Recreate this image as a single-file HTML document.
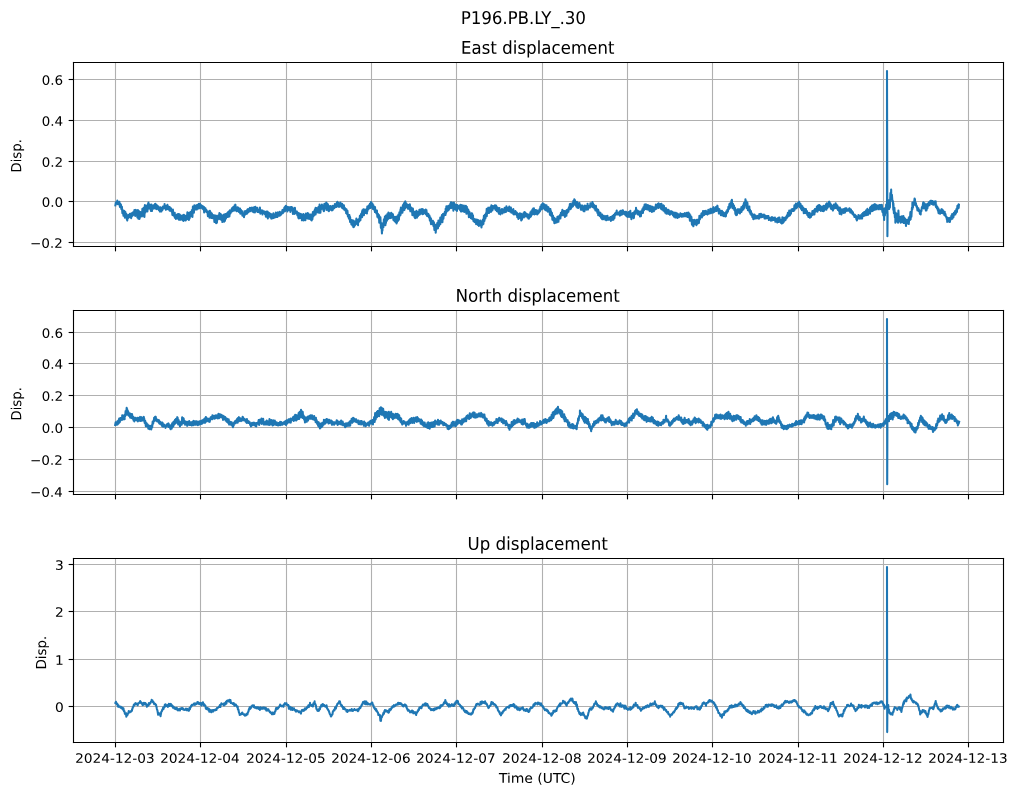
<!DOCTYPE html>
<html><head><meta charset="utf-8"><style>html,body{margin:0;padding:0;background:#fff;overflow:hidden;font-family:"Liberation Sans",sans-serif;}svg{display:block;}</style></head><body>
<svg width="1018" height="795" viewBox="0 0 732.96 572.4" version="1.1">
<defs>
<style type="text/css">*{stroke-linejoin: round; stroke-linecap: butt}</style>
</defs>
<g id="figure_1">
<g id="patch_1">
<path d="M 0 572.4
L 732.96 572.4
L 732.96 0
L 0 0
z
" style="fill: #ffffff"/>
</g>
<g id="axes_1">
<g id="patch_2">
<path d="M 52.92 177.48
L 722.52 177.48
L 722.52 45
L 52.92 45
z
" style="fill: #ffffff"/>
</g>
<g id="matplotlib.axis_1">
<g id="xtick_1">
<g id="line2d_1">
<path d="M 83.16 177.48
L 83.16 45
" clip-path="url(#p42a139c34b)" style="fill: none; stroke: #b0b0b0; stroke-width: 0.8; stroke-linecap: square"/>
</g>
<g id="line2d_2">
<defs>
<path id="m1504cfccaf" d="M 0 0
L 0 3.5
" style="stroke: #000000; stroke-width: 0.8"/>
</defs>
<g>
<use href="#m1504cfccaf" x="83.16" y="177.48" style="stroke: #000000; stroke-width: 0.8"/>
</g>
</g>
</g>
<g id="xtick_2">
<g id="line2d_3">
<path d="M 144.36 177.48
L 144.36 45
" clip-path="url(#p42a139c34b)" style="fill: none; stroke: #b0b0b0; stroke-width: 0.8; stroke-linecap: square"/>
</g>
<g id="line2d_4">
<g>
<use href="#m1504cfccaf" x="144.36" y="177.48" style="stroke: #000000; stroke-width: 0.8"/>
</g>
</g>
</g>
<g id="xtick_3">
<g id="line2d_5">
<path d="M 206.28 177.48
L 206.28 45
" clip-path="url(#p42a139c34b)" style="fill: none; stroke: #b0b0b0; stroke-width: 0.8; stroke-linecap: square"/>
</g>
<g id="line2d_6">
<g>
<use href="#m1504cfccaf" x="206.28" y="177.48" style="stroke: #000000; stroke-width: 0.8"/>
</g>
</g>
</g>
<g id="xtick_4">
<g id="line2d_7">
<path d="M 267.48 177.48
L 267.48 45
" clip-path="url(#p42a139c34b)" style="fill: none; stroke: #b0b0b0; stroke-width: 0.8; stroke-linecap: square"/>
</g>
<g id="line2d_8">
<g>
<use href="#m1504cfccaf" x="267.48" y="177.48" style="stroke: #000000; stroke-width: 0.8"/>
</g>
</g>
</g>
<g id="xtick_5">
<g id="line2d_9">
<path d="M 328.68 177.48
L 328.68 45
" clip-path="url(#p42a139c34b)" style="fill: none; stroke: #b0b0b0; stroke-width: 0.8; stroke-linecap: square"/>
</g>
<g id="line2d_10">
<g>
<use href="#m1504cfccaf" x="328.68" y="177.48" style="stroke: #000000; stroke-width: 0.8"/>
</g>
</g>
</g>
<g id="xtick_6">
<g id="line2d_11">
<path d="M 390.6 177.48
L 390.6 45
" clip-path="url(#p42a139c34b)" style="fill: none; stroke: #b0b0b0; stroke-width: 0.8; stroke-linecap: square"/>
</g>
<g id="line2d_12">
<g>
<use href="#m1504cfccaf" x="390.6" y="177.48" style="stroke: #000000; stroke-width: 0.8"/>
</g>
</g>
</g>
<g id="xtick_7">
<g id="line2d_13">
<path d="M 451.8 177.48
L 451.8 45
" clip-path="url(#p42a139c34b)" style="fill: none; stroke: #b0b0b0; stroke-width: 0.8; stroke-linecap: square"/>
</g>
<g id="line2d_14">
<g>
<use href="#m1504cfccaf" x="451.8" y="177.48" style="stroke: #000000; stroke-width: 0.8"/>
</g>
</g>
</g>
<g id="xtick_8">
<g id="line2d_15">
<path d="M 513 177.48
L 513 45
" clip-path="url(#p42a139c34b)" style="fill: none; stroke: #b0b0b0; stroke-width: 0.8; stroke-linecap: square"/>
</g>
<g id="line2d_16">
<g>
<use href="#m1504cfccaf" x="513" y="177.48" style="stroke: #000000; stroke-width: 0.8"/>
</g>
</g>
</g>
<g id="xtick_9">
<g id="line2d_17">
<path d="M 574.92 177.48
L 574.92 45
" clip-path="url(#p42a139c34b)" style="fill: none; stroke: #b0b0b0; stroke-width: 0.8; stroke-linecap: square"/>
</g>
<g id="line2d_18">
<g>
<use href="#m1504cfccaf" x="574.92" y="177.48" style="stroke: #000000; stroke-width: 0.8"/>
</g>
</g>
</g>
<g id="xtick_10">
<g id="line2d_19">
<path d="M 636.12 177.48
L 636.12 45
" clip-path="url(#p42a139c34b)" style="fill: none; stroke: #b0b0b0; stroke-width: 0.8; stroke-linecap: square"/>
</g>
<g id="line2d_20">
<g>
<use href="#m1504cfccaf" x="636.12" y="177.48" style="stroke: #000000; stroke-width: 0.8"/>
</g>
</g>
</g>
<g id="xtick_11">
<g id="line2d_21">
<path d="M 697.32 177.48
L 697.32 45
" clip-path="url(#p42a139c34b)" style="fill: none; stroke: #b0b0b0; stroke-width: 0.8; stroke-linecap: square"/>
</g>
<g id="line2d_22">
<g>
<use href="#m1504cfccaf" x="697.32" y="177.48" style="stroke: #000000; stroke-width: 0.8"/>
</g>
</g>
</g>
</g>
<g id="matplotlib.axis_2">
<g id="ytick_1">
<g id="line2d_23">
<path d="M 52.92 174.6
L 722.52 174.6
" clip-path="url(#p42a139c34b)" style="fill: none; stroke: #b0b0b0; stroke-width: 0.8; stroke-linecap: square"/>
</g>
<g id="line2d_24">
<defs>
<path id="m5d545ce8f8" d="M 0 0
L -3.5 0
" style="stroke: #000000; stroke-width: 0.8"/>
</defs>
<g>
<use href="#m5d545ce8f8" x="52.92" y="174.6" style="stroke: #000000; stroke-width: 0.8"/>
</g>
</g>
<g id="text_1">
<g transform="translate(21.6372 178.3992) scale(0.09700 -0.09300)">
<defs>
<path id="DejaVuSans-2212" d="M 678 2272
L 4684 2272
L 4684 1741
L 678 1741
L 678 2272
z
" transform="scale(0.015625)"/>
<path id="DejaVuSans-30" d="M 2034 4250
Q 1547 4250 1301 3770
Q 1056 3291 1056 2328
Q 1056 1369 1301 889
Q 1547 409 2034 409
Q 2525 409 2770 889
Q 3016 1369 3016 2328
Q 3016 3291 2770 3770
Q 2525 4250 2034 4250
z
M 2034 4750
Q 2819 4750 3233 4129
Q 3647 3509 3647 2328
Q 3647 1150 3233 529
Q 2819 -91 2034 -91
Q 1250 -91 836 529
Q 422 1150 422 2328
Q 422 3509 836 4129
Q 1250 4750 2034 4750
z
" transform="scale(0.015625)"/>
<path id="DejaVuSans-2e" d="M 684 794
L 1344 794
L 1344 0
L 684 0
L 684 794
z
" transform="scale(0.015625)"/>
<path id="DejaVuSans-32" d="M 1228 531
L 3431 531
L 3431 0
L 469 0
L 469 531
Q 828 903 1448 1529
Q 2069 2156 2228 2338
Q 2531 2678 2651 2914
Q 2772 3150 2772 3378
Q 2772 3750 2511 3984
Q 2250 4219 1831 4219
Q 1534 4219 1204 4116
Q 875 4013 500 3803
L 500 4441
Q 881 4594 1212 4672
Q 1544 4750 1819 4750
Q 2544 4750 2975 4387
Q 3406 4025 3406 3419
Q 3406 3131 3298 2873
Q 3191 2616 2906 2266
Q 2828 2175 2409 1742
Q 1991 1309 1228 531
z
" transform="scale(0.015625)"/>
</defs>
<use href="#DejaVuSans-2212"/>
<use href="#DejaVuSans-30" transform="translate(83.789062 0)"/>
<use href="#DejaVuSans-2e" transform="translate(147.412109 0)"/>
<use href="#DejaVuSans-32" transform="translate(179.199219 0)"/>
</g>
</g>
</g>
<g id="ytick_2">
<g id="line2d_25">
<path d="M 52.92 145.08
L 722.52 145.08
" clip-path="url(#p42a139c34b)" style="fill: none; stroke: #b0b0b0; stroke-width: 0.8; stroke-linecap: square"/>
</g>
<g id="line2d_26">
<g>
<use href="#m5d545ce8f8" x="52.92" y="145.08" style="stroke: #000000; stroke-width: 0.8"/>
</g>
</g>
<g id="text_2">
<g transform="translate(30.0169 148.8792) scale(0.09700 -0.09300)">
<use href="#DejaVuSans-30"/>
<use href="#DejaVuSans-2e" transform="translate(63.623047 0)"/>
<use href="#DejaVuSans-30" transform="translate(95.410156 0)"/>
</g>
</g>
</g>
<g id="ytick_3">
<g id="line2d_27">
<path d="M 52.92 116.28
L 722.52 116.28
" clip-path="url(#p42a139c34b)" style="fill: none; stroke: #b0b0b0; stroke-width: 0.8; stroke-linecap: square"/>
</g>
<g id="line2d_28">
<g>
<use href="#m5d545ce8f8" x="52.92" y="116.28" style="stroke: #000000; stroke-width: 0.8"/>
</g>
</g>
<g id="text_3">
<g transform="translate(30.0169 120.0792) scale(0.09700 -0.09300)">
<use href="#DejaVuSans-30"/>
<use href="#DejaVuSans-2e" transform="translate(63.623047 0)"/>
<use href="#DejaVuSans-32" transform="translate(95.410156 0)"/>
</g>
</g>
</g>
<g id="ytick_4">
<g id="line2d_29">
<path d="M 52.92 86.76
L 722.52 86.76
" clip-path="url(#p42a139c34b)" style="fill: none; stroke: #b0b0b0; stroke-width: 0.8; stroke-linecap: square"/>
</g>
<g id="line2d_30">
<g>
<use href="#m5d545ce8f8" x="52.92" y="86.76" style="stroke: #000000; stroke-width: 0.8"/>
</g>
</g>
<g id="text_4">
<g transform="translate(30.0169 90.5592) scale(0.09700 -0.09300)">
<defs>
<path id="DejaVuSans-34" d="M 2419 4116
L 825 1625
L 2419 1625
L 2419 4116
z
M 2253 4666
L 3047 4666
L 3047 1625
L 3713 1625
L 3713 1100
L 3047 1100
L 3047 0
L 2419 0
L 2419 1100
L 313 1100
L 313 1709
L 2253 4666
z
" transform="scale(0.015625)"/>
</defs>
<use href="#DejaVuSans-30"/>
<use href="#DejaVuSans-2e" transform="translate(63.623047 0)"/>
<use href="#DejaVuSans-34" transform="translate(95.410156 0)"/>
</g>
</g>
</g>
<g id="ytick_5">
<g id="line2d_31">
<path d="M 52.92 57.24
L 722.52 57.24
" clip-path="url(#p42a139c34b)" style="fill: none; stroke: #b0b0b0; stroke-width: 0.8; stroke-linecap: square"/>
</g>
<g id="line2d_32">
<g>
<use href="#m5d545ce8f8" x="52.92" y="57.24" style="stroke: #000000; stroke-width: 0.8"/>
</g>
</g>
<g id="text_5">
<g transform="translate(30.0169 61.0392) scale(0.09700 -0.09300)">
<defs>
<path id="DejaVuSans-36" d="M 2113 2584
Q 1688 2584 1439 2293
Q 1191 2003 1191 1497
Q 1191 994 1439 701
Q 1688 409 2113 409
Q 2538 409 2786 701
Q 3034 994 3034 1497
Q 3034 2003 2786 2293
Q 2538 2584 2113 2584
z
M 3366 4563
L 3366 3988
Q 3128 4100 2886 4159
Q 2644 4219 2406 4219
Q 1781 4219 1451 3797
Q 1122 3375 1075 2522
Q 1259 2794 1537 2939
Q 1816 3084 2150 3084
Q 2853 3084 3261 2657
Q 3669 2231 3669 1497
Q 3669 778 3244 343
Q 2819 -91 2113 -91
Q 1303 -91 875 529
Q 447 1150 447 2328
Q 447 3434 972 4092
Q 1497 4750 2381 4750
Q 2619 4750 2861 4703
Q 3103 4656 3366 4563
z
" transform="scale(0.015625)"/>
</defs>
<use href="#DejaVuSans-30"/>
<use href="#DejaVuSans-2e" transform="translate(63.623047 0)"/>
<use href="#DejaVuSans-36" transform="translate(95.410156 0)"/>
</g>
</g>
</g>
<g id="text_6">
<g transform="translate(15.2695 124.2430) rotate(-90) scale(0.09550 -0.10000)">
<defs>
<path id="DejaVuSans-44" d="M 1259 4147
L 1259 519
L 2022 519
Q 2988 519 3436 956
Q 3884 1394 3884 2338
Q 3884 3275 3436 3711
Q 2988 4147 2022 4147
L 1259 4147
z
M 628 4666
L 1925 4666
Q 3281 4666 3915 4102
Q 4550 3538 4550 2338
Q 4550 1131 3912 565
Q 3275 0 1925 0
L 628 0
L 628 4666
z
" transform="scale(0.015625)"/>
<path id="DejaVuSans-69" d="M 603 3500
L 1178 3500
L 1178 0
L 603 0
L 603 3500
z
M 603 4863
L 1178 4863
L 1178 4134
L 603 4134
L 603 4863
z
" transform="scale(0.015625)"/>
<path id="DejaVuSans-73" d="M 2834 3397
L 2834 2853
Q 2591 2978 2328 3040
Q 2066 3103 1784 3103
Q 1356 3103 1142 2972
Q 928 2841 928 2578
Q 928 2378 1081 2264
Q 1234 2150 1697 2047
L 1894 2003
Q 2506 1872 2764 1633
Q 3022 1394 3022 966
Q 3022 478 2636 193
Q 2250 -91 1575 -91
Q 1294 -91 989 -36
Q 684 19 347 128
L 347 722
Q 666 556 975 473
Q 1284 391 1588 391
Q 1994 391 2212 530
Q 2431 669 2431 922
Q 2431 1156 2273 1281
Q 2116 1406 1581 1522
L 1381 1569
Q 847 1681 609 1914
Q 372 2147 372 2553
Q 372 3047 722 3315
Q 1072 3584 1716 3584
Q 2034 3584 2315 3537
Q 2597 3491 2834 3397
z
" transform="scale(0.015625)"/>
<path id="DejaVuSans-70" d="M 1159 525
L 1159 -1331
L 581 -1331
L 581 3500
L 1159 3500
L 1159 2969
Q 1341 3281 1617 3432
Q 1894 3584 2278 3584
Q 2916 3584 3314 3078
Q 3713 2572 3713 1747
Q 3713 922 3314 415
Q 2916 -91 2278 -91
Q 1894 -91 1617 61
Q 1341 213 1159 525
z
M 3116 1747
Q 3116 2381 2855 2742
Q 2594 3103 2138 3103
Q 1681 3103 1420 2742
Q 1159 2381 1159 1747
Q 1159 1113 1420 752
Q 1681 391 2138 391
Q 2594 391 2855 752
Q 3116 1113 3116 1747
z
" transform="scale(0.015625)"/>
</defs>
<use href="#DejaVuSans-44"/>
<use href="#DejaVuSans-69" transform="translate(77.001953 0)"/>
<use href="#DejaVuSans-73" transform="translate(104.785156 0)"/>
<use href="#DejaVuSans-70" transform="translate(156.884766 0)"/>
<use href="#DejaVuSans-2e" transform="translate(220.361328 0)"/>
</g>
</g>
</g>
<g id="line2d_33">
<path d="M 83.088 147.8952
L 83.448 145.5912
L 83.808 146.3616
L 84.168 145.4904
L 84.4416 146.8008
L 84.4776 144.432
L 84.888 147.0096
L 85.248 145.6632
L 85.608 147.0816
L 85.968 145.2816
L 86.328 148.9248
L 86.5728 146.7144
L 86.6088 149.2272
L 87.048 147.2472
L 87.408 150.5016
L 87.768 148.9032
L 88.128 153.4968
L 88.488 152.0496
L 88.9416 155.3328
L 88.9776 151.5096
L 89.208 154.3752
L 89.568 151.8912
L 89.928 156.744
L 90.288 152.7408
L 90.648 156.3696
L 91.008 154.1736
L 91.368 158.148
L 91.5552 154.8936
L 91.5912 158.8032
L 92.088 155.088
L 92.448 156.8808
L 92.808 154.584
L 93.168 156.384
L 93.528 153.9864
L 93.888 156.0528
L 94.248 154.4616
L 94.4568 157.0608
L 94.4928 153.828
L 94.968 155.8152
L 95.328 153.2088
L 95.688 155.0664
L 96.048 152.5896
L 96.408 154.6488
L 96.768 151.2576
L 97.128 153.8856
L 97.3656 151.4016
L 97.4016 155.4624
L 97.848 151.1424
L 98.208 154.8576
L 98.568 152.4456
L 98.928 156.6072
L 99.288 151.2144
L 99.648 157.4856
L 100.008 151.9992
L 100.368 157.6296
L 100.5624 152.5248
L 100.5984 156.9672
L 101.088 152.6832
L 101.448 155.7576
L 101.808 152.6184
L 102.168 155.7792
L 102.528 150.3936
L 102.888 155.0592
L 103.248 150.444
L 103.464 155.5128
L 103.5 149.5656
L 103.968 156.1608
L 104.328 147.6936
L 104.688 152.964
L 105.048 149.004
L 105.408 151.2936
L 105.768 148.0032
L 106.128 152.2152
L 106.488 146.8584
L 106.848 150.1848
L 106.884 145.8864
L 107.208 149.616
L 107.568 147.024
L 107.928 150.264
L 108.288 148.572
L 108.648 151.9272
L 109.008 147.2472
L 109.4544 151.9344
L 109.4904 147.78
L 109.728 150.4584
L 110.088 148.0752
L 110.448 150.192
L 110.808 147.9024
L 111.168 149.7672
L 111.528 146.9088
L 111.8304 150.1848
L 111.8664 146.808
L 112.248 148.7664
L 112.608 147.3984
L 112.968 150.552
L 113.328 148.2336
L 113.688 150.2712
L 114.048 148.7088
L 114.408 151.3224
L 114.768 149.508
L 115.128 152.3088
L 115.56 149.3208
L 115.596 152.316
L 115.848 150.552
L 116.208 152.3016
L 116.568 149.616
L 116.928 151.2288
L 117.288 148.6656
L 117.648 150.156
L 118.008 148.4712
L 118.4616 149.796
L 118.4976 146.952
L 118.728 149.8536
L 119.088 148.0752
L 119.448 151.0632
L 119.808 148.4856
L 120.168 150.444
L 120.528 147.42
L 120.888 150.6456
L 121.248 148.6368
L 121.608 150.8544
L 122.1408 149.0328
L 122.1768 151.7832
L 122.328 149.4792
L 122.688 151.2432
L 123.048 149.9328
L 123.408 152.0928
L 123.768 151.128
L 124.128 154.6776
L 124.488 150.8688
L 124.848 155.1024
L 125.208 153.9504
L 125.568 155.7576
L 125.8128 153.18
L 125.8488 156.708
L 126.288 155.0304
L 126.648 157.5864
L 127.008 154.8504
L 127.368 157.2696
L 127.728 154.2384
L 128.088 157.2912
L 128.448 154.1808
L 128.808 158.1984
L 129.168 154.2168
L 129.528 157.8096
L 129.8088 154.8864
L 129.8448 158.2632
L 130.248 155.484
L 130.608 157.5792
L 130.968 155.2896
L 131.328 158.3352
L 131.688 154.9512
L 132.048 159.1416
L 132.408 154.5984
L 132.768 158.2848
L 133.128 155.6856
L 133.632 158.7384
L 133.668 155.3688
L 133.848 158.4072
L 134.208 155.2536
L 134.568 157.1472
L 134.928 152.9136
L 135.288 157.7808
L 135.648 153.4248
L 136.008 158.3424
L 136.4976 152.9784
L 136.5336 157.3056
L 136.728 154.7784
L 137.088 155.8368
L 137.448 152.46
L 137.808 155.232
L 138.168 151.1568
L 138.528 156.2328
L 138.888 148.7448
L 139.356 153.0144
L 139.392 148.68
L 139.608 153.1152
L 139.968 147.7296
L 140.328 150.6096
L 140.688 148.7448
L 141.048 150.8832
L 141.408 147.888
L 141.768 150.7392
L 142.128 147.6792
L 142.488 149.9112
L 142.848 147.168
L 143.1792 150.1488
L 143.2152 146.772
L 143.568 149.2704
L 143.928 146.6784
L 144.288 149.6592
L 144.648 147.564
L 145.008 149.5872
L 145.368 148.1616
L 145.728 150.2568
L 146.088 148.5504
L 146.448 150.7968
L 146.808 149.0976
L 146.9952 153.0144
L 147.0312 149.1624
L 147.528 151.344
L 147.888 149.9472
L 148.248 152.2944
L 148.608 151.2432
L 148.968 152.784
L 149.328 152.2512
L 149.688 155.6712
L 150.048 152.3376
L 150.408 155.5632
L 150.8184 152.9784
L 150.8544 156.8304
L 151.128 151.8192
L 151.488 155.9232
L 151.848 153.0576
L 152.208 156.924
L 152.568 153.7632
L 152.928 157.032
L 153.288 154.8
L 153.648 156.7008
L 154.008 155.1672
L 154.368 159.804
L 154.728 155.0088
L 155.088 158.2344
L 155.592 155.844
L 155.628 160.6536
L 155.808 155.2968
L 156.168 160.3296
L 156.528 155.8584
L 156.888 158.0184
L 157.248 155.0592
L 157.608 157.4424
L 157.968 153.4248
L 158.4576 157.788
L 158.4936 153.936
L 158.688 157.2984
L 159.048 154.296
L 159.408 158.364
L 159.768 156.2256
L 160.128 159.8616
L 160.488 154.9872
L 160.848 158.58
L 161.3232 154.4112
L 161.3592 159.696
L 161.568 154.7712
L 161.928 158.9832
L 162.288 154.0584
L 162.648 157.3704
L 163.008 154.152
L 163.368 156.2328
L 163.728 153.2736
L 164.088 156.2472
L 164.448 152.4168
L 164.808 155.9016
L 165.1392 152.0208
L 165.1752 155.88
L 165.528 151.4664
L 165.888 153.756
L 166.248 152.0712
L 166.608 152.4096
L 166.968 149.8896
L 167.328 152.1216
L 167.688 149.3352
L 168.048 151.6608
L 168.408 148.8816
L 168.768 149.9688
L 168.9624 147.7296
L 168.9984 151.5816
L 169.488 147.3624
L 169.848 151.6032
L 170.208 149.7528
L 170.568 152.136
L 170.928 149.2272
L 171.288 151.4664
L 171.648 149.5944
L 172.008 152.5968
L 172.368 150.5088
L 172.7928 153.252
L 172.8288 150.1128
L 173.088 153.792
L 173.448 151.128
L 173.808 153.1944
L 174.168 151.9416
L 174.528 155.196
L 174.888 153.9432
L 175.248 155.6208
L 175.6584 153.4536
L 175.6944 156.3552
L 175.968 152.208
L 176.328 154.7784
L 176.688 152.2008
L 177.048 153.9648
L 177.408 151.7832
L 177.768 153.9576
L 178.128 150.8688
L 178.5312 153.0144
L 178.5672 150.588
L 178.848 152.82
L 179.208 150.8472
L 179.568 152.1576
L 179.928 149.5728
L 180.288 152.0568
L 180.648 150.0264
L 181.008 151.1712
L 181.368 149.5224
L 181.728 152.2152
L 182.088 149.6232
L 182.3472 152.532
L 182.3832 149.6376
L 182.808 152.82
L 183.168 149.184
L 183.528 153
L 183.888 148.896
L 184.248 151.7544
L 184.608 150.5088
L 184.968 151.6968
L 185.2128 149.6376
L 185.2488 152.532
L 185.688 151.2288
L 186.048 152.6832
L 186.408 150.9696
L 186.768 152.8056
L 187.128 149.5008
L 187.488 153.828
L 187.848 152.1576
L 188.208 153.2592
L 188.568 151.38
L 189.036 154.4472
L 189.072 151.5456
L 189.288 153.7416
L 189.648 152.0568
L 190.008 153.2232
L 190.368 152.2656
L 190.728 154.0224
L 191.088 153.5832
L 191.448 155.9592
L 191.808 152.316
L 192.168 156.0672
L 192.528 152.2296
L 192.852 157.3056
L 192.888 153.4536
L 193.248 155.9664
L 193.608 153.1152
L 193.968 155.8224
L 194.328 153.7848
L 194.688 156.5856
L 195.048 154.0512
L 195.408 157.3776
L 195.7176 154.4112
L 195.7536 157.3056
L 196.128 155.4696
L 196.488 157.0464
L 196.848 153.648
L 197.208 156.9024
L 197.568 154.4112
L 197.928 156.6144
L 198.288 154.6344
L 198.5832 155.88
L 198.6192 152.9784
L 199.008 156.2688
L 199.368 153.684
L 199.728 156.2112
L 200.088 152.9136
L 200.448 155.3688
L 200.808 153.6912
L 201.168 154.9728
L 201.4488 152.5032
L 201.4848 155.3976
L 201.888 153.7992
L 202.248 154.728
L 202.608 152.8848
L 202.968 153.7344
L 203.328 151.2792
L 203.688 153.432
L 204.048 150.8832
L 204.408 152.5248
L 204.768 149.3856
L 205.2648 152.0568
L 205.3008 148.68
L 205.488 151.3152
L 205.848 148.1544
L 206.208 151.0128
L 206.568 148.9608
L 206.928 152.28
L 207.288 149.1408
L 207.648 151.0776
L 208.008 149.2992
L 208.368 151.1784
L 208.728 149.184
L 209.088 152.532
L 209.124 149.1624
L 209.448 151.3152
L 209.808 149.0904
L 210.168 151.2864
L 210.528 149.4072
L 210.888 154.0224
L 211.248 150.1272
L 211.608 153.3672
L 211.9536 150.1128
L 211.9896 153.9648
L 212.328 149.5944
L 212.688 153.5616
L 213.048 152.1432
L 213.408 153.7128
L 213.768 152.3736
L 214.128 155.0088
L 214.488 153.2664
L 214.8192 156.8304
L 214.8552 153.4536
L 215.208 157.2912
L 215.568 153.72
L 215.928 157.0104
L 216.288 154.0224
L 216.648 156.2544
L 217.008 154.2672
L 217.368 158.6376
L 217.728 155.8296
L 218.088 158.0328
L 218.448 154.1376
L 218.6352 158.7384
L 218.6712 154.4112
L 219.168 157.4424
L 219.528 155.7216
L 219.888 158.508
L 220.248 153.7416
L 220.608 156.9672
L 220.968 153.684
L 221.5008 157.3056
L 221.5368 153.4536
L 221.688 157.1976
L 222.048 153.8352
L 222.408 157.5288
L 222.768 155.8944
L 223.128 157.6152
L 223.488 154.5408
L 223.848 158.0976
L 224.3664 154.4112
L 224.4024 158.7384
L 224.568 154.8
L 224.928 157.8672
L 225.288 152.5896
L 225.648 155.7144
L 226.008 152.1864
L 226.368 154.7352
L 226.728 150.696
L 227.232 154.4472
L 227.268 149.6376
L 227.448 152.7408
L 227.808 149.7312
L 228.168 153
L 228.528 150.0696
L 228.888 152.2872
L 229.248 149.1552
L 229.608 153.1584
L 230.0976 147.2472
L 230.1336 152.0568
L 230.328 148.8168
L 230.688 153.144
L 231.048 148.2552
L 231.408 150.4944
L 231.768 147.3264
L 232.128 150.2784
L 232.488 148.4064
L 232.956 151.5816
L 232.992 147.7296
L 233.208 152.0928
L 233.568 146.7432
L 233.928 149.3712
L 234.288 147.2976
L 234.648 149.8392
L 234.8712 145.8144
L 234.9072 151.0992
L 235.368 146.3184
L 235.728 150.9264
L 236.088 147.1464
L 236.448 151.6464
L 236.7792 148.68
L 236.8152 152.0568
L 237.168 148.5864
L 237.528 151.2576
L 237.888 148.3344
L 238.248 150.516
L 238.608 149.0544
L 238.968 151.5096
L 239.328 148.3272
L 239.6448 151.0992
L 239.6808 148.2048
L 240.048 150.0048
L 240.408 148.2768
L 240.768 149.9328
L 241.128 146.8368
L 241.488 149.0328
L 241.848 146.8512
L 242.208 149.0256
L 242.5104 145.8144
L 242.5464 148.716
L 242.928 145.3392
L 243.288 147.8808
L 243.648 146.232
L 244.008 148.9104
L 244.368 146.6496
L 244.728 148.7664
L 245.088 145.764
L 245.448 148.4136
L 245.808 146.8368
L 246.3264 149.6664
L 246.3624 146.772
L 246.528 148.2408
L 246.888 147.6864
L 247.248 150.3216
L 247.608 147.8664
L 247.968 151.0344
L 248.328 149.7744
L 248.688 151.5024
L 249.192 150.588
L 249.228 153.4896
L 249.408 150.6312
L 249.768 153.936
L 250.128 151.6968
L 250.488 155.7648
L 250.848 154.6488
L 251.208 157.3128
L 251.568 154.8864
L 252.0576 159.696
L 252.0936 156.3192
L 252.288 159.8904
L 252.648 158.4072
L 253.008 161.4816
L 253.368 158.3856
L 253.728 162.324
L 254.088 159.8328
L 254.448 163.5192
L 254.484 158.7096
L 254.808 163.3248
L 255.168 159.7968
L 255.528 162.3384
L 255.888 159.2928
L 256.248 161.3664
L 256.608 157.2768
L 256.968 160.9128
L 257.328 158.4216
L 257.7888 162.0864
L 257.8248 158.2272
L 258.048 160.1352
L 258.408 157.7088
L 258.768 159.4872
L 259.128 155.3328
L 259.488 158.4648
L 259.848 154.1448
L 260.208 156.1608
L 260.6544 152.5032
L 260.6904 156.3552
L 260.928 151.38
L 261.288 154.512
L 261.648 150.7104
L 262.008 154.9224
L 262.368 150.9408
L 262.728 153.3888
L 263.088 151.6608
L 263.448 153.3744
L 263.808 150.5232
L 264.168 153.6552
L 264.4704 148.68
L 264.5064 152.0568
L 264.888 148.6368
L 265.248 150.6816
L 265.608 147.8808
L 265.968 149.9184
L 266.328 146.7576
L 266.688 149.7456
L 267.1056 145.4688
L 267.1416 148.8456
L 267.408 146.1528
L 267.768 149.4144
L 268.128 146.592
L 268.488 150.4296
L 268.848 147.8016
L 269.208 150.7248
L 269.568 149.112
L 269.9712 152.6616
L 270.0072 149.0472
L 270.288 152.7912
L 270.648 151.3512
L 271.008 153.612
L 271.368 151.524
L 271.728 156.1104
L 272.088 153.8928
L 272.448 156.9168
L 272.808 154.8072
L 273.0816 160.4304
L 273.1176 155.6208
L 273.528 160.1424
L 273.888 156.5208
L 274.248 164.0376
L 274.608 160.5816
L 274.9968 168.0696
L 275.0328 162.3096
L 275.328 166.1328
L 275.688 160.7472
L 276.048 163.5048
L 276.408 157.9104
L 276.768 161.6832
L 277.128 155.988
L 277.488 162.1728
L 277.8624 155.1456
L 277.8984 160.4304
L 278.208 156.0456
L 278.568 158.8896
L 278.928 154.044
L 279.288 157.8816
L 279.648 153.108
L 280.008 156.42
L 280.368 153.6264
L 280.728 157.104
L 281.088 154.3968
L 281.448 156.924
L 281.6784 153.2376
L 281.7144 156.6144
L 282.168 153.7056
L 282.528 156.1464
L 282.888 154.2384
L 283.248 158.292
L 283.608 156.3192
L 283.968 159.0624
L 284.328 156.0888
L 284.688 159.7248
L 285.048 156.2688
L 285.5016 160.9056
L 285.5376 156.5784
L 285.768 160.2864
L 286.128 155.5056
L 286.488 159.048
L 286.848 154.4688
L 287.208 158.2344
L 287.568 152.9208
L 287.928 155.1888
L 288.36 150.8472
L 288.396 154.6992
L 288.648 149.3712
L 289.008 152.46
L 289.368 149.5728
L 289.728 153.1224
L 290.088 147.5928
L 290.448 151.4376
L 290.808 146.3904
L 291.168 151.1136
L 291.708 145.1232
L 291.744 149.9256
L 291.888 145.1448
L 292.248 149.3712
L 292.608 146.4768
L 292.968 149.076
L 293.328 147.348
L 293.688 150.1992
L 294.048 147.6
L 294.408 150.2712
L 294.768 147.3192
L 295.0488 150.8832
L 295.0848 147.0312
L 295.488 152.1432
L 295.848 149.1624
L 296.208 152.2224
L 296.568 149.8752
L 296.928 154.8936
L 297.288 150.228
L 297.648 154.3104
L 298.008 152.2584
L 298.368 156.2184
L 298.8648 152.7624
L 298.9008 157.0896
L 299.088 154.6848
L 299.448 155.6064
L 299.808 151.7616
L 300.168 156.672
L 300.528 152.4096
L 300.888 155.6712
L 301.248 152.5824
L 301.608 154.8072
L 301.968 150.9696
L 302.328 154.3464
L 302.688 150.8472
L 302.724 153.7488
L 303.048 151.308
L 303.408 153
L 303.768 150.516
L 304.128 154.2672
L 304.488 150.7392
L 304.848 154.0224
L 305.208 151.8912
L 305.568 153.288
L 305.928 151.164
L 306.288 153.2376
L 306.504 150.8472
L 306.54 154.224
L 307.008 151.236
L 307.368 155.3976
L 307.728 153.5472
L 308.088 155.6208
L 308.448 154.1448
L 308.808 156.5568
L 309.168 155.1024
L 309.528 158.7816
L 309.888 156.6
L 310.3272 161.388
L 310.3632 157.536
L 310.608 160.7256
L 310.968 159.1128
L 311.328 161.2728
L 311.688 158.9544
L 312.048 162.612
L 312.408 160.1064
L 312.768 165.6072
L 313.128 161.7696
L 313.488 165.276
L 313.668 162.3096
L 313.704 167.5944
L 314.208 161.5464
L 314.568 164.664
L 314.928 160.4736
L 315.288 164.3832
L 315.648 158.8536
L 316.008 162.8424
L 316.368 159.5592
L 316.728 161.5968
L 317.0088 156.5784
L 317.0448 161.388
L 317.448 156.9456
L 317.808 159.8256
L 318.168 154.9008
L 318.528 159.9552
L 318.888 154.188
L 319.248 157.5144
L 319.608 153.684
L 319.968 155.016
L 320.328 152.4456
L 320.832 154.6992
L 320.868 150.372
L 321.048 153.4896
L 321.408 148.572
L 321.768 152.208
L 322.128 148.6656
L 322.488 151.5744
L 322.848 148.3056
L 323.208 151.0128
L 323.568 147.8232
L 323.928 149.58
L 324.288 146.5704
L 324.648 149.9256
L 324.684 145.5984
L 325.008 149.7096
L 325.368 145.872
L 325.728 148.824
L 326.088 147.0384
L 326.448 151.632
L 326.808 145.872
L 327.168 150.1776
L 327.528 147.0528
L 327.888 150.5664
L 328.248 147.6072
L 328.4712 151.3584
L 328.5072 147.5064
L 328.968 151.8696
L 329.328 147.636
L 329.688 150.1128
L 330.048 148.9032
L 330.408 150.0264
L 330.768 148.1256
L 331.128 151.0704
L 331.488 147.4776
L 331.848 152.2368
L 332.2872 147.9816
L 332.3232 152.316
L 332.568 147.6288
L 332.928 150.8544
L 333.288 148.9032
L 333.648 152.2296
L 334.008 147.9456
L 334.368 152.5392
L 334.728 149.7024
L 335.088 152.4168
L 335.448 148.2408
L 335.808 153.7992
L 336.1104 148.9392
L 336.1464 153.7488
L 336.528 150.1128
L 336.888 153
L 337.248 151.2864
L 337.608 156.4128
L 337.968 152.5536
L 338.328 156.1752
L 338.688 154.2672
L 339.048 157.1112
L 339.408 153.5112
L 339.9264 157.5648
L 339.9624 153.7128
L 340.128 157.5576
L 340.488 154.9368
L 340.848 159.0912
L 341.208 157.5
L 341.568 159.8112
L 341.928 157.8384
L 342.288 160.092
L 342.792 158.0112
L 342.828 161.388
L 343.008 160.1136
L 343.368 160.9704
L 343.728 158.3136
L 344.088 161.9496
L 344.448 158.6304
L 344.808 162.6336
L 345.168 159.4152
L 345.528 162.0432
L 345.888 158.8392
L 346.248 162.3816
L 346.6152 159.444
L 346.6512 163.7712
L 346.968 159.732
L 347.328 161.8416
L 347.688 158.0688
L 348.048 161.3232
L 348.408 155.3544
L 348.768 159.0048
L 349.128 154.7136
L 349.488 157.212
L 349.848 153.4968
L 350.208 154.98
L 350.4312 150.372
L 350.4672 155.6568
L 350.928 150.1056
L 351.288 153.3672
L 351.648 149.5224
L 352.008 153.3816
L 352.368 150.408
L 352.728 152.1504
L 353.088 149.1552
L 353.448 152.5536
L 353.808 147.8664
L 354.2544 151.3584
L 354.2904 148.464
L 354.528 151.488
L 354.888 148.2696
L 355.248 150.0984
L 355.608 148.5
L 355.968 149.7672
L 356.328 147.8808
L 356.688 150.9336
L 357.1128 147.9816
L 357.1488 151.3584
L 357.408 148.5432
L 357.768 152.064
L 358.128 149.3856
L 358.488 152.3808
L 358.848 149.9976
L 359.208 153.8424
L 359.568 149.7096
L 359.928 153.3816
L 360.2304 151.2
L 360.2664 154.332
L 360.648 151.4088
L 361.008 152.9136
L 361.368 150.5088
L 361.728 153.6264
L 362.088 150.9192
L 362.448 152.964
L 362.808 150.7536
L 363.3336 152.8992
L 363.3696 149.5296
L 363.528 152.4456
L 363.888 150.552
L 364.248 152.6184
L 364.608 148.5072
L 364.968 151.344
L 365.328 149.8824
L 365.688 151.7184
L 366.048 149.364
L 366.408 151.9416
L 366.6816 148.68
L 366.7176 152.0568
L 367.128 149.7816
L 367.488 152.424
L 367.848 149.4144
L 368.208 153.1512
L 368.568 151.2936
L 368.928 153.0288
L 369.288 151.1208
L 369.5472 153.9648
L 369.5832 150.588
L 370.008 154.404
L 370.368 152.3448
L 370.728 154.1592
L 371.088 151.9704
L 371.448 154.296
L 371.808 152.8272
L 372.168 154.9512
L 372.4128 153.4536
L 372.4488 156.3552
L 372.888 153.8856
L 373.248 157.5936
L 373.608 155.0016
L 373.968 156.4272
L 374.328 153.6192
L 374.688 156.9744
L 375.048 154.4544
L 375.2784 158.7384
L 375.3144 153.936
L 375.768 158.0976
L 376.128 155.1672
L 376.488 156.132
L 376.848 153.5616
L 377.208 156.5064
L 377.568 152.7048
L 377.928 155.1744
L 378.144 152.9784
L 378.18 155.88
L 378.648 153.7056
L 379.008 154.8
L 379.368 153.9864
L 379.728 156.5064
L 380.088 154.6272
L 380.5272 157.3056
L 380.5632 154.4112
L 380.808 157.4496
L 381.168 155.0016
L 381.528 156.4848
L 381.888 152.9136
L 382.248 155.8512
L 382.608 151.9632
L 382.968 154.584
L 383.328 150.9624
L 383.688 154.1016
L 383.8752 150.1128
L 383.9112 153.9648
L 384.408 150.0336
L 384.768 154.4472
L 385.128 151.1424
L 385.488 154.044
L 385.848 151.1568
L 386.208 153.9
L 386.7408 151.5456
L 386.7768 154.4472
L 386.928 152.0208
L 387.288 153.864
L 387.648 152.1792
L 388.008 153.1368
L 388.368 150.7104
L 388.728 152.2584
L 389.088 148.788
L 389.448 150.9336
L 389.808 147.5208
L 390.168 150.6168
L 390.5568 146.772
L 390.5928 150.1488
L 390.888 146.3616
L 391.248 148.8672
L 391.608 146.9952
L 391.968 150.4656
L 392.328 147.5064
L 392.688 151.2504
L 393.048 148.4928
L 393.4224 151.5816
L 393.4584 147.7296
L 393.768 151.6536
L 394.128 148.8168
L 394.488 152.3736
L 394.848 149.328
L 395.208 152.0136
L 395.568 150.3648
L 395.928 154.5264
L 396.288 150.588
L 396.324 154.9224
L 396.648 152.0064
L 397.008 155.4984
L 397.368 153.288
L 397.728 158.1768
L 398.088 155.1168
L 398.448 158.7384
L 398.808 157.2912
L 399.1536 160.6536
L 399.1896 156.8016
L 399.528 160.0848
L 399.888 157.7016
L 400.248 160.4016
L 400.608 157.7952
L 400.968 160.056
L 401.328 156.0456
L 401.688 158.0328
L 402.0192 155.844
L 402.0552 159.696
L 402.408 155.8152
L 402.768 156.852
L 403.128 154.9008
L 403.488 157.3056
L 403.848 153.2304
L 404.208 155.1528
L 404.568 152.244
L 404.8776 154.9224
L 404.9136 151.0704
L 405.288 154.8576
L 405.648 151.9344
L 406.008 154.9944
L 406.368 151.9776
L 406.728 156.2112
L 407.088 152.5032
L 407.448 154.3968
L 407.7432 151.5456
L 407.7792 155.3976
L 408.168 151.2072
L 408.528 153.3096
L 408.888 150.7824
L 409.248 152.4744
L 409.608 149.2416
L 409.968 150.1056
L 410.328 146.844
L 410.6088 150.624
L 410.6448 146.772
L 411.048 150.192
L 411.408 147.204
L 411.768 149.1624
L 412.128 146.2536
L 412.488 148.5216
L 412.848 144.6336
L 413.208 147.2688
L 413.4744 143.4312
L 413.5104 147.2832
L 413.928 144.0072
L 414.288 147.7728
L 414.648 146.2968
L 415.008 148.752
L 415.368 145.332
L 415.728 149.5872
L 416.088 147.1392
L 416.34 149.6664
L 416.376 146.2968
L 416.808 148.6296
L 417.168 146.1528
L 417.528 148.8168
L 417.888 147.8232
L 418.248 151.0056
L 418.608 148.0896
L 418.968 151.0632
L 419.328 147.9528
L 419.688 150.6024
L 420.156 148.68
L 420.192 152.0568
L 420.408 149.9904
L 420.768 152.136
L 421.128 147.96
L 421.488 150.8184
L 421.848 148.356
L 422.208 150.948
L 422.568 148.2264
L 423.0216 150.1488
L 423.0576 146.772
L 423.288 150.8616
L 423.648 148.3704
L 424.008 149.2632
L 424.368 148.1256
L 424.728 149.5296
L 425.088 146.4336
L 425.448 148.8888
L 425.808 146.484
L 426.168 148.1832
L 426.528 145.512
L 426.8448 149.1912
L 426.8808 146.2968
L 427.248 148.6296
L 427.608 147.4632
L 427.968 150.1704
L 428.328 148.8384
L 428.688 151.452
L 429.048 148.1256
L 429.408 151.7544
L 429.768 150.516
L 430.128 153.1728
L 430.6608 151.0704
L 430.6968 154.9224
L 430.848 151.6896
L 431.208 154.7208
L 431.568 152.9856
L 431.928 155.5128
L 432.288 153.1944
L 432.648 156.7728
L 433.008 154.4472
L 433.5264 157.788
L 433.5624 154.4112
L 433.728 157.8168
L 434.088 155.4192
L 434.448 157.8168
L 434.808 155.2896
L 435.168 157.4712
L 435.528 156.204
L 435.888 158.2488
L 436.248 155.5416
L 436.608 158.6088
L 436.968 156.7872
L 437.3496 158.2632
L 437.3856 155.3688
L 437.688 157.9176
L 438.048 157.2264
L 438.408 158.2488
L 438.768 156.8376
L 439.128 158.04
L 439.488 156.2112
L 439.848 159.0408
L 440.208 156.276
L 440.568 158.436
L 440.928 155.484
L 441.1656 158.2632
L 441.2016 155.3688
L 441.648 158.1696
L 442.008 154.728
L 442.368 157.0536
L 442.728 153.6696
L 443.088 154.728
L 443.448 152.9568
L 443.808 154.2744
L 444.0312 151.5456
L 444.0672 154.4472
L 444.528 153
L 444.888 154.4832
L 445.248 153.1584
L 445.608 154.3968
L 445.968 152.6328
L 446.328 155.2176
L 446.688 151.848
L 447.048 154.7928
L 447.408 152.6976
L 447.8544 154.4472
L 447.8904 151.5456
L 448.128 154.2384
L 448.488 151.3728
L 448.848 153.2952
L 449.208 152.7192
L 449.568 154.2168
L 449.928 152.4312
L 450.288 154.7136
L 450.7128 152.5032
L 450.7488 155.3976
L 451.008 153.7848
L 451.368 155.8008
L 451.728 153.288
L 452.088 156.1824
L 452.448 152.8416
L 452.808 155.9376
L 453.168 152.5608
L 453.528 156.2472
L 453.8304 151.7832
L 453.8664 155.6352
L 454.248 153.6624
L 454.608 157.7808
L 454.968 153.8352
L 455.328 155.7648
L 455.688 153.3168
L 456.2136 157.068
L 456.2496 153.936
L 456.408 156.636
L 456.768 152.2584
L 457.128 154.2816
L 457.488 151.6392
L 457.8984 153.0144
L 457.9344 149.6376
L 458.208 153.1872
L 458.568 151.3872
L 458.928 154.2528
L 459.288 151.7976
L 459.648 154.5768
L 460.008 152.2944
L 460.368 154.4688
L 460.764 152.5032
L 460.8 155.88
L 461.088 153.0504
L 461.448 155.6424
L 461.808 152.0136
L 462.168 153.0144
L 462.528 150.5448
L 462.888 153.3744
L 463.248 149.2056
L 463.608 151.4016
L 464.1048 147.2472
L 464.1408 150.624
L 464.328 149.148
L 464.688 150.408
L 465.048 147.132
L 465.408 150.6672
L 465.768 147.9744
L 466.128 150.804
L 466.488 147.708
L 466.848 150.7464
L 467.208 148.7952
L 467.568 151.6536
L 467.9208 148.2048
L 467.9568 152.0568
L 468.288 149.3352
L 468.648 151.6176
L 469.008 148.7736
L 469.368 152.6112
L 469.728 148.968
L 470.088 152.0424
L 470.448 149.832
L 470.7864 152.0568
L 470.8224 149.1624
L 471.168 150.9336
L 471.528 149.2344
L 471.888 150.7104
L 472.248 147.1896
L 472.608 150.3216
L 472.968 148.1112
L 473.328 149.4504
L 473.688 146.8224
L 474.1272 149.6664
L 474.1632 146.2968
L 474.408 149.364
L 474.768 147.348
L 475.128 148.5864
L 475.488 146.9736
L 475.848 150.1776
L 476.208 146.6496
L 476.568 150.732
L 476.928 148.8384
L 477.288 151.092
L 477.4752 147.7296
L 477.5112 151.5816
L 478.008 148.1328
L 478.368 152.172
L 478.728 150.0264
L 479.088 153.2016
L 479.448 149.868
L 479.808 153.8136
L 480.168 150.8328
L 480.528 153.6624
L 480.888 151.1856
L 481.2912 153.9648
L 481.3272 151.0704
L 481.608 153.1872
L 481.968 152.1432
L 482.328 154.62
L 482.688 152.1144
L 483.048 153.7056
L 483.408 152.1648
L 483.768 153.9648
L 484.128 152.5608
L 484.488 154.7712
L 484.848 153.5256
L 485.1144 155.88
L 485.1504 152.9784
L 485.568 156.0672
L 485.928 153.2592
L 486.288 156.6504
L 486.648 153.216
L 487.008 155.6712
L 487.368 153.756
L 487.728 156.8952
L 487.98 153.936
L 488.016 156.3552
L 488.448 154.44
L 488.808 156.384
L 489.168 154.7208
L 489.528 155.9448
L 489.888 153.5112
L 490.248 155.4696
L 490.608 154.08
L 490.968 156.0888
L 491.328 154.6992
L 491.796 155.88
L 491.832 153.936
L 492.048 155.7864
L 492.408 154.3464
L 492.768 155.5704
L 493.128 153.4392
L 493.488 155.6784
L 493.848 154.2672
L 494.208 155.592
L 494.568 153.2304
L 494.928 156.24
L 495.288 154.08
L 495.6192 156.3552
L 495.6552 152.9784
L 496.008 156.204
L 496.368 153.9144
L 496.728 158.8392
L 497.088 155.052
L 497.448 158.8752
L 497.808 156.1752
L 498.168 161.4456
L 498.4776 158.2272
L 498.5136 162.0864
L 498.888 158.6808
L 499.248 162.9288
L 499.608 158.3928
L 499.968 161.3808
L 500.328 158.3424
L 500.688 160.128
L 501.048 159.012
L 501.408 162.1584
L 501.768 158.2056
L 502.3008 161.1288
L 502.3368 158.2272
L 502.488 160.6896
L 502.848 158.4864
L 503.208 160.56
L 503.568 155.4048
L 503.928 158.004
L 504.288 155.3544
L 504.648 156.4056
L 505.008 153.7992
L 505.368 156.5352
L 505.728 153.2232
L 506.1168 155.3976
L 506.1528 152.0208
L 506.448 154.188
L 506.808 152.136
L 507.168 154.7928
L 507.528 151.9704
L 507.888 153.9648
L 508.248 151.8192
L 508.608 154.0584
L 508.968 153.0792
L 509.328 154.512
L 509.688 152.1504
L 509.94 153.4896
L 509.976 151.0704
L 510.408 153.9
L 510.768 151.4088
L 511.128 152.8488
L 511.488 150.264
L 511.848 153.5616
L 512.208 151.4736
L 512.568 152.9784
L 512.928 150.1344
L 513.288 153.0864
L 513.756 149.1624
L 513.792 152.532
L 514.008 150.6528
L 514.368 152.532
L 514.728 150.0264
L 515.088 150.984
L 515.448 149.0688
L 515.808 151.9344
L 516.1464 148.68
L 516.1824 151.5816
L 516.528 148.0824
L 516.888 151.056
L 517.248 150.2064
L 517.608 153.7704
L 517.968 150.6024
L 518.328 153.1296
L 518.688 151.8408
L 519.048 154.9008
L 519.4872 152.0208
L 519.5232 154.9224
L 519.768 151.7328
L 520.128 153.7272
L 520.488 152.6184
L 520.848 155.5848
L 521.208 153.2952
L 521.568 155.5272
L 521.928 153.7272
L 522.3528 155.88
L 522.3888 152.9784
L 522.648 155.592
L 523.008 152.0784
L 523.368 153.468
L 523.728 150.984
L 524.088 152.3736
L 524.448 148.9752
L 524.808 150.6672
L 525.168 147.0024
L 525.528 149.652
L 525.888 146.2752
L 526.248 148.5864
L 526.6512 144.3816
L 526.6872 147.7584
L 526.968 143.7912
L 527.328 149.6736
L 527.688 146.664
L 528.048 150.1632
L 528.408 147.9096
L 528.768 151.2576
L 529.128 149.544
L 529.488 153.9792
L 529.992 151.5456
L 530.028 154.9224
L 530.208 152.4456
L 530.568 154.6776
L 530.928 150.768
L 531.288 153.36
L 531.648 150.7032
L 532.008 152.9352
L 532.368 150.732
L 532.728 153.72
L 533.088 151.128
L 533.448 151.9632
L 533.8152 149.1624
L 533.8512 152.532
L 534.168 150.0336
L 534.528 151.4376
L 534.888 148.0392
L 535.248 150.7032
L 535.608 146.1384
L 535.968 149.6304
L 536.328 145.3896
L 536.6736 147.7584
L 536.7096 143.4312
L 537.048 146.952
L 537.408 144.9
L 537.768 149.9688
L 538.128 145.9728
L 538.488 151.3152
L 538.848 149.328
L 539.208 151.3224
L 539.5392 148.68
L 539.5752 152.532
L 539.928 150.8328
L 540.288 153.9216
L 540.648 151.9272
L 541.008 154.9584
L 541.368 153.7848
L 541.728 156.3768
L 542.088 154.4112
L 542.4048 157.788
L 542.4408 154.8864
L 542.808 157.6224
L 543.168 154.44
L 543.528 157.1616
L 543.888 155.1312
L 544.248 157.2984
L 544.608 155.88
L 544.968 157.104
L 545.328 155.4552
L 545.688 157.0104
L 546.048 155.4624
L 546.408 157.4208
L 546.7104 154.1736
L 546.7464 157.068
L 547.128 154.4976
L 547.488 155.8872
L 547.848 153.8568
L 548.208 156.4416
L 548.568 154.4976
L 548.928 156.168
L 549.288 155.0736
L 549.648 155.9952
L 550.008 154.4976
L 550.5336 157.3056
L 550.5696 154.8864
L 550.728 157.212
L 551.088 155.4408
L 551.448 157.2336
L 551.808 155.7072
L 552.168 157.104
L 552.528 155.4768
L 552.888 156.9312
L 553.248 155.556
L 553.608 158.4216
L 553.968 156.7152
L 554.328 158.0976
L 554.688 157.716
L 555.048 158.868
L 555.408 156.4992
L 555.7968 158.7384
L 555.8328 156.3192
L 556.128 158.4288
L 556.488 156.8304
L 556.848 158.3784
L 557.208 156.9024
L 557.568 158.3928
L 557.928 156.6864
L 558.288 159.6744
L 558.648 157.7304
L 559.008 158.652
L 559.368 157.5864
L 559.6128 160.1712
L 559.6488 157.2768
L 560.088 159.3936
L 560.448 156.888
L 560.808 159.768
L 561.168 156.5784
L 561.528 159.2352
L 561.888 158.2632
L 562.248 160.4016
L 562.608 158.256
L 562.968 160.9272
L 563.328 156.528
L 563.688 160.4952
L 564.048 157.8168
L 564.3864 159.696
L 564.4224 156.8016
L 564.768 158.3496
L 565.128 156.7512
L 565.488 158.5656
L 565.848 156.2328
L 566.208 157.2984
L 566.568 154.9728
L 566.928 156.5856
L 567.288 153.1512
L 567.648 155.1672
L 568.008 153.8064
L 568.2096 155.3976
L 568.2456 151.5456
L 568.728 155.0448
L 569.088 151.6968
L 569.448 153.9504
L 569.808 150.876
L 570.168 151.9416
L 570.528 150.444
L 570.888 151.9056
L 571.248 150.5736
L 571.608 151.7976
L 572.0256 147.7296
L 572.0616 151.0992
L 572.328 148.86
L 572.688 150.1272
L 573.048 146.52
L 573.408 149.9832
L 573.768 147.0384
L 574.128 149.1768
L 574.488 146.2392
L 574.848 148.0968
L 575.3664 145.3392
L 575.4024 148.2408
L 575.568 146.0952
L 575.928 149.1912
L 576.288 146.6568
L 576.648 150.2856
L 577.008 148.0248
L 577.368 151.2792
L 577.728 148.572
L 578.088 151.2072
L 578.448 149.7096
L 578.7144 153.4896
L 578.7504 150.1128
L 579.168 153.4032
L 579.528 150.5016
L 579.888 153.396
L 580.248 150.5664
L 580.608 153.6768
L 580.968 151.9488
L 581.328 154.8648
L 581.688 153.6624
L 582.048 156.1608
L 582.408 153.2304
L 582.768 156.0096
L 583.0056 153.4536
L 583.0416 156.8304
L 583.488 154.5408
L 583.848 156.24
L 584.208 154.116
L 584.568 155.0304
L 584.928 151.9272
L 585.288 154.5264
L 585.648 152.0424
L 586.008 154.0152
L 586.3536 151.0704
L 586.3896 154.4472
L 586.728 150.588
L 587.088 152.4456
L 587.448 150.3072
L 587.808 151.5456
L 588.168 148.6584
L 588.528 152.352
L 588.888 148.248
L 589.2192 151.0992
L 589.2552 147.7296
L 589.608 151.3872
L 589.968 147.5928
L 590.328 150.876
L 590.688 148.3344
L 591.048 151.884
L 591.408 148.9104
L 591.768 151.2864
L 592.128 149.1408
L 592.488 151.9704
L 592.848 148.248
L 593.0352 152.0568
L 593.0712 148.68
L 593.568 151.2288
L 593.928 148.1832
L 594.288 150.5808
L 594.648 147.0672
L 595.008 151.0344
L 595.368 146.412
L 595.728 149.7384
L 596.088 146.9232
L 596.448 148.8816
L 596.8584 145.3392
L 596.8944 148.716
L 597.168 145.3752
L 597.528 148.5648
L 597.888 146.4984
L 598.248 150.192
L 598.608 147.672
L 598.968 150.6096
L 599.328 148.2912
L 599.7168 151.5816
L 599.7528 148.2048
L 600.048 149.8392
L 600.408 147.24
L 600.768 150.1272
L 601.128 147.7296
L 601.632 149.6664
L 601.668 146.2968
L 601.848 149.1264
L 602.208 147.168
L 602.568 150.084
L 602.928 147.9672
L 603.288 151.1784
L 603.648 149.1624
L 604.008 151.7904
L 604.4976 150.588
L 604.5336 153.9648
L 604.728 149.4432
L 605.088 153.3816
L 605.448 150.984
L 605.808 154.3752
L 606.168 150.6384
L 606.528 152.8848
L 606.888 150.9912
L 607.248 153.324
L 607.608 150.4296
L 607.968 153.1224
L 608.3136 150.1128
L 608.3496 153.0144
L 608.688 149.9616
L 609.048 152.0928
L 609.408 149.9904
L 609.768 151.6752
L 610.128 151.0128
L 610.488 151.6824
L 610.848 150.7104
L 611.208 151.6824
L 611.568 149.904
L 611.928 151.308
L 612.1368 150.588
L 612.1728 153.0144
L 612.648 150.8472
L 613.008 153.2304
L 613.368 151.884
L 613.728 154.0152
L 614.088 152.7912
L 614.448 154.7424
L 614.808 154.3464
L 615.168 156.1824
L 615.528 154.656
L 615.888 156.348
L 616.248 155.2968
L 616.608 157.932
L 616.9104 156.3192
L 616.9464 158.7384
L 617.328 156.7872
L 617.688 157.2696
L 618.048 154.9008
L 618.408 157.2768
L 618.768 155.7072
L 619.128 157.3776
L 619.488 154.9512
L 619.848 157.3344
L 620.208 155.1096
L 620.7264 157.3056
L 620.7624 153.936
L 620.928 156.132
L 621.288 153.396
L 621.648 155.556
L 622.008 152.7768
L 622.368 155.3544
L 622.728 152.4528
L 623.088 154.2888
L 623.592 151.5456
L 623.628 154.9224
L 623.808 151.2792
L 624.168 153.9576
L 624.528 150.2856
L 624.888 154.7928
L 625.248 151.4736
L 625.608 153.0288
L 625.968 151.0128
L 626.4 153.864
L 626.436 149.4864
L 626.688 151.5384
L 627.048 148.8672
L 627.408 152.136
L 627.768 147.924
L 628.2648 151.8408
L 628.3008 147.7224
L 628.488 151.7472
L 628.848 147.6936
L 629.208 151.164
L 629.568 147.0384
L 629.9352 150.9192
L 629.9712 147.132
L 630.288 150.8616
L 630.648 147.3768
L 631.008 150.7032
L 631.2312 147.7296
L 631.2672 150.624
L 631.728 148.0608
L 632.088 149.6376
L 632.448 148.0032
L 632.808 150.696
L 633.168 147.6864
L 633.528 149.94
L 633.888 147.672
L 634.248 150.6456
L 634.608 147.5784
L 634.8816 150.5376
L 634.9176 147.4704
L 635.328 152.6688
L 635.688 150.192
L 636.048 155.1384
L 636.408 150.3576
L 636.6024 158.4216
L 636.6384 151.4232
L 637.128 155.124
L 637.488 149.6952
L 637.848 152.1864
L 638.0424 147.3408
L 638.0784 153.1368
L 638.568 146.6928
L 638.64 147.6
L 638.64 51.192
L 638.928 170.064
L 639.072 154.8
L 638.928 151.3872
L 639.288 147.06
L 639.648 149.4936
L 640.008 147.1104
L 640.2024 150.5016
L 640.2384 143.9784
L 640.728 149.3856
L 641.088 139.0608
L 641.448 142.3368
L 641.6424 136.5408
L 641.6784 142.8192
L 642.168 140.2848
L 642.528 144.8424
L 642.888 144.8208
L 643.1976 151.2216
L 643.2336 146.3832
L 643.608 153.5616
L 643.968 149.6952
L 644.328 156.4848
L 644.6376 153.1008
L 644.6736 160.3368
L 645.048 153.3168
L 645.408 159.5232
L 645.768 154.26
L 646.128 159.4512
L 646.56 153.8208
L 646.596 160.3368
L 646.848 151.6392
L 647.208 158.7168
L 647.568 156.5928
L 647.928 159.3864
L 648.288 156.1248
L 648.4824 160.3368
L 648.5184 156.4632
L 649.008 159.4944
L 649.368 155.6784
L 649.728 160.0272
L 650.088 156.708
L 650.3976 159.8616
L 650.4336 155.4984
L 650.808 160.596
L 651.168 156.7944
L 651.528 160.5312
L 651.888 157.7808
L 652.32 162.7416
L 652.356 158.3784
L 652.608 161.0208
L 652.968 158.4648
L 653.328 160.7256
L 653.688 158.256
L 654.048 161.1216
L 654.2424 156.9384
L 654.2784 161.3016
L 654.768 156.0528
L 655.128 158.3424
L 655.488 152.7192
L 655.6824 157.9392
L 655.7184 152.6184
L 656.208 156.0384
L 656.568 149.6952
L 656.8776 150.7392
L 656.9136 145.9008
L 657.288 149.5656
L 657.648 145.6704
L 658.008 147.4704
L 658.4832 143.0136
L 658.5192 146.8008
L 658.728 143.388
L 659.088 147.5424
L 659.448 146.232
L 659.808 148.752
L 660.168 148.3704
L 660.5424 151.5096
L 660.5784 149.4864
L 660.888 151.2576
L 661.248 150.0048
L 661.608 151.9632
L 661.968 151.2504
L 662.328 153.9216
L 662.688 152.1864
L 662.904 154.4544
L 662.94 152.4312
L 663.408 151.9344
L 663.768 149.1264
L 664.128 149.832
L 664.668 145.9584
L 664.704 148.5648
L 664.848 145.7064
L 665.208 150.0048
L 665.568 146.304
L 665.928 149.004
L 666.288 147.3192
L 666.648 151.6032
L 667.0224 147.132
L 667.0584 151.5096
L 667.368 147.9744
L 667.728 150.0336
L 668.088 146.5488
L 668.448 148.0536
L 668.808 145.5696
L 669.1968 147.6864
L 669.2328 145.368
L 669.528 146.9952
L 669.888 144.54
L 670.248 146.3256
L 670.608 144.6336
L 670.968 146.916
L 671.256 144.7776
L 671.292 147.096
L 671.688 145.1736
L 672.048 147.4704
L 672.408 145.1088
L 672.768 146.6496
L 673.128 145.3608
L 673.6464 148.176
L 673.6824 144.972
L 673.848 149.0688
L 674.208 147.7728
L 674.568 150.0048
L 674.928 149.0112
L 675.288 151.5672
L 675.6696 150.0768
L 675.7056 153.2736
L 676.008 150.9912
L 676.368 153.7488
L 676.7928 151.8408
L 676.8288 153.864
L 677.088 152.5176
L 677.448 153.2448
L 677.808 150.768
L 678.1392 153.2736
L 678.1752 150.6672
L 678.528 152.7192
L 678.888 151.4376
L 679.248 153.7416
L 679.608 152.388
L 679.968 154.944
L 680.1984 152.4312
L 680.2344 155.0448
L 680.688 153.9792
L 681.048 156.0528
L 681.408 156.1032
L 681.768 158.0976
L 681.9624 156.5496
L 681.9984 159.7536
L 682.488 157.6872
L 682.848 159.444
L 683.208 156.9456
L 683.7264 159.7536
L 683.7624 157.7304
L 683.928 159.7392
L 684.288 156.6288
L 684.648 158.0328
L 685.008 155.2248
L 685.4976 157.3992
L 685.5336 154.1952
L 685.728 157.4208
L 686.088 154.4112
L 686.448 156.4704
L 686.808 153.1512
L 687.168 154.6344
L 687.528 152.064
L 687.852 154.4544
L 687.888 151.8408
L 688.248 153.54
L 688.608 150.5952
L 688.968 152.6688
L 689.328 148.2336
L 689.688 150.2496
L 690.2064 147.132
L 690.2424 149.7456
L 690.408 147.5568
L 690.408 147.5568
" clip-path="url(#p42a139c34b)" style="fill: none; stroke: #1f77b4; stroke-width: 1.5; stroke-linecap: square"/>
</g>
<g id="patch_3">
<path d="M 52.92 177.48
L 52.92 45
" style="fill: none; stroke: #000000; stroke-width: 0.8; stroke-linejoin: miter; stroke-linecap: square"/>
</g>
<g id="patch_4">
<path d="M 722.52 177.48
L 722.52 45
" style="fill: none; stroke: #000000; stroke-width: 0.8; stroke-linejoin: miter; stroke-linecap: square"/>
</g>
<g id="patch_5">
<path d="M 52.92 177.48
L 722.52 177.48
" style="fill: none; stroke: #000000; stroke-width: 0.8; stroke-linejoin: miter; stroke-linecap: square"/>
</g>
<g id="patch_6">
<path d="M 52.92 45
L 722.52 45
" style="fill: none; stroke: #000000; stroke-width: 0.8; stroke-linejoin: miter; stroke-linecap: square"/>
</g>
<g id="text_7">
<g transform="translate(331.8549 38.7480) scale(0.12000 -0.12744)">
<defs>
<path id="DejaVuSans-45" d="M 628 4666
L 3578 4666
L 3578 4134
L 1259 4134
L 1259 2753
L 3481 2753
L 3481 2222
L 1259 2222
L 1259 531
L 3634 531
L 3634 0
L 628 0
L 628 4666
z
" transform="scale(0.015625)"/>
<path id="DejaVuSans-61" d="M 2194 1759
Q 1497 1759 1228 1600
Q 959 1441 959 1056
Q 959 750 1161 570
Q 1363 391 1709 391
Q 2188 391 2477 730
Q 2766 1069 2766 1631
L 2766 1759
L 2194 1759
z
M 3341 1997
L 3341 0
L 2766 0
L 2766 531
Q 2569 213 2275 61
Q 1981 -91 1556 -91
Q 1019 -91 701 211
Q 384 513 384 1019
Q 384 1609 779 1909
Q 1175 2209 1959 2209
L 2766 2209
L 2766 2266
Q 2766 2663 2505 2880
Q 2244 3097 1772 3097
Q 1472 3097 1187 3025
Q 903 2953 641 2809
L 641 3341
Q 956 3463 1253 3523
Q 1550 3584 1831 3584
Q 2591 3584 2966 3190
Q 3341 2797 3341 1997
z
" transform="scale(0.015625)"/>
<path id="DejaVuSans-74" d="M 1172 4494
L 1172 3500
L 2356 3500
L 2356 3053
L 1172 3053
L 1172 1153
Q 1172 725 1289 603
Q 1406 481 1766 481
L 2356 481
L 2356 0
L 1766 0
Q 1100 0 847 248
Q 594 497 594 1153
L 594 3053
L 172 3053
L 172 3500
L 594 3500
L 594 4494
L 1172 4494
z
" transform="scale(0.015625)"/>
<path id="DejaVuSans-20" transform="scale(0.015625)"/>
<path id="DejaVuSans-64" d="M 2906 2969
L 2906 4863
L 3481 4863
L 3481 0
L 2906 0
L 2906 525
Q 2725 213 2448 61
Q 2172 -91 1784 -91
Q 1150 -91 751 415
Q 353 922 353 1747
Q 353 2572 751 3078
Q 1150 3584 1784 3584
Q 2172 3584 2448 3432
Q 2725 3281 2906 2969
z
M 947 1747
Q 947 1113 1208 752
Q 1469 391 1925 391
Q 2381 391 2643 752
Q 2906 1113 2906 1747
Q 2906 2381 2643 2742
Q 2381 3103 1925 3103
Q 1469 3103 1208 2742
Q 947 2381 947 1747
z
" transform="scale(0.015625)"/>
<path id="DejaVuSans-6c" d="M 603 4863
L 1178 4863
L 1178 0
L 603 0
L 603 4863
z
" transform="scale(0.015625)"/>
<path id="DejaVuSans-63" d="M 3122 3366
L 3122 2828
Q 2878 2963 2633 3030
Q 2388 3097 2138 3097
Q 1578 3097 1268 2742
Q 959 2388 959 1747
Q 959 1106 1268 751
Q 1578 397 2138 397
Q 2388 397 2633 464
Q 2878 531 3122 666
L 3122 134
Q 2881 22 2623 -34
Q 2366 -91 2075 -91
Q 1284 -91 818 406
Q 353 903 353 1747
Q 353 2603 823 3093
Q 1294 3584 2113 3584
Q 2378 3584 2631 3529
Q 2884 3475 3122 3366
z
" transform="scale(0.015625)"/>
<path id="DejaVuSans-65" d="M 3597 1894
L 3597 1613
L 953 1613
Q 991 1019 1311 708
Q 1631 397 2203 397
Q 2534 397 2845 478
Q 3156 559 3463 722
L 3463 178
Q 3153 47 2828 -22
Q 2503 -91 2169 -91
Q 1331 -91 842 396
Q 353 884 353 1716
Q 353 2575 817 3079
Q 1281 3584 2069 3584
Q 2775 3584 3186 3129
Q 3597 2675 3597 1894
z
M 3022 2063
Q 3016 2534 2758 2815
Q 2500 3097 2075 3097
Q 1594 3097 1305 2825
Q 1016 2553 972 2059
L 3022 2063
z
" transform="scale(0.015625)"/>
<path id="DejaVuSans-6d" d="M 3328 2828
Q 3544 3216 3844 3400
Q 4144 3584 4550 3584
Q 5097 3584 5394 3201
Q 5691 2819 5691 2113
L 5691 0
L 5113 0
L 5113 2094
Q 5113 2597 4934 2840
Q 4756 3084 4391 3084
Q 3944 3084 3684 2787
Q 3425 2491 3425 1978
L 3425 0
L 2847 0
L 2847 2094
Q 2847 2600 2669 2842
Q 2491 3084 2119 3084
Q 1678 3084 1418 2786
Q 1159 2488 1159 1978
L 1159 0
L 581 0
L 581 3500
L 1159 3500
L 1159 2956
Q 1356 3278 1631 3431
Q 1906 3584 2284 3584
Q 2666 3584 2933 3390
Q 3200 3197 3328 2828
z
" transform="scale(0.015625)"/>
<path id="DejaVuSans-6e" d="M 3513 2113
L 3513 0
L 2938 0
L 2938 2094
Q 2938 2591 2744 2837
Q 2550 3084 2163 3084
Q 1697 3084 1428 2787
Q 1159 2491 1159 1978
L 1159 0
L 581 0
L 581 3500
L 1159 3500
L 1159 2956
Q 1366 3272 1645 3428
Q 1925 3584 2291 3584
Q 2894 3584 3203 3211
Q 3513 2838 3513 2113
z
" transform="scale(0.015625)"/>
</defs>
<use href="#DejaVuSans-45"/>
<use href="#DejaVuSans-61" transform="translate(63.183594 0)"/>
<use href="#DejaVuSans-73" transform="translate(124.462891 0)"/>
<use href="#DejaVuSans-74" transform="translate(176.5625 0)"/>
<use href="#DejaVuSans-20" transform="translate(215.771484 0)"/>
<use href="#DejaVuSans-64" transform="translate(247.558594 0)"/>
<use href="#DejaVuSans-69" transform="translate(311.035156 0)"/>
<use href="#DejaVuSans-73" transform="translate(338.818359 0)"/>
<use href="#DejaVuSans-70" transform="translate(390.917969 0)"/>
<use href="#DejaVuSans-6c" transform="translate(454.394531 0)"/>
<use href="#DejaVuSans-61" transform="translate(482.177734 0)"/>
<use href="#DejaVuSans-63" transform="translate(543.457031 0)"/>
<use href="#DejaVuSans-65" transform="translate(598.4375 0)"/>
<use href="#DejaVuSans-6d" transform="translate(659.960938 0)"/>
<use href="#DejaVuSans-65" transform="translate(757.373047 0)"/>
<use href="#DejaVuSans-6e" transform="translate(818.896484 0)"/>
<use href="#DejaVuSans-74" transform="translate(882.275391 0)"/>
</g>
</g>
</g>
<g id="axes_2">
<g id="patch_7">
<path d="M 52.92 356.04
L 722.52 356.04
L 722.52 223.56
L 52.92 223.56
z
" style="fill: #ffffff"/>
</g>
<g id="matplotlib.axis_3">
<g id="xtick_12">
<g id="line2d_34">
<path d="M 83.16 356.04
L 83.16 223.56
" clip-path="url(#pe26fd05112)" style="fill: none; stroke: #b0b0b0; stroke-width: 0.8; stroke-linecap: square"/>
</g>
<g id="line2d_35">
<g>
<use href="#m1504cfccaf" x="83.16" y="356.04" style="stroke: #000000; stroke-width: 0.8"/>
</g>
</g>
</g>
<g id="xtick_13">
<g id="line2d_36">
<path d="M 144.36 356.04
L 144.36 223.56
" clip-path="url(#pe26fd05112)" style="fill: none; stroke: #b0b0b0; stroke-width: 0.8; stroke-linecap: square"/>
</g>
<g id="line2d_37">
<g>
<use href="#m1504cfccaf" x="144.36" y="356.04" style="stroke: #000000; stroke-width: 0.8"/>
</g>
</g>
</g>
<g id="xtick_14">
<g id="line2d_38">
<path d="M 206.28 356.04
L 206.28 223.56
" clip-path="url(#pe26fd05112)" style="fill: none; stroke: #b0b0b0; stroke-width: 0.8; stroke-linecap: square"/>
</g>
<g id="line2d_39">
<g>
<use href="#m1504cfccaf" x="206.28" y="356.04" style="stroke: #000000; stroke-width: 0.8"/>
</g>
</g>
</g>
<g id="xtick_15">
<g id="line2d_40">
<path d="M 267.48 356.04
L 267.48 223.56
" clip-path="url(#pe26fd05112)" style="fill: none; stroke: #b0b0b0; stroke-width: 0.8; stroke-linecap: square"/>
</g>
<g id="line2d_41">
<g>
<use href="#m1504cfccaf" x="267.48" y="356.04" style="stroke: #000000; stroke-width: 0.8"/>
</g>
</g>
</g>
<g id="xtick_16">
<g id="line2d_42">
<path d="M 328.68 356.04
L 328.68 223.56
" clip-path="url(#pe26fd05112)" style="fill: none; stroke: #b0b0b0; stroke-width: 0.8; stroke-linecap: square"/>
</g>
<g id="line2d_43">
<g>
<use href="#m1504cfccaf" x="328.68" y="356.04" style="stroke: #000000; stroke-width: 0.8"/>
</g>
</g>
</g>
<g id="xtick_17">
<g id="line2d_44">
<path d="M 390.6 356.04
L 390.6 223.56
" clip-path="url(#pe26fd05112)" style="fill: none; stroke: #b0b0b0; stroke-width: 0.8; stroke-linecap: square"/>
</g>
<g id="line2d_45">
<g>
<use href="#m1504cfccaf" x="390.6" y="356.04" style="stroke: #000000; stroke-width: 0.8"/>
</g>
</g>
</g>
<g id="xtick_18">
<g id="line2d_46">
<path d="M 451.8 356.04
L 451.8 223.56
" clip-path="url(#pe26fd05112)" style="fill: none; stroke: #b0b0b0; stroke-width: 0.8; stroke-linecap: square"/>
</g>
<g id="line2d_47">
<g>
<use href="#m1504cfccaf" x="451.8" y="356.04" style="stroke: #000000; stroke-width: 0.8"/>
</g>
</g>
</g>
<g id="xtick_19">
<g id="line2d_48">
<path d="M 513 356.04
L 513 223.56
" clip-path="url(#pe26fd05112)" style="fill: none; stroke: #b0b0b0; stroke-width: 0.8; stroke-linecap: square"/>
</g>
<g id="line2d_49">
<g>
<use href="#m1504cfccaf" x="513" y="356.04" style="stroke: #000000; stroke-width: 0.8"/>
</g>
</g>
</g>
<g id="xtick_20">
<g id="line2d_50">
<path d="M 574.92 356.04
L 574.92 223.56
" clip-path="url(#pe26fd05112)" style="fill: none; stroke: #b0b0b0; stroke-width: 0.8; stroke-linecap: square"/>
</g>
<g id="line2d_51">
<g>
<use href="#m1504cfccaf" x="574.92" y="356.04" style="stroke: #000000; stroke-width: 0.8"/>
</g>
</g>
</g>
<g id="xtick_21">
<g id="line2d_52">
<path d="M 636.12 356.04
L 636.12 223.56
" clip-path="url(#pe26fd05112)" style="fill: none; stroke: #b0b0b0; stroke-width: 0.8; stroke-linecap: square"/>
</g>
<g id="line2d_53">
<g>
<use href="#m1504cfccaf" x="636.12" y="356.04" style="stroke: #000000; stroke-width: 0.8"/>
</g>
</g>
</g>
<g id="xtick_22">
<g id="line2d_54">
<path d="M 697.32 356.04
L 697.32 223.56
" clip-path="url(#pe26fd05112)" style="fill: none; stroke: #b0b0b0; stroke-width: 0.8; stroke-linecap: square"/>
</g>
<g id="line2d_55">
<g>
<use href="#m1504cfccaf" x="697.32" y="356.04" style="stroke: #000000; stroke-width: 0.8"/>
</g>
</g>
</g>
</g>
<g id="matplotlib.axis_4">
<g id="ytick_6">
<g id="line2d_56">
<path d="M 52.92 353.88
L 722.52 353.88
" clip-path="url(#pe26fd05112)" style="fill: none; stroke: #b0b0b0; stroke-width: 0.8; stroke-linecap: square"/>
</g>
<g id="line2d_57">
<g>
<use href="#m5d545ce8f8" x="52.92" y="353.88" style="stroke: #000000; stroke-width: 0.8"/>
</g>
</g>
<g id="text_8">
<g transform="translate(21.6372 357.6792) scale(0.09700 -0.09300)">
<use href="#DejaVuSans-2212"/>
<use href="#DejaVuSans-30" transform="translate(83.789062 0)"/>
<use href="#DejaVuSans-2e" transform="translate(147.412109 0)"/>
<use href="#DejaVuSans-34" transform="translate(179.199219 0)"/>
</g>
</g>
</g>
<g id="ytick_7">
<g id="line2d_58">
<path d="M 52.92 330.84
L 722.52 330.84
" clip-path="url(#pe26fd05112)" style="fill: none; stroke: #b0b0b0; stroke-width: 0.8; stroke-linecap: square"/>
</g>
<g id="line2d_59">
<g>
<use href="#m5d545ce8f8" x="52.92" y="330.84" style="stroke: #000000; stroke-width: 0.8"/>
</g>
</g>
<g id="text_9">
<g transform="translate(21.6372 334.6392) scale(0.09700 -0.09300)">
<use href="#DejaVuSans-2212"/>
<use href="#DejaVuSans-30" transform="translate(83.789062 0)"/>
<use href="#DejaVuSans-2e" transform="translate(147.412109 0)"/>
<use href="#DejaVuSans-32" transform="translate(179.199219 0)"/>
</g>
</g>
</g>
<g id="ytick_8">
<g id="line2d_60">
<path d="M 52.92 307.8
L 722.52 307.8
" clip-path="url(#pe26fd05112)" style="fill: none; stroke: #b0b0b0; stroke-width: 0.8; stroke-linecap: square"/>
</g>
<g id="line2d_61">
<g>
<use href="#m5d545ce8f8" x="52.92" y="307.8" style="stroke: #000000; stroke-width: 0.8"/>
</g>
</g>
<g id="text_10">
<g transform="translate(30.0169 311.5992) scale(0.09700 -0.09300)">
<use href="#DejaVuSans-30"/>
<use href="#DejaVuSans-2e" transform="translate(63.623047 0)"/>
<use href="#DejaVuSans-30" transform="translate(95.410156 0)"/>
</g>
</g>
</g>
<g id="ytick_9">
<g id="line2d_62">
<path d="M 52.92 284.76
L 722.52 284.76
" clip-path="url(#pe26fd05112)" style="fill: none; stroke: #b0b0b0; stroke-width: 0.8; stroke-linecap: square"/>
</g>
<g id="line2d_63">
<g>
<use href="#m5d545ce8f8" x="52.92" y="284.76" style="stroke: #000000; stroke-width: 0.8"/>
</g>
</g>
<g id="text_11">
<g transform="translate(30.0169 288.5592) scale(0.09700 -0.09300)">
<use href="#DejaVuSans-30"/>
<use href="#DejaVuSans-2e" transform="translate(63.623047 0)"/>
<use href="#DejaVuSans-32" transform="translate(95.410156 0)"/>
</g>
</g>
</g>
<g id="ytick_10">
<g id="line2d_64">
<path d="M 52.92 261.72
L 722.52 261.72
" clip-path="url(#pe26fd05112)" style="fill: none; stroke: #b0b0b0; stroke-width: 0.8; stroke-linecap: square"/>
</g>
<g id="line2d_65">
<g>
<use href="#m5d545ce8f8" x="52.92" y="261.72" style="stroke: #000000; stroke-width: 0.8"/>
</g>
</g>
<g id="text_12">
<g transform="translate(30.0169 265.5192) scale(0.09700 -0.09300)">
<use href="#DejaVuSans-30"/>
<use href="#DejaVuSans-2e" transform="translate(63.623047 0)"/>
<use href="#DejaVuSans-34" transform="translate(95.410156 0)"/>
</g>
</g>
</g>
<g id="ytick_11">
<g id="line2d_66">
<path d="M 52.92 239.4
L 722.52 239.4
" clip-path="url(#pe26fd05112)" style="fill: none; stroke: #b0b0b0; stroke-width: 0.8; stroke-linecap: square"/>
</g>
<g id="line2d_67">
<g>
<use href="#m5d545ce8f8" x="52.92" y="239.4" style="stroke: #000000; stroke-width: 0.8"/>
</g>
</g>
<g id="text_13">
<g transform="translate(30.0169 243.1992) scale(0.09700 -0.09300)">
<use href="#DejaVuSans-30"/>
<use href="#DejaVuSans-2e" transform="translate(63.623047 0)"/>
<use href="#DejaVuSans-36" transform="translate(95.410156 0)"/>
</g>
</g>
</g>
<g id="text_14">
<g transform="translate(15.2695 302.8030) rotate(-90) scale(0.09550 -0.10000)">
<use href="#DejaVuSans-44"/>
<use href="#DejaVuSans-69" transform="translate(77.001953 0)"/>
<use href="#DejaVuSans-73" transform="translate(104.785156 0)"/>
<use href="#DejaVuSans-70" transform="translate(156.884766 0)"/>
<use href="#DejaVuSans-2e" transform="translate(220.361328 0)"/>
</g>
</g>
</g>
<g id="line2d_68">
<path d="M 82.9152 306.0144
L 83.2752 304.0704
L 83.6352 305.7264
L 83.9952 304.1712
L 84.4272 305.7192
L 84.4632 303.408
L 84.7152 305.5608
L 85.0752 302.8752
L 85.4352 304.8696
L 85.7952 301.3848
L 86.1984 303.9552
L 86.2344 301.3416
L 86.5152 303.1992
L 86.8752 301.0248
L 87.2352 302.3136
L 87.5952 301.0536
L 87.9624 301.6008
L 87.9984 298.9872
L 88.3152 302.184
L 88.6752 299.2896
L 89.0352 301.5504
L 89.3952 298.944
L 89.7264 301.896
L 89.7624 299.5776
L 90.1152 299.6928
L 90.4752 295.884
L 90.8352 298.476
L 91.2024 293.688
L 91.2384 298.656
L 91.5552 294.5304
L 91.9152 297.3744
L 92.2752 296.1864
L 92.6712 299.2464
L 92.7072 297.2232
L 92.9952 298.7712
L 93.3552 297.6984
L 93.7152 300.6504
L 94.0752 297.8496
L 94.4352 300.924
L 94.7952 298.2744
L 95.0256 301.0104
L 95.0616 298.1088
L 95.5152 301.4856
L 95.8752 300.0312
L 96.2352 302.8032
L 96.5952 300.9096
L 96.7968 303.3648
L 96.8328 300.7584
L 97.3152 302.4504
L 97.6752 300.7728
L 98.0352 302.3424
L 98.3952 301.6224
L 98.7552 302.8464
L 99.1512 300.7584
L 99.1872 303.3648
L 99.4752 301.0248
L 99.8352 302.8464
L 100.1952 300.8736
L 100.5552 302.8896
L 100.9152 300.1752
L 101.2752 303.1056
L 101.5056 300.4632
L 101.5416 303.0696
L 101.9952 300.3912
L 102.3552 302.7672
L 102.7152 301.068
L 103.0752 302.6304
L 103.5648 300.168
L 103.6008 302.7816
L 103.7952 301.2984
L 104.1552 304.5456
L 104.5152 302.9328
L 105.0336 306.9
L 105.0696 304.2864
L 105.2352 306.828
L 105.5952 304.7256
L 105.9552 307.0656
L 106.3152 305.5896
L 106.8048 308.664
L 106.8408 306.3456
L 107.0352 307.9872
L 107.3952 306.4824
L 107.7552 308.9736
L 108.1152 306.7992
L 108.4752 308.7792
L 108.864 306.6408
L 108.9 309.2544
L 109.1952 306.2448
L 109.5552 307.7064
L 109.9152 303.5592
L 110.2752 305.0496
L 110.6352 302.5296
L 110.9232 303.3648
L 110.9592 300.7584
L 111.3552 302.3784
L 111.7152 300.1464
L 112.104 302.7816
L 112.14 300.168
L 112.4352 302.868
L 112.7952 301.9824
L 113.1552 303.4872
L 113.5152 302.2416
L 113.8752 303.6888
L 114.2352 302.616
L 114.4584 304.5456
L 114.4944 302.5224
L 114.9552 305.136
L 115.3152 303.7176
L 115.6752 305.3232
L 116.0352 304.2576
L 116.3952 306.2952
L 116.8128 304.2864
L 116.8488 306.9
L 117.1152 304.5096
L 117.4752 307.188
L 117.8352 305.568
L 118.1952 306.8712
L 118.5552 305.9568
L 118.9152 306.7992
L 119.1672 306.6408
L 119.2032 308.0736
L 119.6352 306.2016
L 119.9952 306.648
L 120.3552 305.244
L 120.7152 306.3672
L 121.2264 304.8768
L 121.2624 307.4904
L 121.4352 305.1288
L 121.7952 306.7128
L 122.1552 306.2232
L 122.5152 308.1096
L 122.7888 306.9
L 122.8248 309.1176
L 123.2352 305.964
L 123.5952 308.556
L 123.9552 304.848
L 124.3152 307.4184
L 124.6752 305.1432
L 124.8624 306.7488
L 124.8984 303.7536
L 125.3952 305.6472
L 125.7552 303.0552
L 125.9928 305.136
L 126.0288 302.2272
L 126.4752 303.876
L 126.8352 301.4856
L 127.1952 304.38
L 127.6488 300.3624
L 127.6848 304.2144
L 127.9152 300.8736
L 128.2752 305.6112
L 128.6352 302.4864
L 128.9952 304.992
L 129.3552 304.5456
L 129.564 307.08
L 129.6 304.1784
L 130.0752 306.0288
L 130.4352 303.5592
L 130.7952 305.7768
L 131.1552 300.4488
L 131.472 304.6896
L 131.508 300.8376
L 131.8752 304.74
L 132.2352 301.32
L 132.5952 304.6608
L 132.9552 303.3576
L 133.3152 305.8272
L 133.6752 303.516
L 134.0352 305.5968
L 134.3952 303.8832
L 134.8128 306.5976
L 134.8488 303.7032
L 135.1152 305.2512
L 135.4752 304.1568
L 135.8352 305.8488
L 136.1952 303.228
L 136.5552 305.9928
L 136.9152 304.0128
L 137.2752 306
L 137.6352 304.0704
L 137.9952 306.252
L 138.3552 304.2
L 138.636 306.1224
L 138.672 303.7032
L 139.0752 306.2088
L 139.4352 303.0552
L 139.7952 305.8272
L 140.1552 303.5808
L 140.5152 305.784
L 140.8752 303.4152
L 141.2352 305.8056
L 141.5952 303.3792
L 141.9552 304.776
L 142.452 303.7032
L 142.488 306.1224
L 142.6752 303.66
L 143.0352 304.884
L 143.3952 303.4584
L 143.7552 305.568
L 144.1152 303.1992
L 144.4752 305.3808
L 144.8352 303.4152
L 145.3176 305.1648
L 145.3536 302.7456
L 145.5552 304.9992
L 145.9152 302.6304
L 146.2752 304.2432
L 146.6352 302.0544
L 146.9952 304.4016
L 147.3552 301.284
L 147.7152 304.3152
L 148.1832 300.3624
L 148.2192 303.2568
L 148.4352 300.4416
L 148.7952 303.3936
L 149.1552 301.3344
L 149.5152 302.4864
L 149.8752 301.5288
L 150.2352 303.4872
L 150.5952 301.4568
L 151.0488 303.732
L 151.0848 301.3128
L 151.3152 302.6952
L 151.6752 300.4992
L 152.0352 301.1688
L 152.3952 300.096
L 152.7552 301.788
L 152.9568 298.9296
L 152.9928 301.824
L 153.4752 299.4048
L 153.8352 300.9456
L 154.1952 299.6568
L 154.5552 301.4136
L 154.9152 299.1168
L 155.2752 301.1544
L 155.6352 298.944
L 155.9952 300.5856
L 156.3552 299.6712
L 156.7152 301.2264
L 157.0752 298.4904
L 157.2552 300.8664
L 157.2912 297.972
L 157.7952 301.032
L 158.1552 298.3536
L 158.5152 299.7072
L 158.8752 298.404
L 159.2352 300.456
L 159.5952 298.8072
L 159.9552 300.5856
L 160.3152 299.5776
L 160.596 302.2992
L 160.632 299.4048
L 161.0352 301.0032
L 161.3952 299.9016
L 161.7552 301.9104
L 162.1152 300.2544
L 162.4752 302.76
L 162.8352 301.14
L 163.1952 303.5736
L 163.5552 301.5864
L 163.9152 303.9696
L 164.4192 302.2704
L 164.4552 304.6896
L 164.6352 301.9104
L 164.9952 305.6616
L 165.3552 303.444
L 165.7152 305.6112
L 166.0752 303.9408
L 166.4352 305.8344
L 166.7952 303.984
L 167.1552 306.4392
L 167.5152 305.1072
L 167.76 307.5552
L 167.796 305.136
L 168.2352 306.36
L 168.5952 304.0632
L 168.9552 304.8552
L 169.3152 303.1776
L 169.6752 304.8048
L 170.0352 302.5584
L 170.3952 303.876
L 170.7552 301.6224
L 171.1152 304.3584
L 171.4752 300.78
L 171.8352 302.832
L 172.0584 300.3624
L 172.0944 303.2568
L 172.5552 301.0536
L 172.9152 302.8248
L 173.2752 301.4064
L 173.6352 303.1704
L 173.9952 301.968
L 174.3552 302.5872
L 174.7152 300.06
L 174.9168 302.7816
L 174.9528 300.3624
L 175.4352 302.436
L 175.7952 301.4424
L 176.1552 302.7168
L 176.5152 302.0112
L 176.8752 303.6024
L 177.2352 302.7312
L 177.5952 304.4376
L 177.7824 301.788
L 177.8184 303.732
L 178.3152 302.8752
L 178.6752 304.488
L 179.0352 303.3144
L 179.3952 304.5528
L 179.7552 303.9696
L 180.1152 305.8992
L 180.648 305.136
L 180.684 307.08
L 180.8352 304.9704
L 181.1952 305.8848
L 181.5552 304.4952
L 181.9152 306.2016
L 182.2752 304.3656
L 182.6352 305.7696
L 182.9952 304.3008
L 183.3552 306.2016
L 183.7152 304.7832
L 184.0752 306.7128
L 184.4712 304.6536
L 184.5072 307.08
L 184.7952 304.668
L 185.1552 305.1864
L 185.5152 304.1856
L 185.8752 304.9992
L 186.2352 302.472
L 186.5952 305.9208
L 186.9552 302.1768
L 187.3152 304.4016
L 187.6752 302.0976
L 188.0352 303.6456
L 188.2872 301.3128
L 188.3232 305.1648
L 188.7552 301.68
L 189.1152 304.6176
L 189.4752 301.5864
L 189.8352 305.5896
L 190.1952 303.876
L 190.5552 305.568
L 190.9152 304.1856
L 191.1528 305.6472
L 191.1888 303.7032
L 191.6352 304.9992
L 191.9952 302.8608
L 192.3552 305.7912
L 192.7152 303.2784
L 193.0752 304.3368
L 193.4352 303.3288
L 193.7952 306.0072
L 194.0184 301.788
L 194.0544 305.1648
L 194.5152 303.1992
L 194.8752 305.6544
L 195.2352 302.4288
L 195.5952 304.2288
L 195.9552 302.8608
L 196.3152 306.3456
L 196.6752 302.6736
L 197.0352 305.8992
L 197.3952 303.8976
L 197.8344 305.6472
L 197.8704 302.7456
L 198.1152 305.6328
L 198.4752 304.3224
L 198.8352 305.9496
L 199.1952 304.1064
L 199.5552 305.9424
L 199.9152 304.6824
L 200.2752 306.396
L 200.6352 304.6464
L 200.9952 306
L 201.3552 304.5168
L 201.6576 306.1224
L 201.6936 303.7032
L 202.0752 305.7336
L 202.4352 303.9336
L 202.7952 305.7984
L 203.1552 304.74
L 203.5152 305.7048
L 203.8752 304.2
L 204.2352 305.1216
L 204.5952 303.8328
L 204.9552 305.2584
L 205.4736 303.2208
L 205.5096 305.6472
L 205.6752 304.056
L 206.0352 305.9784
L 206.3952 302.6952
L 206.7552 304.9344
L 207.1152 302.6592
L 207.4752 304.2
L 207.8352 301.8096
L 208.1952 303.5592
L 208.5552 301.9824
L 208.9152 304.3224
L 209.2968 301.3128
L 209.3328 304.2144
L 209.6352 301.6728
L 209.9952 302.544
L 210.3552 301.4424
L 210.7152 302.22
L 211.0752 300.2616
L 211.4352 303.0408
L 211.7952 299.664
L 212.1552 302.6304
L 212.5152 298.6704
L 212.8752 302.4936
L 213.1128 298.9296
L 213.1488 302.7816
L 213.5952 298.9224
L 213.9552 302.0472
L 214.3152 299.1384
L 214.6752 301.6584
L 215.0352 297.324
L 215.3952 301.6224
L 215.7552 296.4816
L 216.1152 300.0096
L 216.4752 296.8776
L 216.7056 300.3912
L 216.7416 295.1064
L 217.1952 299.2464
L 217.5552 296.2296
L 217.908 300.8664
L 217.944 296.5392
L 218.2752 300.6792
L 218.6352 299.1816
L 218.9952 302.0472
L 219.3552 300.1824
L 219.5712 304.2144
L 219.6072 301.3128
L 220.0752 303.444
L 220.4352 300.6648
L 220.7952 303.6744
L 221.1552 300.42
L 221.5152 302.2776
L 221.7312 299.88
L 221.7672 302.7816
L 222.2352 299.8584
L 222.5952 301.32
L 222.9552 299.4408
L 223.3152 301.4856
L 223.6752 299.0376
L 224.0352 301.4856
L 224.3952 299.5776
L 224.5968 301.3488
L 224.6328 298.9296
L 225.1152 301.7808
L 225.4752 299.9304
L 225.8352 302.0328
L 226.1952 299.5344
L 226.5552 302.328
L 226.9152 301.1184
L 227.2752 303.9408
L 227.4624 300.8376
L 227.4984 303.732
L 227.9952 302.5656
L 228.3552 305.136
L 228.7152 303.8832
L 229.0752 306.576
L 229.4352 304.0632
L 229.7952 307.2744
L 230.3208 305.136
L 230.3568 308.5056
L 230.5152 305.0352
L 230.8752 307.4544
L 231.2352 305.2368
L 231.5952 307.5552
L 231.9552 304.488
L 232.3152 306.6192
L 232.6752 304.2648
L 233.1864 305.6472
L 233.2224 302.2704
L 233.3952 305.1792
L 233.7552 302.7384
L 234.1152 305.0136
L 234.4752 302.2848
L 234.8352 303.4296
L 235.1016 301.788
L 235.1376 304.2144
L 235.5552 301.9248
L 235.9152 303.8472
L 236.2752 302.3064
L 236.6352 304.9488
L 236.9952 302.3208
L 237.3552 304.5672
L 237.7152 302.688
L 238.0752 304.416
L 238.4352 302.796
L 238.9176 305.6472
L 238.9536 303.2208
L 239.1552 305.8632
L 239.5152 303.6456
L 239.8752 305.5176
L 240.2352 304.2288
L 240.5952 305.8344
L 240.9552 303.9696
L 241.3152 304.9632
L 241.6752 304.1712
L 242.0352 304.8408
L 242.3952 302.6808
L 242.7408 305.1648
L 242.7768 302.7456
L 243.1152 305.9208
L 243.4752 303.7968
L 243.8352 305.4744
L 244.1952 303.6024
L 244.5552 305.028
L 244.9152 303.7104
L 245.2752 305.388
L 245.5992 302.7456
L 245.6352 305.6472
L 245.9952 303.4512
L 246.3552 305.7768
L 246.7152 303.5808
L 247.0752 306.2232
L 247.4352 304.92
L 247.7952 306.1728
L 248.1552 306
L 248.4648 307.5552
L 248.5008 305.136
L 248.8752 306.4392
L 249.2352 304.8048
L 249.5952 306.8208
L 249.9552 306.252
L 250.3152 306.4896
L 250.6752 304.5024
L 251.0352 306.5112
L 251.3304 304.1784
L 251.3664 306.5976
L 251.7552 303.5592
L 252.1152 306.4104
L 252.4752 302.976
L 252.8352 304.4448
L 253.1952 301.4568
L 253.5552 304.4304
L 253.9152 301.7088
L 254.196 303.732
L 254.232 300.8376
L 254.6352 303.4872
L 254.9952 301.3056
L 255.3552 303.2856
L 255.7152 301.9392
L 256.0752 303.6816
L 256.4352 301.9104
L 256.7952 303.9192
L 257.1552 302.7024
L 257.5152 303.7968
L 258.0192 302.7456
L 258.0552 305.1648
L 258.2352 302.9544
L 258.5952 305.4384
L 258.9552 303.5232
L 259.3152 304.9344
L 259.6752 303.2424
L 260.0352 305.676
L 260.3952 303.1632
L 260.7552 305.028
L 261.1152 304.0128
L 261.4752 305.4456
L 261.8352 304.1784
L 261.8712 306.5976
L 262.1952 303.5952
L 262.5552 305.9136
L 262.9152 304.3368
L 263.2752 306.9504
L 263.6352 305.064
L 263.9952 306.216
L 264.3552 304.9848
L 264.7152 305.8056
L 265.0752 304.2504
L 265.4352 305.2296
L 265.6584 304.1784
L 265.6944 306.5976
L 266.1552 303.5016
L 266.5152 304.92
L 266.8752 303.0264
L 267.2352 305.0496
L 267.5952 302.7672
L 267.9552 304.776
L 268.3152 302.9256
L 268.5168 305.6472
L 268.5528 302.2704
L 269.0352 303.7896
L 269.3952 300.2976
L 269.7552 303.7608
L 270.1152 297.3672
L 270.4752 301.9536
L 270.8352 298.2384
L 271.1952 300.2976
L 271.3824 296.5392
L 271.4184 300.3912
L 271.9152 295.9704
L 272.2752 299.412
L 272.6352 295.7904
L 272.9952 299.6064
L 273.3552 293.9112
L 273.7152 297.8424
L 274.248 293.1984
L 274.284 298.008
L 274.4352 295.272
L 274.7952 298.5912
L 275.1552 294.0264
L 275.5152 298.5408
L 275.8752 294.3288
L 276.2352 299.2752
L 276.5952 296.7984
L 277.1136 300.8664
L 277.1496 296.5392
L 277.3152 300.2544
L 277.6752 296.6904
L 278.0352 300.0096
L 278.3952 296.7624
L 278.7552 300.7008
L 279.1152 297.2304
L 279.4752 301.7448
L 279.9792 296.5392
L 280.0152 302.2992
L 280.1952 298.3608
L 280.5552 300.492
L 280.9152 297.4392
L 281.2752 299.8152
L 281.6352 296.5536
L 281.9952 300.8016
L 282.3552 298.7784
L 282.8448 301.824
L 282.8808 297.972
L 283.0752 300.6648
L 283.4352 298.476
L 283.7952 301.0536
L 284.1552 298.6632
L 284.5152 300.5496
L 284.8752 298.0008
L 285.2352 300.8376
L 285.5952 298.3248
L 285.9552 300.8376
L 286.3152 298.0152
L 286.6608 301.824
L 286.6968 298.4472
L 287.0352 300.8448
L 287.3952 298.9944
L 287.7552 302.6592
L 288.1152 300.744
L 288.4752 303.804
L 288.8352 301.392
L 289.1952 304.6464
L 289.5264 303.2208
L 289.5624 305.6472
L 289.9152 303.6096
L 290.2752 305.1288
L 290.6352 303.1488
L 290.9952 304.8984
L 291.3552 303.6456
L 291.7152 305.0712
L 292.0752 304.3512
L 292.392 306.5976
L 292.428 304.1784
L 292.7952 305.7264
L 293.1552 303.948
L 293.5152 304.7112
L 293.8752 303.372
L 294.2352 305.7768
L 294.5952 302.3784
L 294.9552 304.3584
L 295.2576 301.788
L 295.2936 304.6896
L 295.6752 301.464
L 296.0352 303.552
L 296.3952 300.9456
L 296.7552 304.5384
L 297.1152 302.3136
L 297.4752 303.9048
L 297.8352 300.8304
L 298.1952 304.5456
L 298.5552 301.2768
L 298.9152 303.2136
L 299.2752 300.6576
L 299.6352 302.328
L 300.0312 300.8376
L 300.0672 303.732
L 300.3552 300.24
L 300.7152 302.4504
L 301.0752 301.14
L 301.4352 303.2784
L 301.7952 301.7808
L 302.1552 303.228
L 302.5152 302.1264
L 302.8752 305.0496
L 303.2352 302.0616
L 303.5952 304.9056
L 303.8544 302.7456
L 303.8904 305.6472
L 304.3152 303.6384
L 304.6752 306.3168
L 305.0352 304.5744
L 305.3952 306.9648
L 305.7552 304.3008
L 306.1152 306.8712
L 306.4752 305.7768
L 306.8352 307.4616
L 307.1952 305.928
L 307.6704 308.0304
L 307.7064 304.6536
L 307.9152 307.5336
L 308.2752 304.1136
L 308.6352 308.196
L 308.9952 304.92
L 309.3552 308.6928
L 309.7152 304.4736
L 310.0752 307.5552
L 310.1112 304.6536
L 310.4352 306.8568
L 310.7952 304.2504
L 311.1552 307.3392
L 311.5152 304.9776
L 311.976 307.3176
L 312.012 303.9408
L 312.2352 307.1088
L 312.5952 304.5672
L 312.9552 307.044
L 313.3152 302.724
L 313.6752 305.3304
L 314.0352 303.9912
L 314.3952 305.136
L 314.7552 303.4224
L 315.1152 305.6904
L 315.3312 302.2704
L 315.3672 305.1648
L 315.8352 303.1344
L 316.1952 305.8632
L 316.5552 303.2136
L 316.9152 304.5168
L 317.2752 302.7384
L 317.6352 304.8192
L 317.9952 303.6024
L 318.3552 304.6752
L 318.7152 303.9336
L 319.1472 306.1224
L 319.1832 304.1784
L 319.4352 304.9344
L 319.7952 304.452
L 320.1552 306.0216
L 320.5152 305.0568
L 320.8752 306.3024
L 321.2352 305.4744
L 321.5952 306.7272
L 321.9552 306.072
L 322.3152 308.7216
L 322.6752 307.1736
L 322.9704 308.988
L 323.0064 306.5688
L 323.3952 308.6424
L 323.7552 306.8856
L 324.1152 308.2392
L 324.4752 306.0144
L 324.8352 307.656
L 325.1952 304.5672
L 325.5552 306.7704
L 325.9152 303.732
L 326.2752 306.4608
L 326.7864 303.7032
L 326.8224 306.5976
L 326.9952 305.1144
L 327.3552 306.0576
L 327.7152 304.9272
L 328.0752 306.8064
L 328.4352 303.3792
L 328.7952 306
L 329.1552 302.5008
L 329.652 305.1648
L 329.688 302.2704
L 329.8752 303.8976
L 330.2352 303.1128
L 330.5952 304.4232
L 330.9552 302.8248
L 331.3152 304.6608
L 331.6752 303.156
L 332.0352 305.568
L 332.5176 302.7456
L 332.5536 305.6472
L 332.7552 301.9248
L 333.1152 304.632
L 333.4752 302.5944
L 333.8352 303.8544
L 334.1952 301.2912
L 334.5552 303.2136
L 334.9152 301.1616
L 335.3832 303.2568
L 335.4192 300.3624
L 335.6352 303.264
L 335.9952 299.6352
L 336.3552 301.392
L 336.7152 299.0376
L 337.0752 300.924
L 337.4352 299.772
L 337.7952 301.7304
L 338.2488 297.4968
L 338.2848 300.8664
L 338.5152 298.1232
L 338.8752 300.9456
L 339.2352 298.872
L 339.5952 300.1464
L 339.9552 297.8208
L 340.3152 299.736
L 340.6752 297.0072
L 341.1144 300.3912
L 341.1504 297.0144
L 341.3952 299.5848
L 341.7552 297.288
L 342.1152 300.6864
L 342.4752 298.6488
L 342.8352 300.528
L 343.1952 298.368
L 343.5552 300.3336
L 343.9152 298.368
L 344.2752 299.7648
L 344.6352 298.08
L 344.9304 299.916
L 344.9664 297.4968
L 345.3552 299.5992
L 345.7152 298.4256
L 346.0752 299.9304
L 346.4352 297.2952
L 346.7952 299.88
L 347.1552 298.2888
L 347.5152 300.4848
L 347.8752 298.4904
L 348.2352 300.4632
L 348.7536 298.4472
L 348.7896 301.3488
L 348.9552 299.5704
L 349.3152 302.5944
L 349.6752 301.1112
L 350.0352 303.3432
L 350.3952 301.6008
L 350.7552 304.9992
L 351.1152 303.4944
L 351.6192 306.1224
L 351.6552 303.2208
L 351.8352 306.5328
L 352.1952 303.7968
L 352.5552 305.8272
L 352.9152 304.164
L 353.2752 305.8992
L 353.6352 304.0128
L 353.9952 305.4888
L 354.4776 304.6536
L 354.5136 306.5976
L 354.7152 304.9056
L 355.0752 306.0072
L 355.4352 304.272
L 355.7952 305.7336
L 356.1552 303.696
L 356.5152 304.6968
L 356.8752 303.6168
L 357.3432 304.2144
L 357.3792 301.788
L 357.5952 304.4376
L 357.9552 302.832
L 358.3152 304.5888
L 358.6752 301.7016
L 359.0352 303.1992
L 359.3952 300.8664
L 359.7552 302.7744
L 360.1152 301.4496
L 360.4752 302.292
L 360.8352 301.3992
L 361.1664 303.732
L 361.2024 301.3128
L 361.5552 303.372
L 361.9152 302.1048
L 362.2752 304.8336
L 362.6352 302.256
L 362.9952 304.5024
L 363.3552 303.084
L 363.7152 304.56
L 364.032 303.7032
L 364.068 306.1224
L 364.4352 303.228
L 364.7952 305.532
L 365.1552 304.9128
L 365.5152 306.2736
L 365.8752 305.8272
L 366.2352 308.2824
L 366.5952 305.82
L 366.8976 309.4632
L 366.9336 306.5688
L 367.3152 307.7856
L 367.6752 306.0792
L 368.0352 307.764
L 368.3952 303.912
L 368.7552 306.8568
L 369.1152 303.7032
L 369.4752 306.1872
L 369.756 302.7456
L 369.792 305.6472
L 370.1952 302.4936
L 370.5552 305.3304
L 370.9152 303.3072
L 371.2752 304.7256
L 371.6352 302.5656
L 371.9952 303.84
L 372.3552 302.1696
L 372.6216 304.2144
L 372.6576 301.3128
L 373.0752 303.552
L 373.4352 301.9176
L 373.7952 303.6744
L 374.1552 302.5008
L 374.5152 303.9264
L 374.8752 302.8032
L 375.2352 304.236
L 375.4872 302.7456
L 375.5232 305.1648
L 375.9552 302.0976
L 376.3152 305.5824
L 376.6752 303.012
L 377.0352 305.3808
L 377.3952 301.788
L 377.4312 304.6896
L 377.7552 301.6728
L 378.1152 304.884
L 378.4752 304.4952
L 378.8352 306.4248
L 379.1952 305.46
L 379.5552 307.836
L 379.7856 305.136
L 379.8216 307.5552
L 380.2752 306.1152
L 380.6352 307.9224
L 380.9952 306.0504
L 381.3552 307.8648
L 381.7152 305.3952
L 382.0752 307.4184
L 382.4352 304.5312
L 382.7952 305.9928
L 383.1264 304.6536
L 383.1624 307.08
L 383.5152 304.7472
L 383.8752 306.3096
L 384.2352 304.6392
L 384.5952 307.9368
L 384.9552 305.1432
L 385.3152 307.8648
L 385.6752 305.5896
L 385.992 307.5552
L 386.028 305.136
L 386.3952 307.2168
L 386.7552 304.0776
L 387.1152 306.7272
L 387.4752 304.8624
L 387.8352 306.5472
L 388.1952 304.8408
L 388.5552 305.8056
L 388.8576 303.2208
L 388.8936 305.6472
L 389.2752 303.8256
L 389.6352 305.6112
L 389.9952 304.0344
L 390.3552 305.1936
L 390.7152 303.192
L 391.0752 304.56
L 391.4352 302.3424
L 391.7952 304.4088
L 392.1552 302.0976
L 392.6736 304.2144
L 392.7096 301.788
L 392.8752 303.3648
L 393.2352 302.2056
L 393.5952 304.524
L 393.9552 302.3136
L 394.3152 303.5016
L 394.6752 302.364
L 395.0352 303.3
L 395.5392 300.8376
L 395.5752 303.2568
L 395.7552 300.7512
L 396.1152 301.9608
L 396.4752 300.2904
L 396.8352 302.5224
L 397.1952 298.5984
L 397.5552 301.4496
L 397.9152 297.2736
L 398.4048 300.8664
L 398.4408 296.5392
L 398.6352 300.096
L 398.9952 296.5608
L 399.3552 298.4472
L 399.7152 295.3512
L 400.0752 298.2456
L 400.4352 294.4728
L 400.7952 296.8272
L 401.1552 293.8032
L 401.5152 297.6912
L 401.7456 292.9608
L 401.7816 297.0504
L 402.2352 294.7248
L 402.5952 296.3952
L 402.9552 295.0488
L 403.3152 298.0656
L 403.6752 295.2288
L 403.9056 299.4408
L 403.9416 295.5816
L 404.3952 300.2328
L 404.7552 296.172
L 405.1152 300.1608
L 405.4752 298.4616
L 405.8352 301.4208
L 406.1952 298.2168
L 406.5552 303.2424
L 406.7712 299.88
L 406.8072 303.2568
L 407.2752 300.8376
L 407.6352 303.264
L 407.9952 302.1696
L 408.3552 303.948
L 408.7152 302.652
L 409.0752 306.4248
L 409.4352 304.2504
L 409.8816 307.5552
L 409.9176 304.1784
L 410.1552 307.044
L 410.5152 305.8272
L 410.8752 307.9368
L 411.2352 306.1152
L 411.5952 307.9152
L 411.9552 305.2872
L 412.3152 308.16
L 412.7472 305.6112
L 412.7832 308.5056
L 413.0352 306.1368
L 413.3952 307.8216
L 413.7552 306.9792
L 414.1152 308.3112
L 414.4752 306.6696
L 414.8352 307.9512
L 415.1376 306.5688
L 415.1736 308.988
L 415.5552 304.5672
L 415.9152 305.1
L 416.2752 301.248
L 416.6352 302.832
L 416.9952 299.592
L 417.5208 299.4408
L 417.5568 295.5816
L 417.7152 298.476
L 418.0752 296.964
L 418.4352 299.5416
L 418.7952 297.8064
L 419.1552 300.9528
L 419.5152 298.2168
L 419.8752 302.1192
L 420.3864 299.88
L 420.4224 303.2568
L 420.5952 300.744
L 420.9552 304.344
L 421.3152 300.1968
L 421.6752 304.0416
L 422.0352 301.0248
L 422.3952 304.7472
L 422.7552 301.788
L 423.252 305.1648
L 423.288 301.788
L 423.4752 305.352
L 423.8352 303.6456
L 424.1952 307.5408
L 424.5552 305.3592
L 424.9152 308.4336
L 425.2752 307.7496
L 425.6424 310.4208
L 425.6784 308.0016
L 425.9952 309.1104
L 426.3552 306.8352
L 426.7152 307.4904
L 427.0752 305.0784
L 427.4352 306.6336
L 427.7952 303.48
L 428.0256 306.1224
L 428.0616 303.7032
L 428.5152 305.1504
L 428.8752 303.1848
L 429.2352 304.74
L 429.5952 302.7528
L 429.9552 304.1928
L 430.3152 302.0904
L 430.6752 304.2072
L 430.8912 301.3128
L 430.9272 303.732
L 431.3952 301.2552
L 431.7552 302.4432
L 432.1152 300.492
L 432.4752 302.5656
L 432.8352 298.9872
L 433.1952 302.6952
L 433.5552 300.564
L 433.7568 301.824
L 433.7928 298.9296
L 434.2752 302.292
L 434.6352 300.8736
L 434.9952 303.0552
L 435.3552 301.8456
L 435.7152 304.0344
L 436.1472 301.788
L 436.1832 304.2144
L 436.4352 302.508
L 436.7952 302.8968
L 437.1552 301.1904
L 437.5152 302.94
L 437.8752 300.6432
L 438.2352 302.076
L 438.5304 300.3624
L 438.5664 303.732
L 438.9552 301.5144
L 439.3152 303.876
L 439.6752 302.5872
L 440.0352 304.812
L 440.4384 303.7032
L 440.4744 306.1224
L 440.7552 303.9912
L 441.1152 305.1216
L 441.4752 303.9696
L 441.8352 305.7048
L 442.1952 303.7608
L 442.5552 305.7048
L 442.9152 303.6816
L 443.304 304.6896
L 443.34 302.2704
L 443.6352 304.3296
L 443.9952 303.5232
L 444.3552 305.3016
L 444.7152 303.4872
L 445.0752 305.388
L 445.4352 303.4296
L 445.7952 304.848
L 446.1552 302.6592
L 446.5152 304.6896
L 446.8752 303.3504
L 447.1272 305.6472
L 447.1632 303.2208
L 447.5952 305.9424
L 447.9552 304.2
L 448.3152 306
L 448.6752 304.8408
L 449.0352 306.2808
L 449.3952 305.0424
L 449.7552 306.8712
L 450.1152 304.8912
L 450.4752 305.8704
L 450.9432 304.6536
L 450.9792 306.5976
L 451.1952 304.1712
L 451.5552 304.7544
L 451.9152 303.2928
L 452.2752 303.9912
L 452.6352 301.7736
L 452.9952 304.236
L 453.3552 300.8952
L 453.7152 302.3784
L 454.0752 300.492
L 454.4352 302.1408
L 454.7664 299.4048
L 454.8024 302.7816
L 455.1552 299.4984
L 455.5152 301.0032
L 455.8752 297.7632
L 456.2352 300.9384
L 456.5952 298.2456
L 456.9552 299.2824
L 457.3152 295.8192
L 457.6752 297.54
L 458.0352 294.9984
L 458.3952 297.468
L 458.5824 294.6312
L 458.6184 298.008
L 459.1152 296.0712
L 459.4752 298.512
L 459.8352 296.784
L 460.1952 299.4336
L 460.5552 298.0368
L 460.9152 299.556
L 461.2752 297.9
L 461.6352 300.3264
L 461.9952 298.2744
L 462.4056 301.3488
L 462.4416 298.4472
L 462.7152 300.9168
L 463.0752 300.2544
L 463.4352 302.112
L 463.7952 299.7576
L 464.1552 302.616
L 464.5152 299.5848
L 464.8752 301.1904
L 465.2352 299.8368
L 465.5952 303.7176
L 465.9552 301.7016
L 466.2216 302.7816
L 466.2576 300.3624
L 466.6752 303.1488
L 467.0352 301.176
L 467.3952 303.2568
L 467.7552 301.104
L 468.1152 303.4008
L 468.4752 301.068
L 468.8352 303.4008
L 469.1952 300.1176
L 469.5552 302.472
L 470.0448 300.8376
L 470.0808 303.732
L 470.2752 301.8384
L 470.6352 304.6752
L 470.9952 302.4072
L 471.3552 304.8552
L 471.7152 303.1272
L 472.0752 305.1432
L 472.4352 304.2648
L 472.7952 305.9856
L 473.1552 303.5736
L 473.5152 306.288
L 473.8608 303.7032
L 473.8968 306.5976
L 474.2352 303.9264
L 474.5952 305.8848
L 474.9552 304.7184
L 475.3152 306.0144
L 475.6752 304.668
L 476.0352 306.0864
L 476.3952 303.9912
L 476.7552 305.0712
L 477.1152 303.624
L 477.4752 305.028
L 477.684 302.2704
L 477.72 304.6896
L 478.1952 302.832
L 478.5552 304.02
L 478.9152 302.2056
L 479.2752 302.4936
L 479.592 299.4048
L 479.628 302.2992
L 479.9952 301.8384
L 480.3552 303.5304
L 480.7152 302.1048
L 481.0752 303.696
L 481.4352 303.3216
L 481.7952 306.2016
L 482.1552 304.9056
L 482.4576 306.5976
L 482.4936 304.1784
L 482.8752 306
L 483.2352 304.1208
L 483.5952 305.4168
L 483.9552 302.8896
L 484.3152 304.4232
L 484.6752 302.004
L 485.0352 303.2784
L 485.3232 301.3128
L 485.3592 303.2568
L 485.7552 301.7448
L 486.1152 302.7384
L 486.4752 300.9384
L 486.8352 301.68
L 487.1952 300.204
L 487.5552 301.9248
L 487.9152 300.204
L 488.2752 302.0688
L 488.664 298.9296
L 488.7 302.2992
L 488.9952 299.8296
L 489.3552 301.3848
L 489.7152 300.6504
L 490.0752 302.8176
L 490.4352 300.5856
L 490.7952 303.984
L 491.1552 302.2992
L 491.5152 305.0496
L 492.0048 302.2704
L 492.0408 305.1648
L 492.2352 302.4576
L 492.5952 303.8256
L 492.9552 300.8016
L 493.3152 304.6752
L 493.6752 302.4072
L 494.0352 303.768
L 494.3952 302.3712
L 494.7552 304.164
L 495.1152 302.2704
L 495.4752 304.2504
L 495.828 301.788
L 495.864 304.6896
L 496.1952 302.5368
L 496.5552 305.4888
L 496.9152 303.8472
L 497.2752 306.1512
L 497.5056 303.4656
L 497.5416 305.8848
L 497.9952 304.0848
L 498.3552 305.6688
L 498.7152 302.7672
L 499.0752 304.2432
L 499.4352 301.6512
L 499.7952 303.5808
L 500.1336 300.6
L 500.1696 303.732
L 500.5152 300.9744
L 500.8752 304.6536
L 501.2352 301.6224
L 501.5952 303.8616
L 501.9552 301.932
L 502.3152 302.6592
L 502.6752 301.6656
L 503.0064 304.2144
L 503.0424 301.3128
L 503.3952 303.1128
L 503.7552 302.0688
L 504.1152 303.7536
L 504.4752 302.6376
L 504.8352 304.5816
L 505.1952 303.4944
L 505.5552 304.6176
L 505.872 304.1784
L 505.908 306.5976
L 506.2752 304.02
L 506.6352 306.5184
L 506.9952 305.2872
L 507.3552 307.3608
L 507.7152 306.6912
L 508.0752 308.196
L 508.4352 306.036
L 508.7952 308.9376
L 509.2128 306.5688
L 509.2488 309.4632
L 509.5152 305.8488
L 509.8752 308.3112
L 510.2352 306.7776
L 510.5952 307.8936
L 510.9552 306.468
L 511.3152 307.7208
L 511.6752 305.7264
L 512.0784 306.1224
L 512.1144 303.7032
L 512.3952 306.2664
L 512.7552 303.4944
L 513.1152 304.1568
L 513.4752 301.3488
L 513.8352 303.5016
L 514.1952 300.852
L 514.5552 301.8744
L 514.9152 298.728
L 515.4192 301.3488
L 515.4552 298.4472
L 515.6352 300.4704
L 515.9952 298.512
L 516.3552 300.6936
L 516.7152 299.0304
L 517.0752 301.1328
L 517.4352 299.0016
L 517.7952 300.7872
L 518.1552 299.1096
L 518.5152 301.428
L 518.76 298.4472
L 518.796 301.3488
L 519.2352 299.0016
L 519.5952 301.428
L 519.9552 298.9512
L 520.3152 300.9528
L 520.6752 299.4336
L 521.0352 300.744
L 521.3952 299.3112
L 521.6256 301.824
L 521.6616 298.9296
L 522.1152 301.4712
L 522.4752 298.0296
L 522.8352 299.7072
L 523.1952 297.3528
L 523.5552 301.6512
L 523.9152 297.0288
L 524.2752 300.8016
L 524.4912 296.5392
L 524.5272 300.8664
L 524.9952 297.7344
L 525.3552 301.5504
L 525.7152 297.9864
L 526.0752 301.3416
L 526.4352 299.52
L 526.7952 302.2128
L 527.1552 300.1464
L 527.3568 303.2568
L 527.3928 300.3624
L 527.8752 302.8968
L 528.2352 299.3688
L 528.5952 302.7168
L 528.9552 299.7648
L 529.3152 301.9248
L 529.6752 299.6208
L 530.0352 302.1408
L 530.2224 298.9296
L 530.2584 301.824
L 530.7552 298.9728
L 531.1152 300.5352
L 531.4752 299.376
L 531.8352 301.5792
L 532.1952 299.9088
L 532.5552 302.0256
L 533.088 300.3624
L 533.124 303.2568
L 533.2752 300.2472
L 533.6352 304.092
L 533.9952 302.4216
L 534.3552 304.2432
L 534.7152 302.3856
L 535.0752 304.6608
L 535.4352 303.2928
L 535.7952 305.3232
L 536.1552 304.056
L 536.5152 304.8552
L 536.904 304.1784
L 536.94 306.5976
L 537.2352 304.1064
L 537.5952 304.9992
L 537.9552 303.0768
L 538.3152 305.5896
L 538.6752 303.1848
L 539.0352 304.8768
L 539.3952 303.0624
L 539.7696 304.6896
L 539.8056 301.788
L 540.1152 305.28
L 540.4752 303.0408
L 540.8352 303.9048
L 541.1952 302.1768
L 541.5552 303.336
L 541.9152 301.5216
L 542.2752 303.2136
L 542.6352 300.8304
L 542.9952 302.7024
L 543.3552 299.6496
L 543.7152 302.0832
L 544.0752 300.3264
L 544.5432 301.824
L 544.5792 298.9296
L 544.7952 302.2056
L 545.1552 299.9664
L 545.5152 302.4432
L 545.8752 300.2544
L 546.2352 303.1488
L 546.5952 300.8232
L 546.9552 303.3288
L 547.3152 301.9824
L 547.6752 304.3584
L 548.0352 302.7672
L 548.3664 305.6472
L 548.4024 302.7456
L 548.7552 305.7264
L 549.1152 302.6376
L 549.4752 304.9848
L 549.8352 303.6456
L 550.1952 305.6832
L 550.5552 303.0552
L 550.9152 305.4888
L 551.2752 303.192
L 551.6352 305.8848
L 551.9952 302.8968
L 552.1824 305.1648
L 552.2184 302.7456
L 552.7152 304.6752
L 553.0752 303.2856
L 553.4352 305.0568
L 553.7952 302.22
L 554.1552 304.9056
L 554.5152 301.536
L 554.8752 303.3
L 555.2352 302.04
L 555.5952 304.6392
L 555.9552 301.2552
L 556.4808 303.732
L 556.5168 300.3624
L 556.6752 303.2064
L 557.0352 301.6512
L 557.3952 304.0704
L 557.7552 302.7528
L 558.1152 304.5168
L 558.4752 303.192
L 558.8712 305.1648
L 558.9072 302.7456
L 559.1952 304.2936
L 559.5552 300.3696
L 559.9152 303.264
L 560.304 299.4048
L 560.34 303.2568
L 560.6352 300.456
L 560.9952 303.732
L 561.3552 302.4936
L 561.7152 304.6032
L 562.0752 303.84
L 562.4352 306.2952
L 562.6872 305.6112
L 562.7232 308.0304
L 563.1552 305.6976
L 563.5152 308.16
L 563.8752 306.5184
L 564.2352 309.0024
L 564.5952 306.5616
L 564.9552 308.592
L 565.3152 306.7344
L 565.6752 308.6352
L 566.0352 306.9576
L 566.5104 308.988
L 566.5464 306.5688
L 566.7552 307.7352
L 567.1152 306.2592
L 567.4752 308.2752
L 567.8352 306.1656
L 568.1952 307.3464
L 568.5552 305.7552
L 568.9152 306.8784
L 569.2752 306.144
L 569.6352 307.2528
L 569.9952 305.7912
L 570.3264 307.08
L 570.3624 305.136
L 570.7152 306.7704
L 571.0752 305.6472
L 571.4352 306.3096
L 571.7952 305.1
L 572.1552 306.1872
L 572.5152 304.2936
L 572.8752 306.2304
L 573.192 303.2208
L 573.228 305.6472
L 573.5952 303.66
L 573.9552 305.3664
L 574.3152 304.416
L 574.6752 305.3448
L 575.0352 303.0984
L 575.3952 305.5248
L 575.7552 303.1416
L 576.0576 305.1648
L 576.0936 302.7456
L 576.4752 305.2944
L 576.8352 302.5728
L 577.1952 305.352
L 577.5552 302.9256
L 577.9152 304.0344
L 578.2752 302.3568
L 578.6352 303.2784
L 578.9232 301.3128
L 578.9592 304.2144
L 579.3552 300.2832
L 579.7152 302.2776
L 580.0752 299.2032
L 580.4352 300.888
L 580.7952 298.3248
L 581.3064 299.916
L 581.3424 297.0144
L 581.5152 298.1304
L 581.8752 297.1584
L 582.2352 300.06
L 582.5952 298.8432
L 582.9552 300.9816
L 583.3152 299.0808
L 583.6752 300.7368
L 584.0352 299.3544
L 584.3952 300.3984
L 584.6544 298.9296
L 584.6904 300.8664
L 585.1152 299.3328
L 585.4752 300.744
L 585.8352 298.8648
L 586.1952 301.2696
L 586.5552 299.268
L 586.9152 301.3632
L 587.2752 300.4128
L 587.6352 301.8096
L 587.9952 299.1168
L 588.4704 301.824
L 588.5064 298.9296
L 588.7152 302.0184
L 589.0752 298.5264
L 589.4352 301.8888
L 589.7952 299.448
L 590.1552 302.0976
L 590.5152 298.9224
L 590.8752 301.3488
L 590.9112 298.4472
L 591.2352 300.6
L 591.5952 298.62
L 591.9552 301.0392
L 592.3152 299.5416
L 592.6752 301.6224
L 593.0928 299.88
L 593.1288 302.2992
L 593.3952 299.9736
L 593.7552 303.084
L 594.1152 302.076
L 594.4752 305.604
L 594.8352 305.2008
L 595.1952 307.2312
L 595.6488 305.136
L 595.6848 308.5056
L 595.9152 304.416
L 596.2752 308.7792
L 596.6352 305.784
L 596.9952 307.8936
L 597.3552 306.1512
L 597.7152 308.7216
L 598.0752 306.432
L 598.5144 308.988
L 598.5504 305.6112
L 598.7952 307.7064
L 599.1552 305.2296
L 599.5152 306.7416
L 599.8752 302.4144
L 600.2352 306.288
L 600.5952 302.8752
L 600.9552 303.4584
L 601.3152 300.06
L 601.6752 303.552
L 601.8624 299.88
L 601.8984 302.7816
L 602.3952 300.3552
L 602.7552 301.4496
L 603.1152 300.6504
L 603.4752 302.4648
L 603.8352 300.7224
L 604.1952 303.8976
L 604.5552 300.6072
L 604.9152 305.3808
L 605.2752 302.1552
L 605.6784 304.2144
L 605.7144 301.3128
L 605.9952 303.7752
L 606.3552 302.7096
L 606.7152 304.2432
L 607.0752 302.8752
L 607.4352 305.5896
L 607.7952 303.6096
L 608.1552 305.2872
L 608.5152 304.4664
L 608.8752 306.4752
L 609.2352 305.5032
L 609.5952 307.3536
L 609.9552 306.3312
L 610.452 308.5056
L 610.488 306.0864
L 610.6752 308.412
L 611.0352 306.1656
L 611.3952 307.62
L 611.7552 305.6904
L 612.1152 307.4472
L 612.4752 305.6688
L 612.8352 307.0656
L 613.3176 305.6112
L 613.3536 308.0304
L 613.5552 306.0432
L 613.9152 306.9216
L 614.2752 304.7256
L 614.6352 305.7912
L 614.9952 303.7464
L 615.3552 304.4232
L 615.7152 301.2624
L 616.0752 303.0912
L 616.4352 299.4912
L 616.7952 301.176
L 617.1552 299.5992
L 617.616 301.3488
L 617.652 297.972
L 617.8752 301.8096
L 618.2352 300.3192
L 618.5952 302.616
L 618.9552 299.9952
L 619.3152 302.508
L 619.6752 301.5504
L 619.9992 304.2144
L 620.0352 301.788
L 620.3952 303.6672
L 620.7552 301.5504
L 621.1152 303.408
L 621.4752 301.3704
L 621.9144 302.7816
L 621.9504 299.88
L 622.1952 302.94
L 622.5552 301.8816
L 622.9152 303.7392
L 623.2752 302.3568
L 623.6352 304.9704
L 623.9952 303.4296
L 624.3552 306.072
L 624.7152 303.9552
L 625.0752 307.3104
L 625.2552 304.6536
L 625.2912 307.08
L 625.7952 304.9848
L 626.1552 306.4032
L 626.5152 304.2072
L 626.8752 307.2024
L 627.2352 305.2872
L 627.5952 307.584
L 627.9552 306.3312
L 628.3152 307.6632
L 628.596 305.136
L 628.632 307.5552
L 629.0352 305.6616
L 629.3952 306.7992
L 629.7552 306.3312
L 630.1152 307.9512
L 630.4752 306.1152
L 630.8352 307.6632
L 631.1952 306.4176
L 631.5552 307.2024
L 631.9152 305.8992
L 632.4192 307.5552
L 632.4552 305.6112
L 632.6352 307.5336
L 632.9952 306.4752
L 633.3552 307.296
L 633.7152 305.3592
L 634.0752 307.9152
L 634.4352 305.4456
L 634.7952 306.9504
L 635.1552 305.3664
L 635.5152 306.3312
L 635.8752 304.776
L 636.2352 306.5976
L 636.2712 304.1784
L 636.5952 305.0784
L 636.9552 303.156
L 637.3152 305.136
L 637.6752 301.896
L 638.0352 304.0704
L 638.3952 301.1472
L 638.64 304.56
L 638.64 229.68
L 638.784 348.696
L 638.928 302.4
L 638.7552 303.6024
L 639.1152 300.456
L 639.4752 301.644
L 639.8352 299.5776
L 640.0584 303.2568
L 640.0944 299.4048
L 640.5552 301.7952
L 640.9152 298.1736
L 641.2752 301.6656
L 641.6352 297.6408
L 641.9952 300.7296
L 642.3552 297.396
L 642.7152 302.0256
L 643.0752 297.1512
L 643.3992 300.3912
L 643.4352 296.5392
L 643.7952 298.764
L 644.1552 296.8416
L 644.5152 298.836
L 644.8752 297.4752
L 645.2352 299.1168
L 645.5952 297.2664
L 645.9552 299.556
L 646.3152 297.5328
L 646.74 300.8664
L 646.776 297.972
L 647.0352 300.1968
L 647.3952 298.3536
L 647.7552 301.0464
L 648.1152 300.0096
L 648.4752 301.5864
L 648.8352 299.9232
L 649.1952 301.4496
L 649.5552 300.1896
L 649.9152 300.7224
L 650.2752 299.3976
L 650.556 301.3488
L 650.592 298.4472
L 650.9952 301.0176
L 651.3552 299.1528
L 651.7152 301.068
L 652.0752 299.9304
L 652.4352 302.04
L 652.7952 300.78
L 653.1552 302.8536
L 653.4216 301.788
L 653.4576 304.6896
L 653.8752 302.4432
L 654.2352 304.5744
L 654.5952 303.6456
L 654.9552 305.1288
L 655.3152 304.1856
L 655.6752 306.936
L 656.0352 305.3448
L 656.2872 308.0304
L 656.3232 305.136
L 656.7552 309.0672
L 657.1152 307.2528
L 657.4752 309.672
L 657.8352 307.98
L 658.1952 310.7808
L 658.5552 308.1312
L 658.9152 311.3064
L 659.1528 308.0016
L 659.1888 311.3712
L 659.6352 308.4192
L 659.9952 309.4776
L 660.3552 307.2744
L 660.7152 308.4192
L 661.0752 304.4448
L 661.4352 306.0288
L 661.7952 302.6808
L 662.1552 303.8544
L 662.5152 300.5712
L 662.976 302.2992
L 663.012 299.4048
L 663.2352 302.0256
L 663.5952 300.1032
L 663.9552 303.8688
L 664.3152 301.068
L 664.6752 305.0712
L 665.0352 302.364
L 665.3952 305.748
L 665.8344 303.2208
L 665.8704 306.1224
L 666.1152 304.6608
L 666.4752 306.3384
L 666.8352 304.02
L 667.1952 306.2376
L 667.5552 304.8696
L 667.9152 307.4688
L 668.2752 306.6552
L 668.6352 308.736
L 669.1536 306
L 669.1896 308.5128
L 669.3552 306.5616
L 669.7152 308.7144
L 670.0752 307.1448
L 670.4352 308.88
L 670.7952 307.7496
L 671.1552 309.2904
L 671.5152 307.404
L 671.76 310.9608
L 671.796 308.2032
L 672.2352 310.2696
L 672.5952 308.1816
L 672.9552 309.8016
L 673.3152 307.8648
L 673.6752 308.6856
L 674.0784 305.352
L 674.1144 308.3472
L 674.3952 306.036
L 674.7552 306.0864
L 675.1152 302.7816
L 675.4896 303.9552
L 675.5256 301.3416
L 675.8352 303.9552
L 676.1952 302.04
L 676.5552 303.3
L 676.9152 299.2536
L 677.2752 301.7592
L 677.6352 299.2464
L 677.9952 302.0544
L 678.3408 298.368
L 678.3768 301.6584
L 678.7152 300.0024
L 679.0752 302.1552
L 679.4352 299.5344
L 679.7952 303.1272
L 680.1552 302.004
L 680.5152 304.2648
L 680.9544 302.3928
L 680.9904 304.6176
L 681.2352 302.796
L 681.5952 303.8688
L 681.9552 301.9104
L 682.3152 302.2416
L 682.6752 298.9512
L 683.0352 302.148
L 683.4672 297.36
L 683.5032 300.6432
L 683.7552 298.8648
L 684.1152 301.4424
L 684.4752 299.0736
L 684.8352 300.3048
L 685.1952 298.4976
L 685.4976 301.6008
L 685.5336 298.9872
L 685.9152 301.2768
L 686.2752 299.6208
L 686.6352 301.1832
L 686.9952 300.1824
L 687.2904 303.0192
L 687.3264 300.2616
L 687.7152 303.2496
L 688.0752 301.6008
L 688.4352 303.2856
L 688.7952 302.472
L 689.1552 304.6176
L 689.616 303.7032
L 689.652 306.3096
L 689.8752 303.3576
L 690.2352 305.0208
L 690.5952 303.588
L 690.5952 303.588
" clip-path="url(#pe26fd05112)" style="fill: none; stroke: #1f77b4; stroke-width: 1.5; stroke-linecap: square"/>
</g>
<g id="patch_8">
<path d="M 52.92 356.04
L 52.92 223.56
" style="fill: none; stroke: #000000; stroke-width: 0.8; stroke-linejoin: miter; stroke-linecap: square"/>
</g>
<g id="patch_9">
<path d="M 722.52 356.04
L 722.52 223.56
" style="fill: none; stroke: #000000; stroke-width: 0.8; stroke-linejoin: miter; stroke-linecap: square"/>
</g>
<g id="patch_10">
<path d="M 52.92 356.04
L 722.52 356.04
" style="fill: none; stroke: #000000; stroke-width: 0.8; stroke-linejoin: miter; stroke-linecap: square"/>
</g>
<g id="patch_11">
<path d="M 52.92 223.56
L 722.52 223.56
" style="fill: none; stroke: #000000; stroke-width: 0.8; stroke-linejoin: miter; stroke-linecap: square"/>
</g>
<g id="text_15">
<g transform="translate(328.0196 217.3080) scale(0.12000 -0.12744)">
<defs>
<path id="DejaVuSans-4e" d="M 628 4666
L 1478 4666
L 3547 763
L 3547 4666
L 4159 4666
L 4159 0
L 3309 0
L 1241 3903
L 1241 0
L 628 0
L 628 4666
z
" transform="scale(0.015625)"/>
<path id="DejaVuSans-6f" d="M 1959 3097
Q 1497 3097 1228 2736
Q 959 2375 959 1747
Q 959 1119 1226 758
Q 1494 397 1959 397
Q 2419 397 2687 759
Q 2956 1122 2956 1747
Q 2956 2369 2687 2733
Q 2419 3097 1959 3097
z
M 1959 3584
Q 2709 3584 3137 3096
Q 3566 2609 3566 1747
Q 3566 888 3137 398
Q 2709 -91 1959 -91
Q 1206 -91 779 398
Q 353 888 353 1747
Q 353 2609 779 3096
Q 1206 3584 1959 3584
z
" transform="scale(0.015625)"/>
<path id="DejaVuSans-72" d="M 2631 2963
Q 2534 3019 2420 3045
Q 2306 3072 2169 3072
Q 1681 3072 1420 2755
Q 1159 2438 1159 1844
L 1159 0
L 581 0
L 581 3500
L 1159 3500
L 1159 2956
Q 1341 3275 1631 3429
Q 1922 3584 2338 3584
Q 2397 3584 2469 3576
Q 2541 3569 2628 3553
L 2631 2963
z
" transform="scale(0.015625)"/>
<path id="DejaVuSans-68" d="M 3513 2113
L 3513 0
L 2938 0
L 2938 2094
Q 2938 2591 2744 2837
Q 2550 3084 2163 3084
Q 1697 3084 1428 2787
Q 1159 2491 1159 1978
L 1159 0
L 581 0
L 581 4863
L 1159 4863
L 1159 2956
Q 1366 3272 1645 3428
Q 1925 3584 2291 3584
Q 2894 3584 3203 3211
Q 3513 2838 3513 2113
z
" transform="scale(0.015625)"/>
</defs>
<use href="#DejaVuSans-4e"/>
<use href="#DejaVuSans-6f" transform="translate(74.804688 0)"/>
<use href="#DejaVuSans-72" transform="translate(135.986328 0)"/>
<use href="#DejaVuSans-74" transform="translate(177.099609 0)"/>
<use href="#DejaVuSans-68" transform="translate(216.308594 0)"/>
<use href="#DejaVuSans-20" transform="translate(279.6875 0)"/>
<use href="#DejaVuSans-64" transform="translate(311.474609 0)"/>
<use href="#DejaVuSans-69" transform="translate(374.951172 0)"/>
<use href="#DejaVuSans-73" transform="translate(402.734375 0)"/>
<use href="#DejaVuSans-70" transform="translate(454.833984 0)"/>
<use href="#DejaVuSans-6c" transform="translate(518.310547 0)"/>
<use href="#DejaVuSans-61" transform="translate(546.09375 0)"/>
<use href="#DejaVuSans-63" transform="translate(607.373047 0)"/>
<use href="#DejaVuSans-65" transform="translate(662.353516 0)"/>
<use href="#DejaVuSans-6d" transform="translate(723.876953 0)"/>
<use href="#DejaVuSans-65" transform="translate(821.289062 0)"/>
<use href="#DejaVuSans-6e" transform="translate(882.8125 0)"/>
<use href="#DejaVuSans-74" transform="translate(946.191406 0)"/>
</g>
</g>
</g>
<g id="axes_3">
<g id="patch_12">
<path d="M 52.92 534.6
L 722.52 534.6
L 722.52 402.12
L 52.92 402.12
z
" style="fill: #ffffff"/>
</g>
<g id="matplotlib.axis_5">
<g id="xtick_23">
<g id="line2d_69">
<path d="M 83.16 534.6
L 83.16 402.12
" clip-path="url(#p3de17bb348)" style="fill: none; stroke: #b0b0b0; stroke-width: 0.8; stroke-linecap: square"/>
</g>
<g id="line2d_70">
<g>
<use href="#m1504cfccaf" x="83.16" y="534.6" style="stroke: #000000; stroke-width: 0.8"/>
</g>
</g>
<g id="text_16">
<g transform="translate(54.1022 549.1984) scale(0.09850 -0.09300)">
<defs>
<path id="DejaVuSans-2d" d="M 313 2009
L 1997 2009
L 1997 1497
L 313 1497
L 313 2009
z
" transform="scale(0.015625)"/>
<path id="DejaVuSans-31" d="M 794 531
L 1825 531
L 1825 4091
L 703 3866
L 703 4441
L 1819 4666
L 2450 4666
L 2450 531
L 3481 531
L 3481 0
L 794 0
L 794 531
z
" transform="scale(0.015625)"/>
<path id="DejaVuSans-33" d="M 2597 2516
Q 3050 2419 3304 2112
Q 3559 1806 3559 1356
Q 3559 666 3084 287
Q 2609 -91 1734 -91
Q 1441 -91 1130 -33
Q 819 25 488 141
L 488 750
Q 750 597 1062 519
Q 1375 441 1716 441
Q 2309 441 2620 675
Q 2931 909 2931 1356
Q 2931 1769 2642 2001
Q 2353 2234 1838 2234
L 1294 2234
L 1294 2753
L 1863 2753
Q 2328 2753 2575 2939
Q 2822 3125 2822 3475
Q 2822 3834 2567 4026
Q 2313 4219 1838 4219
Q 1578 4219 1281 4162
Q 984 4106 628 3988
L 628 4550
Q 988 4650 1302 4700
Q 1616 4750 1894 4750
Q 2613 4750 3031 4423
Q 3450 4097 3450 3541
Q 3450 3153 3228 2886
Q 3006 2619 2597 2516
z
" transform="scale(0.015625)"/>
</defs>
<use href="#DejaVuSans-32"/>
<use href="#DejaVuSans-30" transform="translate(63.623047 0)"/>
<use href="#DejaVuSans-32" transform="translate(127.246094 0)"/>
<use href="#DejaVuSans-34" transform="translate(190.869141 0)"/>
<use href="#DejaVuSans-2d" transform="translate(254.492188 0)"/>
<use href="#DejaVuSans-31" transform="translate(290.576172 0)"/>
<use href="#DejaVuSans-32" transform="translate(354.199219 0)"/>
<use href="#DejaVuSans-2d" transform="translate(417.822266 0)"/>
<use href="#DejaVuSans-30" transform="translate(453.90625 0)"/>
<use href="#DejaVuSans-33" transform="translate(517.529297 0)"/>
</g>
</g>
</g>
<g id="xtick_24">
<g id="line2d_71">
<path d="M 144.36 534.6
L 144.36 402.12
" clip-path="url(#p3de17bb348)" style="fill: none; stroke: #b0b0b0; stroke-width: 0.8; stroke-linecap: square"/>
</g>
<g id="line2d_72">
<g>
<use href="#m1504cfccaf" x="144.36" y="534.6" style="stroke: #000000; stroke-width: 0.8"/>
</g>
</g>
<g id="text_17">
<g transform="translate(115.3022 549.1984) scale(0.09850 -0.09300)">
<use href="#DejaVuSans-32"/>
<use href="#DejaVuSans-30" transform="translate(63.623047 0)"/>
<use href="#DejaVuSans-32" transform="translate(127.246094 0)"/>
<use href="#DejaVuSans-34" transform="translate(190.869141 0)"/>
<use href="#DejaVuSans-2d" transform="translate(254.492188 0)"/>
<use href="#DejaVuSans-31" transform="translate(290.576172 0)"/>
<use href="#DejaVuSans-32" transform="translate(354.199219 0)"/>
<use href="#DejaVuSans-2d" transform="translate(417.822266 0)"/>
<use href="#DejaVuSans-30" transform="translate(453.90625 0)"/>
<use href="#DejaVuSans-34" transform="translate(517.529297 0)"/>
</g>
</g>
</g>
<g id="xtick_25">
<g id="line2d_73">
<path d="M 206.28 534.6
L 206.28 402.12
" clip-path="url(#p3de17bb348)" style="fill: none; stroke: #b0b0b0; stroke-width: 0.8; stroke-linecap: square"/>
</g>
<g id="line2d_74">
<g>
<use href="#m1504cfccaf" x="206.28" y="534.6" style="stroke: #000000; stroke-width: 0.8"/>
</g>
</g>
<g id="text_18">
<g transform="translate(177.2222 549.1984) scale(0.09850 -0.09300)">
<defs>
<path id="DejaVuSans-35" d="M 691 4666
L 3169 4666
L 3169 4134
L 1269 4134
L 1269 2991
Q 1406 3038 1543 3061
Q 1681 3084 1819 3084
Q 2600 3084 3056 2656
Q 3513 2228 3513 1497
Q 3513 744 3044 326
Q 2575 -91 1722 -91
Q 1428 -91 1123 -41
Q 819 9 494 109
L 494 744
Q 775 591 1075 516
Q 1375 441 1709 441
Q 2250 441 2565 725
Q 2881 1009 2881 1497
Q 2881 1984 2565 2268
Q 2250 2553 1709 2553
Q 1456 2553 1204 2497
Q 953 2441 691 2322
L 691 4666
z
" transform="scale(0.015625)"/>
</defs>
<use href="#DejaVuSans-32"/>
<use href="#DejaVuSans-30" transform="translate(63.623047 0)"/>
<use href="#DejaVuSans-32" transform="translate(127.246094 0)"/>
<use href="#DejaVuSans-34" transform="translate(190.869141 0)"/>
<use href="#DejaVuSans-2d" transform="translate(254.492188 0)"/>
<use href="#DejaVuSans-31" transform="translate(290.576172 0)"/>
<use href="#DejaVuSans-32" transform="translate(354.199219 0)"/>
<use href="#DejaVuSans-2d" transform="translate(417.822266 0)"/>
<use href="#DejaVuSans-30" transform="translate(453.90625 0)"/>
<use href="#DejaVuSans-35" transform="translate(517.529297 0)"/>
</g>
</g>
</g>
<g id="xtick_26">
<g id="line2d_75">
<path d="M 267.48 534.6
L 267.48 402.12
" clip-path="url(#p3de17bb348)" style="fill: none; stroke: #b0b0b0; stroke-width: 0.8; stroke-linecap: square"/>
</g>
<g id="line2d_76">
<g>
<use href="#m1504cfccaf" x="267.48" y="534.6" style="stroke: #000000; stroke-width: 0.8"/>
</g>
</g>
<g id="text_19">
<g transform="translate(238.4222 549.1984) scale(0.09850 -0.09300)">
<use href="#DejaVuSans-32"/>
<use href="#DejaVuSans-30" transform="translate(63.623047 0)"/>
<use href="#DejaVuSans-32" transform="translate(127.246094 0)"/>
<use href="#DejaVuSans-34" transform="translate(190.869141 0)"/>
<use href="#DejaVuSans-2d" transform="translate(254.492188 0)"/>
<use href="#DejaVuSans-31" transform="translate(290.576172 0)"/>
<use href="#DejaVuSans-32" transform="translate(354.199219 0)"/>
<use href="#DejaVuSans-2d" transform="translate(417.822266 0)"/>
<use href="#DejaVuSans-30" transform="translate(453.90625 0)"/>
<use href="#DejaVuSans-36" transform="translate(517.529297 0)"/>
</g>
</g>
</g>
<g id="xtick_27">
<g id="line2d_77">
<path d="M 328.68 534.6
L 328.68 402.12
" clip-path="url(#p3de17bb348)" style="fill: none; stroke: #b0b0b0; stroke-width: 0.8; stroke-linecap: square"/>
</g>
<g id="line2d_78">
<g>
<use href="#m1504cfccaf" x="328.68" y="534.6" style="stroke: #000000; stroke-width: 0.8"/>
</g>
</g>
<g id="text_20">
<g transform="translate(299.6222 549.1984) scale(0.09850 -0.09300)">
<defs>
<path id="DejaVuSans-37" d="M 525 4666
L 3525 4666
L 3525 4397
L 1831 0
L 1172 0
L 2766 4134
L 525 4134
L 525 4666
z
" transform="scale(0.015625)"/>
</defs>
<use href="#DejaVuSans-32"/>
<use href="#DejaVuSans-30" transform="translate(63.623047 0)"/>
<use href="#DejaVuSans-32" transform="translate(127.246094 0)"/>
<use href="#DejaVuSans-34" transform="translate(190.869141 0)"/>
<use href="#DejaVuSans-2d" transform="translate(254.492188 0)"/>
<use href="#DejaVuSans-31" transform="translate(290.576172 0)"/>
<use href="#DejaVuSans-32" transform="translate(354.199219 0)"/>
<use href="#DejaVuSans-2d" transform="translate(417.822266 0)"/>
<use href="#DejaVuSans-30" transform="translate(453.90625 0)"/>
<use href="#DejaVuSans-37" transform="translate(517.529297 0)"/>
</g>
</g>
</g>
<g id="xtick_28">
<g id="line2d_79">
<path d="M 390.6 534.6
L 390.6 402.12
" clip-path="url(#p3de17bb348)" style="fill: none; stroke: #b0b0b0; stroke-width: 0.8; stroke-linecap: square"/>
</g>
<g id="line2d_80">
<g>
<use href="#m1504cfccaf" x="390.6" y="534.6" style="stroke: #000000; stroke-width: 0.8"/>
</g>
</g>
<g id="text_21">
<g transform="translate(361.5422 549.1984) scale(0.09850 -0.09300)">
<defs>
<path id="DejaVuSans-38" d="M 2034 2216
Q 1584 2216 1326 1975
Q 1069 1734 1069 1313
Q 1069 891 1326 650
Q 1584 409 2034 409
Q 2484 409 2743 651
Q 3003 894 3003 1313
Q 3003 1734 2745 1975
Q 2488 2216 2034 2216
z
M 1403 2484
Q 997 2584 770 2862
Q 544 3141 544 3541
Q 544 4100 942 4425
Q 1341 4750 2034 4750
Q 2731 4750 3128 4425
Q 3525 4100 3525 3541
Q 3525 3141 3298 2862
Q 3072 2584 2669 2484
Q 3125 2378 3379 2068
Q 3634 1759 3634 1313
Q 3634 634 3220 271
Q 2806 -91 2034 -91
Q 1263 -91 848 271
Q 434 634 434 1313
Q 434 1759 690 2068
Q 947 2378 1403 2484
z
M 1172 3481
Q 1172 3119 1398 2916
Q 1625 2713 2034 2713
Q 2441 2713 2670 2916
Q 2900 3119 2900 3481
Q 2900 3844 2670 4047
Q 2441 4250 2034 4250
Q 1625 4250 1398 4047
Q 1172 3844 1172 3481
z
" transform="scale(0.015625)"/>
</defs>
<use href="#DejaVuSans-32"/>
<use href="#DejaVuSans-30" transform="translate(63.623047 0)"/>
<use href="#DejaVuSans-32" transform="translate(127.246094 0)"/>
<use href="#DejaVuSans-34" transform="translate(190.869141 0)"/>
<use href="#DejaVuSans-2d" transform="translate(254.492188 0)"/>
<use href="#DejaVuSans-31" transform="translate(290.576172 0)"/>
<use href="#DejaVuSans-32" transform="translate(354.199219 0)"/>
<use href="#DejaVuSans-2d" transform="translate(417.822266 0)"/>
<use href="#DejaVuSans-30" transform="translate(453.90625 0)"/>
<use href="#DejaVuSans-38" transform="translate(517.529297 0)"/>
</g>
</g>
</g>
<g id="xtick_29">
<g id="line2d_81">
<path d="M 451.8 534.6
L 451.8 402.12
" clip-path="url(#p3de17bb348)" style="fill: none; stroke: #b0b0b0; stroke-width: 0.8; stroke-linecap: square"/>
</g>
<g id="line2d_82">
<g>
<use href="#m1504cfccaf" x="451.8" y="534.6" style="stroke: #000000; stroke-width: 0.8"/>
</g>
</g>
<g id="text_22">
<g transform="translate(422.7422 549.1984) scale(0.09850 -0.09300)">
<defs>
<path id="DejaVuSans-39" d="M 703 97
L 703 672
Q 941 559 1184 500
Q 1428 441 1663 441
Q 2288 441 2617 861
Q 2947 1281 2994 2138
Q 2813 1869 2534 1725
Q 2256 1581 1919 1581
Q 1219 1581 811 2004
Q 403 2428 403 3163
Q 403 3881 828 4315
Q 1253 4750 1959 4750
Q 2769 4750 3195 4129
Q 3622 3509 3622 2328
Q 3622 1225 3098 567
Q 2575 -91 1691 -91
Q 1453 -91 1209 -44
Q 966 3 703 97
z
M 1959 2075
Q 2384 2075 2632 2365
Q 2881 2656 2881 3163
Q 2881 3666 2632 3958
Q 2384 4250 1959 4250
Q 1534 4250 1286 3958
Q 1038 3666 1038 3163
Q 1038 2656 1286 2365
Q 1534 2075 1959 2075
z
" transform="scale(0.015625)"/>
</defs>
<use href="#DejaVuSans-32"/>
<use href="#DejaVuSans-30" transform="translate(63.623047 0)"/>
<use href="#DejaVuSans-32" transform="translate(127.246094 0)"/>
<use href="#DejaVuSans-34" transform="translate(190.869141 0)"/>
<use href="#DejaVuSans-2d" transform="translate(254.492188 0)"/>
<use href="#DejaVuSans-31" transform="translate(290.576172 0)"/>
<use href="#DejaVuSans-32" transform="translate(354.199219 0)"/>
<use href="#DejaVuSans-2d" transform="translate(417.822266 0)"/>
<use href="#DejaVuSans-30" transform="translate(453.90625 0)"/>
<use href="#DejaVuSans-39" transform="translate(517.529297 0)"/>
</g>
</g>
</g>
<g id="xtick_30">
<g id="line2d_83">
<path d="M 513 534.6
L 513 402.12
" clip-path="url(#p3de17bb348)" style="fill: none; stroke: #b0b0b0; stroke-width: 0.8; stroke-linecap: square"/>
</g>
<g id="line2d_84">
<g>
<use href="#m1504cfccaf" x="513" y="534.6" style="stroke: #000000; stroke-width: 0.8"/>
</g>
</g>
<g id="text_23">
<g transform="translate(483.9422 549.1984) scale(0.09850 -0.09300)">
<use href="#DejaVuSans-32"/>
<use href="#DejaVuSans-30" transform="translate(63.623047 0)"/>
<use href="#DejaVuSans-32" transform="translate(127.246094 0)"/>
<use href="#DejaVuSans-34" transform="translate(190.869141 0)"/>
<use href="#DejaVuSans-2d" transform="translate(254.492188 0)"/>
<use href="#DejaVuSans-31" transform="translate(290.576172 0)"/>
<use href="#DejaVuSans-32" transform="translate(354.199219 0)"/>
<use href="#DejaVuSans-2d" transform="translate(417.822266 0)"/>
<use href="#DejaVuSans-31" transform="translate(453.90625 0)"/>
<use href="#DejaVuSans-30" transform="translate(517.529297 0)"/>
</g>
</g>
</g>
<g id="xtick_31">
<g id="line2d_85">
<path d="M 574.92 534.6
L 574.92 402.12
" clip-path="url(#p3de17bb348)" style="fill: none; stroke: #b0b0b0; stroke-width: 0.8; stroke-linecap: square"/>
</g>
<g id="line2d_86">
<g>
<use href="#m1504cfccaf" x="574.92" y="534.6" style="stroke: #000000; stroke-width: 0.8"/>
</g>
</g>
<g id="text_24">
<g transform="translate(545.8622 549.1984) scale(0.09850 -0.09300)">
<use href="#DejaVuSans-32"/>
<use href="#DejaVuSans-30" transform="translate(63.623047 0)"/>
<use href="#DejaVuSans-32" transform="translate(127.246094 0)"/>
<use href="#DejaVuSans-34" transform="translate(190.869141 0)"/>
<use href="#DejaVuSans-2d" transform="translate(254.492188 0)"/>
<use href="#DejaVuSans-31" transform="translate(290.576172 0)"/>
<use href="#DejaVuSans-32" transform="translate(354.199219 0)"/>
<use href="#DejaVuSans-2d" transform="translate(417.822266 0)"/>
<use href="#DejaVuSans-31" transform="translate(453.90625 0)"/>
<use href="#DejaVuSans-31" transform="translate(517.529297 0)"/>
</g>
</g>
</g>
<g id="xtick_32">
<g id="line2d_87">
<path d="M 636.12 534.6
L 636.12 402.12
" clip-path="url(#p3de17bb348)" style="fill: none; stroke: #b0b0b0; stroke-width: 0.8; stroke-linecap: square"/>
</g>
<g id="line2d_88">
<g>
<use href="#m1504cfccaf" x="636.12" y="534.6" style="stroke: #000000; stroke-width: 0.8"/>
</g>
</g>
<g id="text_25">
<g transform="translate(607.0622 549.1984) scale(0.09850 -0.09300)">
<use href="#DejaVuSans-32"/>
<use href="#DejaVuSans-30" transform="translate(63.623047 0)"/>
<use href="#DejaVuSans-32" transform="translate(127.246094 0)"/>
<use href="#DejaVuSans-34" transform="translate(190.869141 0)"/>
<use href="#DejaVuSans-2d" transform="translate(254.492188 0)"/>
<use href="#DejaVuSans-31" transform="translate(290.576172 0)"/>
<use href="#DejaVuSans-32" transform="translate(354.199219 0)"/>
<use href="#DejaVuSans-2d" transform="translate(417.822266 0)"/>
<use href="#DejaVuSans-31" transform="translate(453.90625 0)"/>
<use href="#DejaVuSans-32" transform="translate(517.529297 0)"/>
</g>
</g>
</g>
<g id="xtick_33">
<g id="line2d_89">
<path d="M 697.32 534.6
L 697.32 402.12
" clip-path="url(#p3de17bb348)" style="fill: none; stroke: #b0b0b0; stroke-width: 0.8; stroke-linecap: square"/>
</g>
<g id="line2d_90">
<g>
<use href="#m1504cfccaf" x="697.32" y="534.6" style="stroke: #000000; stroke-width: 0.8"/>
</g>
</g>
<g id="text_26">
<g transform="translate(668.2622 549.1984) scale(0.09850 -0.09300)">
<use href="#DejaVuSans-32"/>
<use href="#DejaVuSans-30" transform="translate(63.623047 0)"/>
<use href="#DejaVuSans-32" transform="translate(127.246094 0)"/>
<use href="#DejaVuSans-34" transform="translate(190.869141 0)"/>
<use href="#DejaVuSans-2d" transform="translate(254.492188 0)"/>
<use href="#DejaVuSans-31" transform="translate(290.576172 0)"/>
<use href="#DejaVuSans-32" transform="translate(354.199219 0)"/>
<use href="#DejaVuSans-2d" transform="translate(417.822266 0)"/>
<use href="#DejaVuSans-31" transform="translate(453.90625 0)"/>
<use href="#DejaVuSans-33" transform="translate(517.529297 0)"/>
</g>
</g>
</g>
<g id="text_27">
<g transform="translate(359.2208 563.6686) scale(0.10000 -0.09700)">
<defs>
<path id="DejaVuSans-54" d="M -19 4666
L 3928 4666
L 3928 4134
L 2272 4134
L 2272 0
L 1638 0
L 1638 4134
L -19 4134
L -19 4666
z
" transform="scale(0.015625)"/>
<path id="DejaVuSans-28" d="M 1984 4856
Q 1566 4138 1362 3434
Q 1159 2731 1159 2009
Q 1159 1288 1364 580
Q 1569 -128 1984 -844
L 1484 -844
Q 1016 -109 783 600
Q 550 1309 550 2009
Q 550 2706 781 3412
Q 1013 4119 1484 4856
L 1984 4856
z
" transform="scale(0.015625)"/>
<path id="DejaVuSans-55" d="M 556 4666
L 1191 4666
L 1191 1831
Q 1191 1081 1462 751
Q 1734 422 2344 422
Q 2950 422 3222 751
Q 3494 1081 3494 1831
L 3494 4666
L 4128 4666
L 4128 1753
Q 4128 841 3676 375
Q 3225 -91 2344 -91
Q 1459 -91 1007 375
Q 556 841 556 1753
L 556 4666
z
" transform="scale(0.015625)"/>
<path id="DejaVuSans-43" d="M 4122 4306
L 4122 3641
Q 3803 3938 3442 4084
Q 3081 4231 2675 4231
Q 1875 4231 1450 3742
Q 1025 3253 1025 2328
Q 1025 1406 1450 917
Q 1875 428 2675 428
Q 3081 428 3442 575
Q 3803 722 4122 1019
L 4122 359
Q 3791 134 3420 21
Q 3050 -91 2638 -91
Q 1578 -91 968 557
Q 359 1206 359 2328
Q 359 3453 968 4101
Q 1578 4750 2638 4750
Q 3056 4750 3426 4639
Q 3797 4528 4122 4306
z
" transform="scale(0.015625)"/>
<path id="DejaVuSans-29" d="M 513 4856
L 1013 4856
Q 1481 4119 1714 3412
Q 1947 2706 1947 2009
Q 1947 1309 1714 600
Q 1481 -109 1013 -844
L 513 -844
Q 928 -128 1133 580
Q 1338 1288 1338 2009
Q 1338 2731 1133 3434
Q 928 4138 513 4856
z
" transform="scale(0.015625)"/>
</defs>
<use href="#DejaVuSans-54"/>
<use href="#DejaVuSans-69" transform="translate(57.958984 0)"/>
<use href="#DejaVuSans-6d" transform="translate(85.742188 0)"/>
<use href="#DejaVuSans-65" transform="translate(183.154297 0)"/>
<use href="#DejaVuSans-20" transform="translate(244.677734 0)"/>
<use href="#DejaVuSans-28" transform="translate(276.464844 0)"/>
<use href="#DejaVuSans-55" transform="translate(315.478516 0)"/>
<use href="#DejaVuSans-54" transform="translate(388.671875 0)"/>
<use href="#DejaVuSans-43" transform="translate(443.880859 0)"/>
<use href="#DejaVuSans-29" transform="translate(513.705078 0)"/>
</g>
</g>
</g>
<g id="matplotlib.axis_6">
<g id="ytick_12">
<g id="line2d_91">
<path d="M 52.92 508.68
L 722.52 508.68
" clip-path="url(#p3de17bb348)" style="fill: none; stroke: #b0b0b0; stroke-width: 0.8; stroke-linecap: square"/>
</g>
<g id="line2d_92">
<g>
<use href="#m5d545ce8f8" x="52.92" y="508.68" style="stroke: #000000; stroke-width: 0.8"/>
</g>
</g>
<g id="text_28">
<g transform="translate(39.5575 512.4792) scale(0.10000 -0.09300)">
<use href="#DejaVuSans-30"/>
</g>
</g>
</g>
<g id="ytick_13">
<g id="line2d_93">
<path d="M 52.92 474.84
L 722.52 474.84
" clip-path="url(#p3de17bb348)" style="fill: none; stroke: #b0b0b0; stroke-width: 0.8; stroke-linecap: square"/>
</g>
<g id="line2d_94">
<g>
<use href="#m5d545ce8f8" x="52.92" y="474.84" style="stroke: #000000; stroke-width: 0.8"/>
</g>
</g>
<g id="text_29">
<g transform="translate(39.5575 478.6392) scale(0.10000 -0.09300)">
<use href="#DejaVuSans-31"/>
</g>
</g>
</g>
<g id="ytick_14">
<g id="line2d_95">
<path d="M 52.92 440.28
L 722.52 440.28
" clip-path="url(#p3de17bb348)" style="fill: none; stroke: #b0b0b0; stroke-width: 0.8; stroke-linecap: square"/>
</g>
<g id="line2d_96">
<g>
<use href="#m5d545ce8f8" x="52.92" y="440.28" style="stroke: #000000; stroke-width: 0.8"/>
</g>
</g>
<g id="text_30">
<g transform="translate(39.5575 444.0792) scale(0.10000 -0.09300)">
<use href="#DejaVuSans-32"/>
</g>
</g>
</g>
<g id="ytick_15">
<g id="line2d_97">
<path d="M 52.92 406.44
L 722.52 406.44
" clip-path="url(#p3de17bb348)" style="fill: none; stroke: #b0b0b0; stroke-width: 0.8; stroke-linecap: square"/>
</g>
<g id="line2d_98">
<g>
<use href="#m5d545ce8f8" x="52.92" y="406.44" style="stroke: #000000; stroke-width: 0.8"/>
</g>
</g>
<g id="text_31">
<g transform="translate(39.5575 410.2392) scale(0.10000 -0.09300)">
<use href="#DejaVuSans-33"/>
</g>
</g>
</g>
<g id="text_32">
<g transform="translate(33.1898 482.0110) rotate(-90) scale(0.09600 -0.10000)">
<use href="#DejaVuSans-44"/>
<use href="#DejaVuSans-69" transform="translate(77.001953 0)"/>
<use href="#DejaVuSans-73" transform="translate(104.785156 0)"/>
<use href="#DejaVuSans-70" transform="translate(156.884766 0)"/>
<use href="#DejaVuSans-2e" transform="translate(220.361328 0)"/>
</g>
</g>
</g>
<g id="line2d_99">
<path d="M 83.088 506.124
L 83.448 505.296
L 83.808 506.8656
L 84.168 506.3832
L 84.4272 507.5208
L 84.4632 506.7288
L 84.888 508.7232
L 85.248 507.7584
L 85.608 508.9824
L 86.328 508.6656
L 86.7888 508.788
L 86.8248 509.5872
L 87.048 508.8312
L 87.408 509.8176
L 87.768 509.3136
L 88.128 510.48
L 88.5528 510.264
L 88.5888 511.056
L 88.848 509.8824
L 89.208 512.0496
L 89.568 511.9992
L 89.928 513.8928
L 90.288 513.6624
L 90.648 514.8216
L 90.9072 513.4968
L 90.9432 516.06
L 91.368 514.3248
L 91.728 514.8936
L 92.088 513.8424
L 92.448 513.6408
L 92.6712 512.028
L 92.7072 512.82
L 93.168 512.6832
L 93.528 512.8056
L 93.888 512.1144
L 94.248 512.4528
L 94.608 511.956
L 95.0256 511.6464
L 95.0616 510.8544
L 95.328 510.3864
L 95.688 509.0832
L 96.048 508.824
L 96.408 507.3192
L 96.7968 507.816
L 96.8328 507.024
L 97.128 506.9304
L 97.488 506.2392
L 97.848 507.0528
L 98.208 506.5344
L 98.568 506.9736
L 98.928 506.556
L 99.1512 507.816
L 99.1872 507.024
L 100.008 506.196
L 100.368 506.016
L 100.728 505.0944
L 100.9152 505.6056
L 100.9512 504.8136
L 101.448 506.0376
L 101.808 505.8432
L 102.168 506.7288
L 102.6792 506.88
L 102.7152 507.672
L 102.888 506.3976
L 103.248 507.384
L 103.608 506.0016
L 103.968 506.9664
L 104.4504 506.1384
L 104.4864 507.2328
L 104.688 506.2392
L 105.048 506.844
L 105.408 507.1176
L 105.768 508.8168
L 106.2144 507.6072
L 106.2504 508.4064
L 106.848 507.744
L 107.208 506.2176
L 107.568 507.24
L 107.928 506.2104
L 108.288 506.3328
L 108.648 505.2744
L 109.1592 504.7272
L 109.1952 503.9352
L 109.368 504.756
L 109.728 504.252
L 110.088 505.548
L 110.448 505.3032
L 110.9232 506.9304
L 110.9592 506.1384
L 111.168 507.024
L 111.528 506.5344
L 111.888 507.1104
L 112.392 507.6072
L 112.428 508.4064
L 112.608 508.6152
L 112.968 510.5016
L 113.328 511.452
L 113.868 514.584
L 113.904 513.792
L 114.048 514.404
L 114.408 513.576
L 114.768 514.4616
L 115.128 513.7056
L 115.632 515.6136
L 115.668 514.8216
L 115.848 514.2024
L 116.208 512.2872
L 116.568 512.0136
L 116.928 510.732
L 117.396 510.1776
L 117.432 509.3784
L 117.648 510.6888
L 118.008 509.4288
L 118.368 509.2416
L 118.728 507.2472
L 119.1672 507.9672
L 119.2032 507.1752
L 119.448 508.5432
L 119.808 507.8808
L 120.168 507.9168
L 120.528 507.6504
L 120.888 508.9464
L 121.248 507.9384
L 121.5216 507.5208
L 121.5576 506.7288
L 121.968 508.3344
L 122.328 506.9232
L 122.688 507.8088
L 123.048 506.8296
L 123.3792 508.2984
L 123.4152 507.5064
L 123.768 507.6864
L 124.128 508.3488
L 124.488 509.5728
L 124.848 508.716
L 125.208 509.652
L 125.6328 509.4936
L 125.6688 510.2856
L 125.928 509.6592
L 126.288 510.336
L 126.648 509.8104
L 127.008 510.7824
L 127.368 509.7168
L 127.728 510.3216
L 128.1312 510.6888
L 128.1672 511.4808
L 128.448 510.732
L 128.808 511.2648
L 129.168 510.4368
L 129.528 511.524
L 129.888 510.2064
L 130.248 510.336
L 130.608 509.8536
L 130.968 510.4512
L 131.328 509.8824
L 131.688 510.4224
L 131.9472 510.2136
L 131.9832 511.0056
L 132.408 510.732
L 132.768 511.1424
L 133.128 510.8688
L 133.488 510.9696
L 133.848 510.2352
L 134.208 511.3656
L 134.568 510.2928
L 134.928 511.272
L 135.288 510.8904
L 135.7704 511.7184
L 135.8064 510.9264
L 136.008 511.704
L 136.368 509.796
L 136.728 510.7464
L 137.088 509.1192
L 137.448 508.824
L 137.6784 508.0608
L 137.7144 508.8528
L 138.168 507.3984
L 138.528 507.5928
L 138.888 507.2976
L 139.248 507.3624
L 139.608 506.6208
L 139.968 507.4704
L 140.328 506.304
L 140.544 507.42
L 140.58 506.628
L 141.048 507.0312
L 141.408 506.5272
L 141.768 506.7432
L 142.128 505.44
L 142.488 506.2968
L 142.848 505.6488
L 143.208 506.808
L 143.4096 506.1528
L 143.4456 506.9448
L 143.928 506.6928
L 144.288 506.6856
L 144.648 506.0448
L 145.008 507.9096
L 145.368 506.5272
L 145.728 507.168
L 146.088 505.7064
L 146.448 506.9376
L 146.7504 507.1104
L 146.7864 507.9024
L 147.168 507.204
L 147.528 507.8304
L 147.888 508.0104
L 148.1832 510.048
L 148.2192 509.256
L 148.608 510.5448
L 148.968 509.8608
L 149.328 509.796
L 149.688 509.9112
L 150.048 511.452
L 150.408 510.3792
L 150.768 512.5104
L 151.128 511.0344
L 151.488 511.7832
L 151.9992 511.6824
L 152.0352 512.8776
L 152.208 511.4592
L 152.568 511.9704
L 152.928 511.2504
L 153.288 512.4096
L 153.648 511.2
L 154.008 511.4664
L 154.368 511.1496
L 154.728 511.5744
L 155.088 510.8544
L 155.448 511.2
L 155.8224 510.4512
L 155.8584 511.2432
L 156.168 509.8464
L 156.528 509.8896
L 156.888 509.6664
L 157.248 509.2992
L 157.608 508.7664
L 157.968 508.9896
L 158.328 507.6936
L 158.688 509.0544
L 158.724 507.8592
L 159.048 507.6504
L 159.408 506.304
L 159.768 507.0024
L 160.128 506.9088
L 160.488 507.2472
L 160.848 506.7864
L 161.208 507.924
L 161.5536 506.3904
L 161.5896 507.1824
L 161.928 506.7936
L 162.288 507.1824
L 162.648 505.3896
L 163.008 506.6064
L 163.368 504.612
L 163.728 504.7416
L 164.088 504.252
L 164.448 504.6336
L 164.8944 504.0432
L 164.9304 505.2384
L 165.168 503.9136
L 165.528 504.9864
L 165.888 504.0144
L 166.248 506.1528
L 166.608 505.8432
L 166.968 506.3328
L 167.328 506.4624
L 167.688 506.8368
L 168.048 506.7216
L 168.2352 506.9448
L 168.2712 506.1528
L 168.768 508.0536
L 169.128 506.9808
L 169.488 507.4344
L 169.848 507.3336
L 170.208 508.2408
L 170.568 508.6368
L 171.1008 509.5728
L 171.1368 508.7808
L 171.288 510.8688
L 171.648 510.8544
L 172.008 512.8344
L 172.5336 514.0296
L 172.5696 514.8216
L 172.728 514.2096
L 173.088 514.5696
L 173.448 514.0296
L 173.808 514.2312
L 174.168 513.2664
L 174.4416 513.8712
L 174.4776 513.0792
L 174.888 514.0728
L 175.248 514.1952
L 175.608 514.6344
L 175.968 514.26
L 176.328 515.2968
L 176.688 514.4184
L 177.048 515.052
L 177.7824 514.584
L 177.8184 513.792
L 178.128 514.3968
L 178.488 512.9064
L 178.848 512.4168
L 179.208 510.6456
L 179.6976 510.048
L 179.7336 509.256
L 179.928 510.6024
L 180.648 509.8104
L 181.008 508.4568
L 181.368 508.428
L 181.728 507.924
L 182.088 508.4496
L 182.556 508.3056
L 182.592 509.0976
L 182.808 507.8664
L 183.168 509.3928
L 183.528 509.5008
L 183.888 509.4072
L 184.248 509.1408
L 184.608 510.0336
L 184.968 509.3136
L 185.328 509.6016
L 185.688 509.184
L 186.048 510.3504
L 186.3792 509.4936
L 186.4152 510.2856
L 186.768 509.9472
L 187.128 511.1352
L 187.488 509.2632
L 187.848 509.9688
L 188.208 509.6448
L 188.568 510.3504
L 188.928 509.652
L 189.2448 510.2856
L 189.2808 509.4936
L 189.648 509.688
L 190.008 509.3424
L 190.368 510.12
L 190.728 509.7024
L 191.088 510.7464
L 191.448 509.6664
L 191.808 511.6176
L 192.168 510.5448
L 192.528 511.4376
L 193.0608 510.9264
L 193.0968 511.7184
L 193.248 510.7248
L 193.608 511.7832
L 193.968 511.8984
L 194.328 512.8488
L 194.688 512.5392
L 195.048 513.4032
L 195.408 513.5256
L 195.768 514.1952
L 196.128 513
L 196.488 514.296
L 196.884 513.3168
L 196.92 514.1088
L 197.208 513.6984
L 197.568 513.972
L 197.928 512.3088
L 198.288 512.064
L 198.792 509.7312
L 198.828 510.5232
L 199.008 510.6528
L 199.368 510.5952
L 199.728 509.7096
L 200.088 510.2856
L 200.448 509.3712
L 200.808 509.364
L 201.168 508.4352
L 201.6576 508.14
L 201.6936 507.348
L 201.888 508.2408
L 202.248 508.1472
L 202.608 508.5432
L 202.968 508.0176
L 203.328 508.2408
L 203.688 508.0536
L 204.048 508.8816
L 204.408 507.2472
L 204.768 506.9376
L 205.128 506.304
L 205.4736 507.1824
L 205.5096 506.3904
L 205.848 506.9088
L 206.208 506.3184
L 206.568 507.6432
L 206.928 507.3552
L 207.288 507.888
L 207.648 507.6936
L 208.008 510.3144
L 208.368 508.608
L 208.728 509.1192
L 209.088 509.2776
L 209.2968 510.9696
L 209.3328 509.292
L 209.808 510.1128
L 210.168 509.5872
L 210.528 511.236
L 210.888 509.868
L 211.248 510.5232
L 211.608 509.94
L 211.968 511.128
L 212.328 511.4736
L 213.1128 511.2
L 213.1488 512.4024
L 213.408 511.6032
L 213.768 512.0496
L 214.128 511.5816
L 214.488 512.0352
L 214.848 512.064
L 215.208 512.8488
L 215.568 512.172
L 216.288 512.892
L 216.7056 513.8352
L 216.7416 512.3952
L 217.008 512.4888
L 217.368 511.2216
L 217.728 511.632
L 218.088 511.0272
L 218.448 511.776
L 218.808 511.2864
L 219.168 511.4304
L 219.5712 509.976
L 219.6072 510.768
L 220.248 510.8328
L 220.608 509.7672
L 220.968 509.8896
L 221.328 508.7448
L 221.688 509.1336
L 222.048 507.8448
L 222.408 509.0472
L 222.768 507.6216
L 223.164 507.1464
L 223.2 505.9512
L 223.488 507.6432
L 223.848 507.5136
L 224.208 508.1976
L 224.568 507.6288
L 225.072 508.5792
L 225.108 507.384
L 225.288 508.6584
L 225.648 506.2896
L 226.008 507.3336
L 226.5048 504.9936
L 226.5408 506.6712
L 226.728 506.2608
L 227.448 507.8808
L 227.808 510.4584
L 228.168 510.6816
L 228.528 511.7112
L 228.888 511.164
L 228.924 511.956
L 229.248 511.3296
L 229.608 511.74
L 229.968 509.9112
L 230.328 510.7392
L 230.688 508.8168
L 231.048 508.4856
L 231.408 507.5496
L 231.7536 508.6152
L 231.7896 507.8232
L 232.488 506.8728
L 232.848 508.0464
L 233.208 507.5496
L 233.568 508.3776
L 233.928 508.0536
L 234.288 508.7304
L 234.648 508.3416
L 235.1016 508.6152
L 235.1376 507.8232
L 235.368 509.6952
L 236.808 511.9992
L 237.528 514.2384
L 237.888 514.4832
L 238.248 515.8008
L 238.4424 514.9872
L 238.4784 515.7792
L 238.968 514.7064
L 239.328 514.4184
L 239.688 512.3088
L 240.408 511.1496
L 240.768 511.4952
L 241.308 509.292
L 241.344 510.4872
L 241.488 509.868
L 241.848 510.1632
L 242.208 508.3488
L 242.568 507.9816
L 242.928 506.6568
L 243.288 506.6352
L 243.648 505.944
L 244.1664 505.7496
L 244.2024 504.9576
L 244.368 505.3104
L 244.728 505.0512
L 245.088 506.88
L 245.448 507.3264
L 245.808 508.2336
L 246.168 507.8232
L 246.528 509.112
L 247.032 509.7312
L 247.068 510.5232
L 247.248 509.1192
L 247.608 510.2136
L 247.968 509.7312
L 248.328 510.7176
L 248.688 510.5952
L 249.4224 511.4088
L 249.4584 512.2008
L 249.768 511.1712
L 250.128 512.604
L 250.488 511.3224
L 250.848 511.7328
L 251.208 511.7688
L 251.568 511.3656
L 251.928 511.1424
L 252.288 511.668
L 252.648 511.4736
L 253.008 511.6248
L 253.2384 510.4512
L 253.2744 511.2432
L 253.728 511.2216
L 254.088 511.8552
L 254.448 511.2432
L 254.808 511.1352
L 255.168 510.5016
L 255.528 511.1208
L 255.888 511.2936
L 256.248 511.2576
L 256.608 511.0272
L 256.968 511.4232
L 257.328 510.7896
L 257.688 512.0496
L 258.0192 510.9264
L 258.0552 511.7184
L 258.408 510.192
L 258.768 510.3792
L 259.128 509.292
L 259.488 509.76
L 259.848 508.5864
L 260.208 508.356
L 260.568 507.024
L 260.928 507.348
L 261.36 505.44
L 261.396 506.232
L 261.648 505.692
L 262.008 505.7712
L 262.368 504.9864
L 262.728 506.7576
L 263.088 505.0296
L 263.448 507.0528
L 263.808 505.1304
L 264.168 507.0816
L 264.7008 506.3904
L 264.7368 507.1824
L 264.888 506.2968
L 265.248 506.844
L 265.608 506.8512
L 265.968 507.1896
L 266.328 506.9952
L 266.688 507.3552
L 267.048 506.6064
L 267.408 506.4408
L 267.768 505.9584
L 268.0416 506.7072
L 268.0776 505.9152
L 268.488 507.672
L 268.848 507.7296
L 269.208 509.4792
L 269.568 509.7024
L 269.928 510.5304
L 270.288 510.1128
L 270.648 511.524
L 270.9072 510.7248
L 270.9432 511.92
L 271.368 511.8264
L 271.728 512.8056
L 272.088 512.9928
L 272.448 514.8504
L 272.808 514.3176
L 273.168 514.9512
L 273.528 514.8648
L 273.888 518.8752
L 274.248 516.456
L 274.284 519.084
L 274.608 515.844
L 274.968 516.3336
L 275.328 515.0808
L 275.688 514.8432
L 276.048 513.3024
L 276.408 513.9936
L 276.768 511.8696
L 277.1136 512.4024
L 277.1496 511.2
L 277.488 512.2152
L 277.848 511.3512
L 278.208 512.2728
L 278.568 512.1216
L 278.928 512.4816
L 279.288 511.7616
L 279.648 513.1944
L 279.9792 512.1216
L 280.0152 512.9136
L 280.368 510.6168
L 280.728 511.5816
L 281.088 510.3
L 281.448 510.948
L 281.808 509.8464
L 282.168 509.7888
L 282.528 508.5936
L 282.8448 509.0976
L 282.8808 508.3056
L 283.248 508.4496
L 283.608 507.7008
L 283.968 508.6224
L 284.328 508.0968
L 284.688 508.0896
L 285.048 507.2616
L 285.408 507.348
L 285.768 507.0816
L 286.128 507.3552
L 286.6608 505.9512
L 286.6968 507.1464
L 286.848 506.1096
L 287.208 507.0816
L 287.568 506.1672
L 287.928 506.8872
L 288.288 506.2248
L 288.648 507.0888
L 289.008 506.5704
L 289.368 507.4848
L 289.728 507.4128
L 290.088 508.4712
L 290.484 507.8232
L 290.52 508.6152
L 290.808 507.5712
L 291.168 507.816
L 291.528 507.1968
L 291.888 507.8736
L 292.392 507.8592
L 292.428 509.0544
L 292.608 508.1904
L 292.968 510.2208
L 293.328 510.5376
L 293.688 511.6896
L 294.048 511.0056
L 294.408 511.6536
L 294.768 511.6752
L 295.2576 512.9136
L 295.2936 512.1216
L 295.488 512.568
L 295.848 512.4672
L 296.208 512.7264
L 296.568 511.56
L 296.928 512.9424
L 297.288 511.8408
L 297.648 513.612
L 298.008 512.928
L 298.368 513.3168
L 298.728 512.6616
L 299.088 513.8712
L 299.556 514.0296
L 299.592 514.8216
L 299.808 513.2016
L 300.168 513.2592
L 300.528 512.1288
L 300.888 512.208
L 301.248 510.8256
L 301.608 511.2216
L 301.9392 509.4936
L 301.9752 510.2856
L 302.688 509.2776
L 303.048 509.0184
L 303.408 509.9256
L 303.768 508.6008
L 304.128 508.2264
L 304.488 507.2616
L 304.848 507.4992
L 305.568 507.6
L 305.928 506.5056
L 306.2376 507.1824
L 306.2736 506.3904
L 306.648 507.8304
L 307.008 506.6568
L 307.368 507.1104
L 307.728 506.988
L 308.088 508.2192
L 308.448 508.4784
L 308.808 509.6952
L 309.168 509.4864
L 309.528 510.1416
L 309.888 510.5304
L 310.3056 511.2432
L 310.3416 510.4512
L 310.608 511.128
L 310.968 510.5952
L 311.328 511.1352
L 311.688 510.7104
L 312.048 511.4304
L 312.408 510.3432
L 312.768 511.2432
L 313.1712 509.976
L 313.2072 510.768
L 313.488 510.4008
L 313.848 510.6384
L 314.208 509.8248
L 314.568 510.2928
L 314.928 509.6088
L 315.648 509.4
L 316.008 509.8608
L 316.368 508.9536
L 316.728 509.796
L 317.2392 507.8232
L 317.2752 508.6152
L 317.448 508.4424
L 317.808 508.5504
L 318.168 507.708
L 318.528 507.888
L 318.888 507.2544
L 319.248 507.1536
L 319.608 505.9224
L 319.968 506.34
L 320.328 505.044
L 320.58 505.7136
L 320.616 504.0432
L 321.048 506.2248
L 321.408 505.6344
L 321.768 507.1464
L 322.128 506.6424
L 322.488 507.852
L 322.848 507.6936
L 323.208 508.7664
L 323.4456 507.1104
L 323.4816 507.9024
L 323.928 507.5424
L 324.288 508.572
L 324.648 507.7368
L 325.008 507.7296
L 325.368 507.024
L 325.728 508.14
L 326.448 507.4776
L 326.7864 507.5856
L 326.8224 508.3776
L 327.168 506.6352
L 327.528 507.3624
L 327.888 505.6416
L 328.248 506.0664
L 328.608 504.828
L 328.968 504.8856
L 329.1768 504.5184
L 329.2128 505.7136
L 329.688 504.8568
L 330.048 506.8656
L 330.408 506.8512
L 330.768 507.276
L 331.128 507.4416
L 331.488 508.6152
L 331.848 508.2624
L 332.208 509.3424
L 332.5176 508.8168
L 332.5536 510.012
L 332.928 509.544
L 333.288 509.5872
L 333.648 510.2208
L 334.008 511.6176
L 334.368 511.7472
L 334.728 512.5536
L 335.088 511.6392
L 335.448 513
L 335.808 511.9704
L 336.3408 513.1512
L 336.3768 512.3592
L 336.528 513.3816
L 336.888 513.0288
L 337.248 514.0224
L 337.608 513.54
L 337.968 514.0944
L 338.328 513.7416
L 338.688 514.4616
L 339.048 513.8712
L 339.408 514.3536
L 339.768 513.396
L 340.1568 513.6264
L 340.1928 512.8344
L 340.488 512.8344
L 340.848 510.7608
L 341.208 510.8544
L 341.568 509.904
L 341.928 509.8464
L 343.0224 506.8728
L 343.0584 507.6648
L 343.368 506.8512
L 343.728 507.1464
L 344.088 506.556
L 344.448 507.06
L 345.168 507.5856
L 345.888 506.6712
L 345.924 505.476
L 346.248 507.1536
L 346.608 505.1736
L 346.968 506.5272
L 347.328 505.1592
L 347.688 505.5264
L 348.048 505.4616
L 348.408 506.0736
L 348.768 505.5336
L 349.2288 505.7496
L 349.2648 504.9576
L 349.488 506.628
L 349.848 506.1888
L 350.568 506.9952
L 350.928 508.2192
L 351.288 508.6368
L 351.6192 509.8104
L 351.6552 509.0184
L 352.008 509.5512
L 352.368 508.4928
L 352.728 508.3128
L 353.448 507.4128
L 353.808 505.5552
L 354.0024 506.6712
L 354.0384 505.476
L 354.528 506.4048
L 354.888 505.8432
L 355.248 507.2184
L 355.608 506.7432
L 355.968 507.3336
L 356.328 507.1824
L 356.688 507.6288
L 357.048 507.8592
L 357.3432 509.3352
L 357.3792 508.5432
L 357.768 509.1912
L 358.128 509.328
L 358.488 511.1856
L 359.208 512.5248
L 359.568 512.2728
L 359.928 514.0584
L 360.288 514.0584
L 360.684 515.0592
L 360.72 514.2672
L 361.008 513.9216
L 361.368 513.1368
L 361.728 513.612
L 362.088 512.0928
L 362.448 512.2944
L 363.168 511.092
L 363.528 510.588
L 364.032 511.0056
L 364.068 510.2136
L 364.248 510.2856
L 364.608 509.3424
L 364.968 509.2776
L 365.328 509.0616
L 365.688 509.0688
L 366.048 508.9248
L 366.408 509.5584
L 366.768 508.0896
L 367.128 508.6584
L 367.488 507.6864
L 367.848 508.3776
L 367.884 507.5856
L 368.208 508.0896
L 368.568 507.6936
L 368.928 508.3272
L 369.288 507.2328
L 369.756 508.104
L 369.792 506.9088
L 370.008 508.572
L 370.368 507.4344
L 370.728 509.3856
L 371.088 508.9608
L 371.448 509.2848
L 371.808 508.6008
L 372.168 510.2496
L 372.6216 509.7744
L 372.6576 510.9696
L 372.888 509.6592
L 373.248 510.192
L 373.608 510.0336
L 373.968 511.3728
L 374.328 509.976
L 374.688 511.0056
L 375.048 510.0408
L 375.408 510.1488
L 375.768 509.724
L 376.128 510.3144
L 376.4448 509.256
L 376.4808 510.048
L 376.848 510.5232
L 377.208 511.5528
L 377.568 510.9912
L 377.928 511.488
L 378.288 511.1136
L 378.648 511.8912
L 379.008 510.5304
L 379.368 511.452
L 379.728 510.7608
L 380.088 512.2944
L 380.448 511.8768
L 380.7432 512.676
L 380.7792 511.884
L 381.168 512.0352
L 381.528 510.4368
L 381.888 510.2712
L 382.248 509.3136
L 382.608 509.8536
L 382.968 509.3784
L 383.328 509.5368
L 383.688 508.5288
L 384.084 508.14
L 384.12 507.348
L 384.408 508.2336
L 384.768 506.7936
L 385.128 507.4128
L 385.488 506.088
L 385.848 506.592
L 386.208 506.4624
L 386.568 506.6928
L 386.9496 506.3904
L 386.9856 507.1824
L 387.288 505.7568
L 387.648 506.3184
L 388.008 506.0088
L 388.368 506.8728
L 388.728 506.8872
L 389.088 507.5856
L 389.448 506.304
L 389.808 507.6288
L 390.168 508.1544
L 390.528 508.032
L 390.7656 508.3056
L 390.8016 509.0976
L 391.248 509.0976
L 391.608 510.2856
L 391.968 510.192
L 392.328 511.3152
L 392.688 510.8976
L 393.048 510.8472
L 393.408 511.2576
L 393.6312 511.7184
L 393.6672 510.9264
L 394.128 511.8768
L 394.488 511.6896
L 394.848 513.2808
L 395.208 512.8344
L 395.568 513.648
L 395.928 513.7128
L 396.288 514.0512
L 396.648 513.9216
L 396.972 515.268
L 397.008 513.5904
L 397.368 514.728
L 397.728 513.7416
L 398.088 513.6696
L 398.448 511.8336
L 398.808 512.0424
L 399.168 511.56
L 399.528 512.4888
L 399.888 511.884
L 400.3128 511.956
L 400.3488 511.164
L 400.608 511.8912
L 400.968 510.228
L 401.688 508.752
L 402.048 508.5648
L 402.408 507.6432
L 402.768 508.3992
L 403.128 506.4912
L 403.4304 508.104
L 403.4664 506.4264
L 403.848 506.7432
L 404.208 506.6856
L 404.568 506.4336
L 404.928 506.3184
L 405.3384 505.476
L 405.3744 504.5184
L 405.648 505.656
L 406.008 505.6344
L 406.5264 505.9872
L 406.5624 505.1952
L 406.728 506.1384
L 407.088 505.9152
L 407.448 507.3984
L 407.9736 507.348
L 408.0096 508.14
L 408.168 506.808
L 408.528 506.6424
L 408.888 505.6776
L 409.248 506.0232
L 409.608 504.8928
L 409.968 504.7848
L 410.328 503.604
L 410.688 503.7768
L 411.048 502.9848
L 411.3144 504.2808
L 411.3504 503.0856
L 411.768 503.2656
L 412.128 502.9704
L 412.488 505.0944
L 412.848 505.476
L 413.208 506.0808
L 413.568 505.4184
L 413.928 506.6208
L 414.288 506.016
L 414.6624 507.1464
L 414.6984 505.476
L 415.008 508.5072
L 415.368 507.204
L 415.728 510.6096
L 416.088 510.1056
L 416.448 512.0784
L 416.808 512.3664
L 417.168 513.9792
L 417.5208 513.1152
L 417.5568 514.3104
L 417.888 514.188
L 418.248 514.8864
L 418.608 513.792
L 418.968 514.4256
L 419.328 513.324
L 419.688 514.6704
L 419.9112 513.0792
L 419.9472 513.8712
L 420.408 514.4472
L 420.768 515.4552
L 421.128 515.6712
L 421.488 517.068
L 421.848 516.7656
L 422.3016 517.176
L 422.3376 515.9808
L 422.568 517.4136
L 422.928 515.628
L 423.288 515.2032
L 423.648 513.324
L 424.008 512.2944
L 424.2096 511.164
L 424.2456 511.956
L 424.728 510.1416
L 425.088 510.3216
L 425.448 509.9112
L 425.808 511.0056
L 426.168 509.9328
L 426.5928 510.048
L 426.6288 509.256
L 426.888 509.58
L 427.248 508.3776
L 427.608 507.9744
L 427.968 506.6208
L 428.328 506.4912
L 428.688 506.0232
L 428.9832 506.196
L 429.0192 504.9936
L 429.408 506.9952
L 429.768 506.4552
L 430.128 507.8664
L 430.488 507.5424
L 430.848 508.5504
L 431.208 507.9816
L 431.568 508.9968
L 431.928 509.3784
L 432.324 509.3352
L 432.36 508.5432
L 432.648 509.5872
L 433.008 509.148
L 433.368 509.9256
L 433.728 509.6376
L 434.088 510.2352
L 434.448 509.8968
L 434.808 510.8328
L 435.168 510.192
L 435.6648 509.8104
L 435.7008 509.0184
L 435.888 509.94
L 436.248 510.1704
L 436.608 510.0408
L 436.968 509.3352
L 437.328 510.0912
L 437.688 510.0408
L 438.048 510.4656
L 438.408 509.1984
L 438.768 510.0984
L 439.0056 509.0184
L 439.0416 509.8104
L 439.488 509.8608
L 439.848 511.2792
L 440.208 511.3368
L 440.568 511.5888
L 440.928 511.02
L 441.396 512.4384
L 441.432 511.6464
L 441.648 511.38
L 442.008 510.2208
L 442.368 510.192
L 442.728 508.5144
L 443.088 508.7592
L 443.448 507.2688
L 443.7864 507.6648
L 443.8224 506.8728
L 444.168 507.1968
L 444.528 506.3544
L 444.888 506.9808
L 445.248 506.9232
L 445.608 507.96
L 445.968 508.0536
L 446.328 508.6296
L 446.688 506.3832
L 447.1272 508.6152
L 447.1632 507.8232
L 447.408 508.932
L 447.768 508.0608
L 448.128 507.9888
L 448.488 507.7944
L 448.848 508.9248
L 449.208 508.428
L 449.568 510.1848
L 449.928 507.9168
L 450.468 510.012
L 450.504 508.3416
L 450.648 510.0264
L 451.008 509.5944
L 451.368 510.4656
L 451.728 510.2784
L 452.088 511.0848
L 452.448 510.1848
L 452.808 510.7392
L 453.168 510.048
L 453.528 510.6816
L 453.8088 509.292
L 453.8448 510.9696
L 454.248 510.12
L 454.608 510.5376
L 454.968 509.7168
L 455.328 509.7024
L 455.688 508.5792
L 456.048 509.2776
L 456.408 507.2544
L 456.768 507.8448
L 457.128 507.672
L 457.632 507.6288
L 457.668 505.9512
L 457.848 508.0248
L 458.208 507.5712
L 458.568 507.8304
L 458.928 507.6072
L 459.288 509.5368
L 459.648 508.968
L 460.008 509.3496
L 460.728 510.5016
L 461.088 510.0048
L 461.448 511.7184
L 461.484 510.9264
L 461.808 511.272
L 462.168 510.4296
L 462.528 510.4944
L 462.888 509.5368
L 463.248 510.0912
L 463.608 509.3136
L 463.968 509.8248
L 464.328 508.896
L 464.688 508.9896
L 465.048 508.3632
L 465.2712 509.3352
L 465.3072 508.5432
L 465.768 508.4496
L 466.128 507.7944
L 466.488 508.8816
L 466.848 508.176
L 467.208 508.896
L 467.568 508.2048
L 467.928 508.0248
L 468.288 506.592
L 468.648 507.1176
L 469.0872 506.8728
L 469.1232 507.6648
L 469.368 506.736
L 469.728 507.2616
L 470.088 506.484
L 470.448 507.2544
L 471.168 506.6784
L 471.4776 504.9936
L 471.5136 506.196
L 471.888 506.4624
L 472.248 507.7008
L 472.608 507.3984
L 472.968 508.9536
L 473.328 508.5648
L 473.8608 509.3352
L 473.8968 508.5432
L 474.048 509.8896
L 474.408 508.2264
L 474.768 509.0256
L 475.128 508.5432
L 475.488 508.6944
L 475.848 508.0104
L 476.208 508.7808
L 476.7264 508.5432
L 476.7624 509.3352
L 476.928 508.2624
L 477.288 509.6304
L 477.648 509.1624
L 478.008 510.9696
L 478.368 509.652
L 478.728 510.6024
L 479.088 511.0776
L 479.592 511.956
L 479.628 511.164
L 479.808 512.136
L 480.528 513
L 480.888 512.5104
L 481.248 513.9936
L 481.608 514.0872
L 481.968 514.7424
L 482.4576 515.2248
L 482.4936 516.0168
L 482.688 514.6848
L 483.048 515.0088
L 483.408 514.3176
L 483.768 514.5408
L 484.848 512.676
L 485.3232 512.9136
L 485.3592 512.1216
L 485.568 512.3304
L 486.288 510.7968
L 486.648 509.8896
L 487.008 510.3504
L 487.2312 509.256
L 487.2672 510.048
L 488.088 508.788
L 488.448 506.6496
L 488.808 507.2256
L 489.168 506.1312
L 489.6216 507.1464
L 489.6576 505.9512
L 489.888 506.1528
L 490.248 505.9872
L 490.608 506.7288
L 490.968 506.3256
L 491.328 506.9664
L 491.688 506.376
L 492.048 507.7944
L 492.408 508.2552
L 492.768 510.0048
L 493.128 509.292
L 493.488 509.8176
L 493.9128 509.0184
L 493.9488 509.8104
L 494.208 508.7016
L 494.568 509.1912
L 494.928 509.1912
L 495.288 509.4216
L 495.648 509.1912
L 496.008 510.3864
L 496.728 509.9544
L 497.088 509.4864
L 497.5056 510.048
L 497.5416 509.256
L 497.808 510.3144
L 498.168 509.3928
L 498.528 509.7024
L 498.888 509.5584
L 499.248 510.156
L 499.6584 509.7312
L 499.6944 510.5232
L 499.968 509.2992
L 500.328 509.3064
L 500.688 508.7088
L 501.048 508.788
L 501.5736 508.5432
L 501.6096 509.3352
L 501.768 508.9248
L 502.128 510.696
L 502.488 509.6376
L 502.848 510.4656
L 503.208 510.0696
L 503.568 510.876
L 503.964 509.976
L 504 510.768
L 504.288 509.0688
L 504.648 509.7888
L 505.008 508.1976
L 505.368 508.2624
L 505.872 506.3904
L 505.908 507.1824
L 506.088 506.2248
L 506.448 506.4552
L 506.808 505.7352
L 507.168 506.5056
L 507.528 506.3832
L 507.888 507.0168
L 508.2624 507.348
L 508.2984 508.14
L 508.608 506.232
L 509.688 505.9584
L 510.048 504.8568
L 510.408 504.7488
L 510.768 504
L 511.1208 505.2384
L 511.1568 504.0432
L 511.488 505.0008
L 511.848 504.576
L 512.208 504.9504
L 512.568 504.3888
L 512.928 505.692
L 513.288 505.3608
L 513.9864 505.9152
L 514.0224 506.7072
L 514.368 506.376
L 514.728 507.7224
L 515.088 507.5136
L 515.448 509.1696
L 515.9016 508.8168
L 515.9376 510.012
L 516.168 509.8392
L 516.528 511.3224
L 516.888 511.3584
L 517.248 513.288
L 517.608 513.1512
L 518.328 514.2024
L 518.688 515.5416
L 519.048 514.6056
L 519.408 515.808
L 519.7176 515.9448
L 519.7536 516.7368
L 520.128 514.3536
L 520.488 515.0304
L 520.848 514.0512
L 521.208 514.8
L 521.568 512.3448
L 522.108 512.9136
L 522.144 512.1216
L 522.288 513.036
L 522.648 512.1648
L 523.368 511.6536
L 523.728 512.0424
L 524.088 510.7032
L 524.448 511.0848
L 524.808 509.9328
L 525.168 509.544
L 525.4488 508.3416
L 525.4848 509.5368
L 525.888 508.8168
L 526.248 509.2488
L 526.608 507.8088
L 526.968 509.3784
L 527.328 508.2624
L 527.688 509.1336
L 528.048 508.2768
L 528.408 508.968
L 528.768 508.3272
L 529.2648 508.14
L 529.3008 507.348
L 529.488 508.572
L 529.848 508.2768
L 530.208 508.464
L 530.568 507.3912
L 530.928 508.392
L 531.288 507.24
L 531.648 507.4992
L 532.008 506.484
L 532.368 507.3264
L 533.088 506.6712
L 533.124 505.476
L 533.448 506.7792
L 533.808 506.34
L 534.168 507.5208
L 534.528 507.3192
L 534.888 508.7232
L 535.248 507.9672
L 535.608 509.7312
L 535.9536 508.7808
L 535.9896 509.5728
L 536.328 509.4648
L 536.688 510.6456
L 537.048 511.0272
L 537.408 511.7688
L 537.768 510.9408
L 538.128 512.3448
L 538.488 511.3224
L 538.848 512.7048
L 539.208 512.5032
L 539.568 512.928
L 539.7696 512.1576
L 539.8056 513.3528
L 540.288 512.7984
L 540.648 513.6336
L 541.008 513.0576
L 541.368 514.26
L 541.728 513.1728
L 542.088 513.2736
L 542.448 511.9848
L 542.808 513.1296
L 543.168 512.6328
L 543.5928 512.9136
L 543.6288 512.1216
L 543.888 513.936
L 544.248 512.8632
L 544.968 512.7768
L 545.328 513.0864
L 545.688 511.7616
L 546.048 512.8488
L 546.4584 512.1216
L 546.4944 512.9136
L 546.768 512.1792
L 547.128 512.1144
L 547.488 511.2576
L 547.848 512.2512
L 548.3664 510.2136
L 548.4024 511.0056
L 548.568 511.1928
L 548.928 511.344
L 549.288 510.4368
L 549.648 510.5664
L 550.008 509.0904
L 550.368 509.9616
L 550.728 508.8168
L 551.232 508.3776
L 551.268 507.5856
L 551.448 508.2624
L 551.808 507.4272
L 552.168 508.8816
L 552.528 508.0176
L 552.888 508.8024
L 553.248 507.3048
L 553.608 507.6648
L 553.968 507.4128
L 554.328 507.7512
L 554.688 507.7656
L 555.048 508.14
L 555.084 507.348
L 555.408 508.212
L 555.768 507.1104
L 556.128 507.5856
L 556.488 507.3408
L 556.848 507.9888
L 557.208 507.5856
L 557.568 509.0184
L 557.928 508.6152
L 558.288 508.968
L 558.648 508.2192
L 558.8712 508.6152
L 558.9072 507.8232
L 559.368 509.7168
L 559.728 508.968
L 560.088 509.9544
L 560.448 508.968
L 560.808 510.1848
L 561.168 508.4784
L 561.528 509.2848
L 561.7368 509.0184
L 561.7728 509.8104
L 562.608 507.6216
L 562.968 507.1824
L 563.328 508.3128
L 563.688 507.1752
L 564.048 507.2112
L 564.408 506.0952
L 564.768 506.0736
L 565.0776 504.9576
L 565.1136 505.7496
L 565.488 504.6768
L 565.848 505.6992
L 566.208 504.9
L 566.568 505.4904
L 566.928 504.8424
L 567.288 505.2024
L 567.648 505.3752
L 568.008 506.0448
L 568.4184 505.1952
L 568.4544 505.9872
L 569.448 504.9792
L 569.808 505.764
L 570.168 505.0296
L 570.528 505.2888
L 570.888 504.36
L 571.248 504.7272
L 571.608 504.0792
L 571.968 504.1872
L 572.2344 504.0072
L 572.2704 504.7992
L 572.688 504.3744
L 573.048 505.3176
L 573.408 505.1952
L 573.768 506.2968
L 574.128 507.0312
L 574.488 508.1328
L 574.848 508.0032
L 575.1 509.0976
L 575.136 508.3056
L 575.568 509.4576
L 575.928 509.2776
L 576.288 509.4648
L 576.648 509.3208
L 577.008 510.5592
L 577.368 510.7608
L 577.728 512.0136
L 577.9656 511.164
L 578.0016 511.956
L 578.448 511.9128
L 578.808 512.8704
L 579.168 511.6464
L 579.528 512.7696
L 579.888 512.532
L 580.248 513.8568
L 580.608 513.5616
L 580.8312 514.584
L 580.8672 513.792
L 581.328 514.2312
L 581.688 514.3896
L 582.048 515.0016
L 582.408 514.5552
L 582.768 514.5696
L 583.128 514.1808
L 583.488 514.5192
L 583.848 513.4536
L 584.208 513.4752
L 584.6544 512.8344
L 584.6904 513.6264
L 584.928 511.9344
L 585.288 511.7688
L 585.648 510.7608
L 586.008 511.3872
L 586.368 509.652
L 586.728 510.3
L 587.0376 508.3056
L 587.0736 509.0976
L 587.808 509.6592
L 588.168 509.1696
L 588.528 510.4152
L 588.888 508.824
L 589.248 509.7816
L 589.608 509.1048
L 589.968 509.4072
L 590.328 508.4928
L 590.5368 509.076
L 590.5728 508.284
L 591.048 509.0112
L 591.408 508.6728
L 591.768 509.6664
L 592.128 509.2488
L 592.488 509.8176
L 592.848 509.8464
L 593.2368 509.5944
L 593.2728 508.5936
L 593.568 510.0696
L 593.928 509.2776
L 594.648 510.66
L 595.008 510.444
L 595.368 510.0912
L 596.088 511.8408
L 596.2896 512.0064
L 596.3256 511.2072
L 596.808 511.092
L 597.168 509.3568
L 597.528 509.3856
L 598.0536 506.2104
L 598.0896 507.0024
L 598.248 506.34
L 598.608 506.7288
L 598.968 505.8792
L 599.328 506.9808
L 599.8176 505.3248
L 599.8536 506.124
L 600.048 506.52
L 600.408 507.6216
L 600.768 508.3488
L 601.128 509.5656
L 601.5888 509.1552
L 601.6248 509.9472
L 601.848 509.652
L 602.208 511.3512
L 602.568 511.6824
L 603.648 515.0808
L 603.9432 515.0376
L 603.9792 515.8296
L 604.368 515.0808
L 604.728 515.5488
L 605.088 514.6704
L 605.448 515.1168
L 605.808 514.5912
L 606.2976 515.8296
L 606.3336 515.0376
L 606.528 515.6928
L 606.888 513.8064
L 607.248 513.6912
L 607.608 511.2576
L 608.0616 511.7112
L 608.0976 510.9192
L 608.328 510.7608
L 608.688 509.7744
L 609.048 509.6016
L 609.8256 508.4784
L 609.8616 507.6792
L 610.128 508.3272
L 610.488 507.456
L 610.848 508.1832
L 611.208 508.104
L 611.568 508.4928
L 611.928 508.0896
L 612.288 508.1904
L 612.7704 506.4984
L 612.8064 507.2976
L 613.008 507.744
L 613.368 507.9456
L 613.728 507.6864
L 614.088 508.5144
L 614.5344 507.9744
L 614.5704 508.7664
L 614.808 509.292
L 615.168 510.5376
L 615.528 510.3936
L 616.0104 512.0064
L 616.0464 511.2144
L 616.248 511.632
L 616.608 510.6744
L 616.968 511.0776
L 617.328 509.6592
L 617.688 509.9616
L 618.0696 508.8528
L 618.1056 509.652
L 618.408 507.42
L 618.768 508.6584
L 619.128 508.0176
L 619.488 509.1552
L 619.848 507.8448
L 620.208 509.4792
L 620.424 507.6792
L 620.46 508.4784
L 621.288 508.6944
L 621.648 508.32
L 622.008 508.4424
L 622.368 508.0752
L 622.7784 509.3568
L 622.8144 508.5648
L 623.088 508.1256
L 623.448 507.8232
L 623.808 508.6152
L 624.168 508.0536
L 624.528 509.6736
L 624.888 508.2768
L 625.248 509.0688
L 625.7232 508.8528
L 625.7592 509.652
L 625.968 508.2696
L 626.328 508.68
L 626.688 507.4992
L 627.048 508.248
L 627.408 507.1248
L 627.768 508.1616
L 628.0776 506.3544
L 628.1136 507.1464
L 628.488 506.1528
L 628.848 506.3688
L 629.208 505.944
L 629.568 506.1816
L 629.928 505.8216
L 630.288 506.6784
L 630.648 505.8432
L 631.008 506.52
L 631.368 505.7064
L 631.6128 507.0024
L 631.6488 506.2104
L 632.088 506.3328
L 632.448 506.0664
L 632.808 506.6424
L 633.168 506.2104
L 633.528 506.1456
L 633.888 505.0872
L 634.248 505.152
L 634.608 504.9864
L 635.1408 505.8216
L 635.1768 505.0296
L 635.328 506.1816
L 635.688 506.1528
L 636.048 507.7584
L 636.408 507.2904
L 636.912 510.2424
L 636.948 509.4432
L 637.128 509.436
L 637.488 508.896
L 637.848 509.0472
L 638.208 508.4136
L 638.568 509.184
L 638.64 506.16
L 638.64 408.24
L 638.784 527.112
L 638.928 507.9528
L 639.288 509.7816
L 639.5544 507.6792
L 639.5904 510.8328
L 640.008 510.8544
L 640.368 513.3384
L 640.7352 512.9784
L 640.7712 513.7776
L 641.088 513.5544
L 641.448 514.296
L 641.808 513.648
L 642.4992 513.864
L 642.5352 514.656
L 642.888 512.676
L 643.248 512.6256
L 643.608 510.8832
L 644.2632 509.1552
L 644.2992 509.9472
L 644.688 509.9904
L 645.048 509.7744
L 645.408 509.8968
L 645.768 510.3936
L 646.0272 510.3288
L 646.0632 511.1208
L 646.488 509.8824
L 646.848 509.7096
L 647.208 509.2272
L 647.5032 510.0912
L 647.5392 509.2992
L 647.928 510.7464
L 648.288 509.5944
L 648.648 511.5816
L 648.972 511.7976
L 649.008 512.5968
L 649.368 510.2352
L 649.728 509.2992
L 650.448 506.1672
L 650.7432 505.3248
L 650.7792 506.7072
L 651.168 504.4176
L 651.528 504.8856
L 651.888 504.1152
L 652.248 504.3816
L 652.5072 502.9704
L 652.5432 504.9432
L 652.968 502.2144
L 653.328 502.992
L 653.688 502.2432
L 654.048 502.4232
L 654.408 501.0768
L 654.768 501.5376
L 655.128 501.048
L 655.452 500.8248
L 655.488 500.0256
L 655.848 502.9776
L 656.208 502.8048
L 656.568 504.0936
L 656.928 504.5832
L 657.216 505.2384
L 657.252 504.4464
L 657.648 505.764
L 658.008 504.8496
L 658.368 505.3968
L 658.728 505.368
L 659.088 506.0016
L 659.5704 505.9152
L 659.6064 506.7072
L 659.808 506.484
L 660.168 506.8224
L 660.528 506.556
L 661.0464 508.4784
L 661.0824 507.6792
L 661.968 511.596
L 662.328 511.7256
L 662.5152 514.3608
L 662.5512 512.9784
L 663.048 513.6912
L 663.408 512.244
L 663.768 512.9856
L 664.2792 511.2072
L 664.3152 512.5968
L 664.488 511.4376
L 664.848 511.7472
L 665.208 511.3944
L 665.568 512.2656
L 666.0504 512.388
L 666.0864 513.1872
L 666.288 511.8912
L 666.648 513.8496
L 667.008 513.5616
L 667.368 515.2536
L 667.8144 515.3328
L 667.8504 516.132
L 668.088 514.6848
L 668.448 514.1448
L 668.808 511.6536
L 669.2976 510.6096
L 669.3336 509.8176
L 669.528 510.1128
L 670.248 509.7888
L 670.608 509.7168
L 670.968 509.7888
L 671.328 509.3352
L 671.688 510.4296
L 671.9472 509.8896
L 671.9832 510.6816
L 673.128 506.5344
L 673.488 505.9872
L 673.7112 504.7344
L 673.7472 505.8288
L 674.208 506.5488
L 674.568 508.2408
L 674.928 508.5144
L 675.288 510.0624
L 675.4752 509.4504
L 675.5112 510.2424
L 676.368 511.0416
L 676.728 510.732
L 677.2464 512.3016
L 677.2824 511.5096
L 677.448 512.2944
L 677.808 511.0992
L 678.168 511.92
L 678.528 510.7032
L 679.0104 510.6816
L 679.0464 509.8896
L 679.248 510.7968
L 679.608 510.2208
L 679.968 510.1416
L 680.328 509.2416
L 680.7744 510.2424
L 680.8104 509.148
L 681.048 509.9976
L 681.408 508.0896
L 681.768 508.9968
L 682.128 508.0536
L 682.488 508.8528
L 682.8336 508.7088
L 682.8696 509.5008
L 683.208 508.2264
L 683.568 509.1984
L 683.928 509.3352
L 684.288 510.0696
L 684.648 508.824
L 685.008 509.7312
L 685.188 509.1552
L 685.224 509.9472
L 685.728 509.904
L 686.088 510.8976
L 686.448 509.8608
L 686.808 510.8256
L 687.168 510.2928
L 687.4272 510.6816
L 687.4632 509.8896
L 687.888 510.5232
L 688.248 508.7952
L 688.608 509.22
L 689.0256 507.6792
L 689.0616 508.4784
L 689.328 507.5568
L 689.688 508.788
L 690.048 508.3416
L 690.408 508.68
L 690.408 508.68
" clip-path="url(#p3de17bb348)" style="fill: none; stroke: #1f77b4; stroke-width: 1.5; stroke-linecap: square"/>
</g>
<g id="patch_13">
<path d="M 52.92 534.6
L 52.92 402.12
" style="fill: none; stroke: #000000; stroke-width: 0.8; stroke-linejoin: miter; stroke-linecap: square"/>
</g>
<g id="patch_14">
<path d="M 722.52 534.6
L 722.52 402.12
" style="fill: none; stroke: #000000; stroke-width: 0.8; stroke-linejoin: miter; stroke-linecap: square"/>
</g>
<g id="patch_15">
<path d="M 52.92 534.6
L 722.52 534.6
" style="fill: none; stroke: #000000; stroke-width: 0.8; stroke-linejoin: miter; stroke-linecap: square"/>
</g>
<g id="patch_16">
<path d="M 52.92 402.12
L 722.52 402.12
" style="fill: none; stroke: #000000; stroke-width: 0.8; stroke-linejoin: miter; stroke-linecap: square"/>
</g>
<g id="text_33">
<g transform="translate(336.6006 395.8680) scale(0.12000 -0.12744)">
<use href="#DejaVuSans-55"/>
<use href="#DejaVuSans-70" transform="translate(73.193359 0)"/>
<use href="#DejaVuSans-20" transform="translate(136.669922 0)"/>
<use href="#DejaVuSans-64" transform="translate(168.457031 0)"/>
<use href="#DejaVuSans-69" transform="translate(231.933594 0)"/>
<use href="#DejaVuSans-73" transform="translate(259.716797 0)"/>
<use href="#DejaVuSans-70" transform="translate(311.816406 0)"/>
<use href="#DejaVuSans-6c" transform="translate(375.292969 0)"/>
<use href="#DejaVuSans-61" transform="translate(403.076172 0)"/>
<use href="#DejaVuSans-63" transform="translate(464.355469 0)"/>
<use href="#DejaVuSans-65" transform="translate(519.335938 0)"/>
<use href="#DejaVuSans-6d" transform="translate(580.859375 0)"/>
<use href="#DejaVuSans-65" transform="translate(678.271484 0)"/>
<use href="#DejaVuSans-6e" transform="translate(739.794922 0)"/>
<use href="#DejaVuSans-74" transform="translate(803.173828 0)"/>
</g>
</g>
</g>
<g id="text_34">
<g transform="translate(331.8349 17.3230) scale(0.11904 -0.12768)">
<defs>
<path id="DejaVuSans-50" d="M 1259 4147
L 1259 2394
L 2053 2394
Q 2494 2394 2734 2622
Q 2975 2850 2975 3272
Q 2975 3691 2734 3919
Q 2494 4147 2053 4147
L 1259 4147
z
M 628 4666
L 2053 4666
Q 2838 4666 3239 4311
Q 3641 3956 3641 3272
Q 3641 2581 3239 2228
Q 2838 1875 2053 1875
L 1259 1875
L 1259 0
L 628 0
L 628 4666
z
" transform="scale(0.015625)"/>
<path id="DejaVuSans-42" d="M 1259 2228
L 1259 519
L 2272 519
Q 2781 519 3026 730
Q 3272 941 3272 1375
Q 3272 1813 3026 2020
Q 2781 2228 2272 2228
L 1259 2228
z
M 1259 4147
L 1259 2741
L 2194 2741
Q 2656 2741 2882 2914
Q 3109 3088 3109 3444
Q 3109 3797 2882 3972
Q 2656 4147 2194 4147
L 1259 4147
z
M 628 4666
L 2241 4666
Q 2963 4666 3353 4366
Q 3744 4066 3744 3513
Q 3744 3084 3544 2831
Q 3344 2578 2956 2516
Q 3422 2416 3680 2098
Q 3938 1781 3938 1306
Q 3938 681 3513 340
Q 3088 0 2303 0
L 628 0
L 628 4666
z
" transform="scale(0.015625)"/>
<path id="DejaVuSans-4c" d="M 628 4666
L 1259 4666
L 1259 531
L 3531 531
L 3531 0
L 628 0
L 628 4666
z
" transform="scale(0.015625)"/>
<path id="DejaVuSans-59" d="M -13 4666
L 666 4666
L 1959 2747
L 3244 4666
L 3922 4666
L 2272 2222
L 2272 0
L 1638 0
L 1638 2222
L -13 4666
z
" transform="scale(0.015625)"/>
<path id="DejaVuSans-5f" d="M 3263 -1063
L 3263 -1509
L -63 -1509
L -63 -1063
L 3263 -1063
z
" transform="scale(0.015625)"/>
</defs>
<use href="#DejaVuSans-50"/>
<use href="#DejaVuSans-31" transform="translate(60.302734 0)"/>
<use href="#DejaVuSans-39" transform="translate(123.925781 0)"/>
<use href="#DejaVuSans-36" transform="translate(187.548828 0)"/>
<use href="#DejaVuSans-2e" transform="translate(251.171875 0)"/>
<use href="#DejaVuSans-50" transform="translate(282.958984 0)"/>
<use href="#DejaVuSans-42" transform="translate(343.261719 0)"/>
<use href="#DejaVuSans-2e" transform="translate(411.865234 0)"/>
<use href="#DejaVuSans-4c" transform="translate(443.652344 0)"/>
<use href="#DejaVuSans-59" transform="translate(486.115234 0)"/>
<use href="#DejaVuSans-5f" transform="translate(547.199219 0)"/>
<use href="#DejaVuSans-2e" transform="translate(597.199219 0)"/>
<use href="#DejaVuSans-33" transform="translate(628.986328 0)"/>
<use href="#DejaVuSans-30" transform="translate(692.609375 0)"/>
</g>
</g>
</g>
<defs>
<clipPath id="p42a139c34b">
<rect x="52.92" y="45" width="669.6" height="132.48"/>
</clipPath>
<clipPath id="pe26fd05112">
<rect x="52.92" y="223.56" width="669.6" height="132.48"/>
</clipPath>
<clipPath id="p3de17bb348">
<rect x="52.92" y="402.12" width="669.6" height="132.48"/>
</clipPath>
</defs>
</svg>

</body></html>
